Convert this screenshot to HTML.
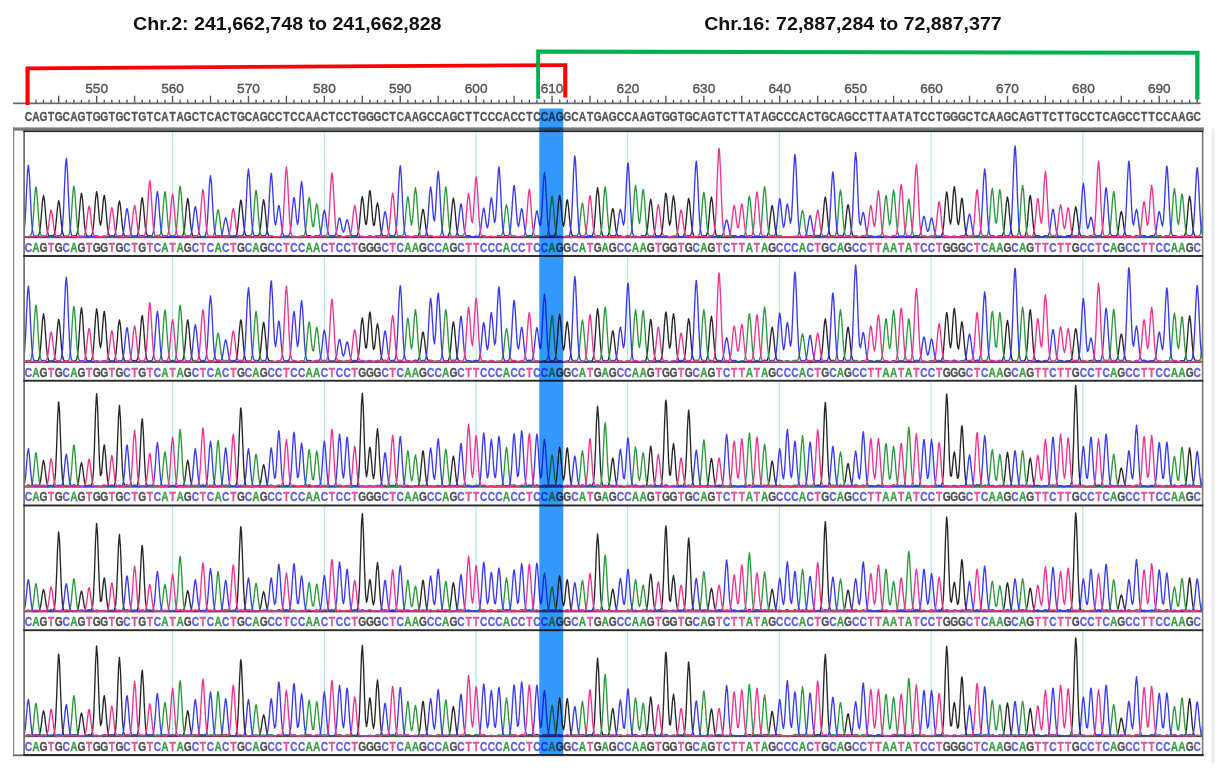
<!DOCTYPE html><html><head><meta charset="utf-8"><style>html,body{margin:0;padding:0;background:#fff;}body{width:1229px;height:777px;overflow:hidden;position:relative;}svg{position:absolute;left:0;top:0;}.sq{font-family:"Liberation Sans",sans-serif;font-weight:bold;font-size:13.6px;text-anchor:middle;stroke-width:0.35px;}</style></head><body>
<svg width="1229" height="777" viewBox="0 0 1229 777">
<defs>
<clipPath id="pc"><rect x="24.9" y="131" width="1176.9" height="625"/></clipPath>
<g id="tr0" fill="none" stroke-width="1.35" stroke-linejoin="round">
<path stroke="#262626" d="M24.50 -0.1l1 0 1-.2 1-.1 .85 0 .15 0 1 0 1 .2 1 0 1 0 1-.2 1-.2 1-.2 .44 0 .56 0 1 0 1-.8 1-2.9 1-7.2 1-11.9 1-12.4 1-5.7 .03 0 .97 5.1 1 12.2 1 12.1 1 7.5 1 3.2 1 .8 1 .1 .62 0 .38 0 1 0 1-.5 1-2.1 1-5.5 1-9.7 1-11.1 1-6.5 .21-.2 .79 3 1 10 1 10.9 1 7.3 1 3.4 1 .9 1 .1 .8 0 .2 0 1 .2 1 .1 1 .2 1-.1 1-.3 1-.3 1-.3 .39 0 .61 0 1 0 1-.7 1-3.2 1-7.8 1-12.7 1-12.9 .98-5.5 .02 0 1 5.9 1 13.1 1 12.5 1 7.6 1 3.2 1 .7 1 0 .57 0 .43 0 1 0 1-.6 1-2.7 1-7.2 1-12.4 1-13.9 1-7.5 .16-.2 .84 4.2 1 12.4 1 12.2 1 4.9 1-4.6 1-11.3 1-10.9 .75-3.1 .25 .3 1 7.8 1 12.9 1 11 1 6.1 1 2.4 1 .5 1 0 .34 0 .66 0 1 0 1-.8 1-2.9 1-6.7 1-10.6 1-10.5 .93-4.1 .07 0 1 5.3 1 10.9 1 10.2 1 6.1 1 2.4 1 .5 1 0 .52 0 .48 0 1 .2 1 .3 1 .2 1 .1 1-.1 1 0 1-.1 .11 0 .89 0 1-.3 1-1.3 1-4.1 1-8.4 1-12 1-10.4 .7-2.6 .3 .5 1 7.7 1 12.2 1 10.2 1 5.5 1 1.9 1 .2 1-.1 .29 0 .71 .1 1 .3 1 .4 1 .1 1-.2 1-.4 1-.4 .88-.2 .12 0 1 .3 1 .5 1 .4 1 .2 1 0 1-.1 1 0 .47 0 .53 0 1 0 1 .1 1 .1 1-.1 1-.1 1-.2 1-.1 .06 0 .94 .1 1 .2 1 .1 1 .1 1 0 1-.1 1 0 .65-.1 .35 0 1-.1 1-.6 1-2.3 1-5.7 1-10.3 1-11.9 1-7.1 .24-.3 .76 3 1 10.5 1 11.6 1 8 1 3.6 1 1.1 1 .2 .83 0 .17 0 1 .1 1 .2 1 .1 1 .1 1-.1 1-.1 1-.1 .42 0 .58 0 1 .1 1 .1 1 .1 1-.1 1-.3 1-.2 1-.1 .01 0 .99 .1 1 .2 1 .2 1 0 1-.3 1-.4 1-.4 .6-.1 .4 .1 1 .3 1 .4 1 .3 1 0 1-.3 1-.4 1-.2 .19 0 .81 .1 1 .3 1 .4 1 .2 1 .1 1-.2 1-.1 .78-.1 .22 0 1 0 1-.4 1-1.8 1-4.9 1-9.3 1-11.5 1-7.8 .37-.7 .63 2 1 9.4 1 11.4 1 8.1 1 3.8 1 1 1-.1 .96-.1 .04 0 1 .2 1 .5 1 .3 1 .2 1-.1 1-.3 1-.3 .55 0 .45 0 1 .1 1-.5 1-2.3 1-5.9 1-10.2 1-11.4 1-6 .14-.1 .86 3.6 1 10.6 1 11.1 1 7.2 1 3.3 1 1 1 .1 .73 .1 .27 0 1 0 1 .1 1 .1 1 0 1 0 1-.1 1-.1 .32 0 .68 0 1 .1 1 .1 1-.1 1-.2 1-.3 1-.3 .91-.2 .09 0 1 .2 1 .4 1 .2 1 .1 1-.1 1-.2 1-.2 .5 0 .5 0 1 .2 1 .3 1 .1 1 .1 1-.1 1-.1 1 0 .09 0 .91 0 1 .1 1 0 1-.1 1-.3 1-.4 1-.4 .68-.1 .32 0 1 .3 1 .5 1 .3 1 0 1-.2 1-.3 1-.2 .27 0 .73 .1 1 .3 1 .3 1 .1 1-.2 1-.3 1-.4 .86-.1 .14 0 1 .2 1 .4 1 .3 1 .2 1 0 1 0 1-.1 .45 0 .55 0 1 .1 1 0 1 0 1-.2 1-.4 1-.4 1-.2 .04 0 .96 .2 1 .4 1 .4 1 .2 1 0 1 0 1-.1 .63 0 .37 0 1 .1 1 0 1 0 1-.2 1-.3 1-.4 1-.3 .22 0 .78 0 1 .1 1-.8 1-3.5 1-8 1-12.1 1-11.2 .81-3.5 .19 .2 1 6.8 1 11.8 1 8.5 1 .2 1-9.1 1-13.7 1-9.9 .4-1 .6 2.2 1 11.5 1 13.5 1 7.9 1-.9 1-8 1-9.7 .99-4.2 .01 0 1 4.5 1 10.2 1 9.7 1 5.9 1 2.3 1 .4 1-.2 .58 0 .42 0 1 .4 1 .4 1 .4 1 .1 1-.1 1-.2 1-.1 .17 0 .83 .1 1 .1 1 .2 1 .1 1-.1 1-.1 1-.1 .76 0 .24 0 1 .1 1 .1 1 0 1 0 1-.2 1-.3 1-.2 .35 0 .65 0 1 .3 1 .2 1 .2 1 0 1-.1 1-.2 .94 0 .06 0 1 0 1-.2 1-1.1 1-3.2 1-6.5 1-8.6 1-6.6 .53-1.1 .47 .8 1 6.4 1 8.6 1 6.7 1 3.4 1 1.2 1 .3 1 0 .12 0 .88 0 1 .1 1 .2 1 0 1 0 1-.1 1-.1 .71 0 .29 0 1 .1 1 .1 1 0 1 0 1-.1 1-.2 1-.1 .3 0 .7 0 1-.1 1-1 1-3.3 1-7.4 1-11.4 1-11.2 .89-4 .11 .1 1 6 1 11.8 1 10.8 1 6.3 1 2.6 1 .6 1 .1 .48 0 .52 0 1 .1 1 .2 1 .1 1-.2 1-.3 1-.4 1-.2 .07 0 .93 .2 1 .3 1 .4 1 .2 1-.1 1-.1 1-.2 .66 0 .34 0 1 .1 1 .2 1 .1 1-.1 1-.2 1-.2 1-.2 .25 0 .75 .1 1 .2 1 .3 1 .1 1 0 1-.1 1-.1 .84 0 .16 0 1 0 1 .2 1 0 1 0 1-.1 1-.2 1-.2 .43 0 .57 0 1 .2 1 .2 1 .2 1 0 1 0 1-.1 1 0 .02 0 .98 0 1 .1 1 0 1 0 1-.1 1-.2 1-.1 .61-.1 .39 .1 1 .1 1 .1 1 .2 1 0 1 0 1-.1 1 0 .2 0 .8 0 1 0 1 .1 1-.1 1-.2 1-.4 1-.3 .79-.1 .21 0 1 .2 1 .4 1 .2 1 .1 1-.2 1-.3 1-.2 .38 0 .62 .1 1 .2 1 .3 1 .2 1 0 1-.1 1-.1 .97-.1 .03 0 1 .1 1 .1 1 .1 1 0 1-.2 1-.2 1-.2 .56-.1 .44 0 1 0 1-.5 1-2.6 1-6.6 1-11.4 1-12.7 1-6.9 .15-.1 .85 3.9 1 11.5 1 11.1 1 4.5 1-4.1 1-10.1 1-9.7 .74-2.7 .26 .3 1 7.1 1 11.5 1 9.7 1 5.4 1 1.9 1 .2 1-.2 .33 0 .67 .1 1 .4 1 .4 1 .2 1 0 1-.2 1-.2 .92-.1 .08 0 1 .1 1 .2 1 .2 1 .1 1-.2 1-.3 1-.2 .51 0 .49 0 1 0 1-.8 1-3.3 1-8.1 1-13.7 1-15 1-7.5 .1-.1 .9 5.2 1 14.2 1 14.6 1 9.3 1 4 1 1.2 1 .1 .69 0 .31 0 1 .1 1-.3 1-1.4 1-4.1 1-7.4 1-8.8 1-5.5 .28-.3 .72 2 1 7.6 1 8.6 1 6 1 2.6 1 .7 1-.1 .87-.1 .13 0 1 .2 1 .4 1 .2 1 0 1-.3 1-.5 1-.3 .46-.1 .54 .1 1 .4 1 .4 1 .4 1 0 1-.1 1-.2 1-.1 .05 0 .95 .1 1 .2 1 .1 1 0 1-.2 1-.4 1-.4 .64-.1 .36 0 1 .2 1-.3 1-2 1-5.5 1-10 1-11.7 1-6.8 .23-.3 .77 3 1 10.3 1 11.4 1 7.7 1 3.4 1 .9 1 0 .82 0 .18 0 1 .1 1-.3 1-1.9 1-5.7 1-10.8 1-13.7 1-9.6 .41-1 .59 2 1 10.7 1 12.6 1 6.8 1-2.4 1-10.1 1-11.8 1-5.2 1 5.4 1 12.2 1 11.9 1 7.3 1 3.2 1 .9 1 .2 .59 0 .41 0 1-.1 1-.7 1-2.4 1-6 1-10.5 1-11.8 1-6.6 .18-.2 .82 3.4 1 10.8 1 11.6 1 7.6 1 3.6 1 1.1 1 .2 .77 0 .23 0 1 .1 1 0 1 0 1-.1 1-.3 1-.4 1-.2 .36-.1 .64 .1 1 0 1-.6 1-3 1-7.3 1-11.6 1-11.7 .95-4.7 .05 0 1 5.7 1 12 1 11.3 1 6.9 1 2.9 1 .7 1 .1 .54 .1 .46 0 1 .1 1 .1 1 .1 1 0 1-.1 1-.1 1 0 .13 0 .87 0 1 .1 1 0 1 0 1-.3 1-.4 1-.4 .72-.1 .28 0 1 .3 1 .4 1 .3 1 0 1-.3 1-.4 1-.3 .31 0 .69 .1 1 .3 1 .4 1 .2 1 0 1-.3 1-.3 .9-.1 .1 0 1 .1 1 .4 1 .3 1 .1 1-.1 1-.1 1-.2 .49 0 .51 0 1 .2 1 .1 1 .1 1 0 1-.1 1-.2 1 0 .08-.1 .92 .1 1-.2 1-1 1-3.3 1-6.8 1-9.7 1-8.2 .67-1.9 .33 .5 1 6.4 1 9.8 1 8 1 4.4 1 1.5 1 .2 1-.1 .26 0 .74 .1 1 .2 1 .3 1 .1 1 0 1-.1 1-.1 .85 0 .15 0 1 0 1 .2 1 0 1 0 1-.2 1-.2 1-.2 .44 0 .56 0 1 .2 1 .3 1 .1 1 0 1-.1 1-.2 1-.1 .03 0 .97 .1 1 .1 1 .2 1-.1 1-.3 1-.5 1-.4 .62 0 .38 0 1 .3 1 .5 1 .2 1 0 1-.3 1-.5 1-.3 .21 0 .79 .1 1 .1 1-.8 1-3.4 1-8 1-12 1-11.1 .8-3.4 .2 .2 1 7 1 12.4 1 10.8 1 6.1 1 2.4 1 .6 1 0 .39 0 .61 .1 1 .1 1 .1 1 0 1-.2 1-.4 1-.5 .98-.2 .02 0 1 .2 1 .1 1-.9 1-3.5 1-7.3 1-10 1-8 .57-1.4 .43 .8 1 7.2 1 10.1 1 7.9 1 4.1 1 1.4 1 .2 1 0 .16 0 .84 .1 1 .2 1 .2 1 .1 1 0 1 0 1-.1 .75 0 .25 0 1 0 1 .1 1 0 1-.1 1-.1 1-.3 1-.1 .34 0 .66 0 1 .2 1 .2 1 .1 1-.1 1-.2 1-.3 .93-.1 .07 0 1 .2 1 .2 1 .2 1 .1 1-.2 1-.3 1-.2 .52 0 .48 0 1 .2 1 .3 1 .2 1 0 1-.1 1-.1 1-.1 .11 0 .89 .1 1 .1 1 .1 1 0 1-.1 1-.3 1-.2 .7-.1 .3 0 1 .2 1 .3 1 .2 1 .1 1 0 1-.1 1 0 .29 0 .71 0 1 .1 1 0 1 0 1-.1 1-.2 1-.1 .88-.1 .12 0 1 .1 1 .2 1 .1 1 .1 1-.1 1 0 1-.1 .47 0 .53 0 1 .1 1 0 1 .1 1-.1 1-.2 1-.3 1-.1 .06 0 .94 .1 1 .2 1 .3 1 .1 1 0 1-.1 1 0 .65-.1 .35 0 1-.1 1-.7 1-2.7 1-6.8 1-11.9 1-14 1-8.3 .24-.3 .76 3.4 1 11.9 1 12.1 1 4.7 1-5.6 1-13.6 1-13.8 .83-4.5 .17 .2 1 8.4 1 14.9 1 11.8 1 3 1-6.3 1-11.2 1-8.3 .42-.9 .58 1.8 1 9.6 1 12 1 8.8 1 4.3 1 1.3 1 .1 1 0 .01 0 .99 .1 1 .3 1 .3 1 0 1-.1 1-.3 1-.2 .6 0 .4 0 1 .2 1 .2 1 .2 1-.1 1-.3 1-.3 1-.2 .19-.1 .81 .2 1 .3 1 .3 1 .2 1-.1 1-.3 1-.3 .78-.1 .22 0 1 .2 1 .3 1 .2 1 .1 1-.3 1-.3 1-.3 .37 0 .63 0 1 .1 1-.7 1-3 1-7.2 1-11.6 1-11.7 .96-4.8 .04 0 1 5.6 1 12 1 11.3 1 6.9 1 2.8 1 .7 1 0 .55 0 .45 .1 1 .1 1 .3 1 .1 1 0 1-.2 1-.2 1-.1 .14 0 .86 0 1-.1 1-1.3 1-4.1 1-8.7 1-12.7 1-11.1 .73-3 .27 .4 1 7.9 1 13 1 10.9 1 6.1 1 2.3 1 .6 1 .1 .32 0 .68 0 1 .1 1 .1 1 0 1-.2 1-.3 1-.4 .91-.1 .09 0 1 .2 1 .3 1 .3 1 .1 1-.2 1-.3 1-.3 .5 0 .5 0 1 .3 1 .3 1 .3 1 .1 1-.1 1 0 1-.1 .09 0 .91 .1 1 0 1 .1 1-.1 1-.3 1-.4 1-.4 .68-.1 .32 0 1 .2 1-.1 1-1.4 1-4.2 1-7.9 1-9.3 1-5.7 .27-.3 .73 2.1 1 8.1 1 9.1 1 6.3 1 2.8 1 .7 1 0 .86-.1 .14 0 1 .2 1 .3 1 .2 1 .1 1-.3 1-.3 1-.3 .45 0 .55 0 1 .3 1 .4 1 .1 1 0 1-.4 1-.4 1-.1 .04 0 .96 .1 1 .4 1 .4 1 .2 1 0 1-.1 1-.1 .63 0 .37 0 1 .1 1 .1 1 0 1-.1 1-.2 1-.3 1-.1 .22 0 .78 0 1 .1 1-.6 1-2.1 1-5.1 1-7.6 1-7.1 .81-2.2 .19 .1 1 4.4 1 7.9 1 6.8 1 3.8 1 1.3 1 0 1-.2 .4 0 .6 .1 1 .3 1 .4 1 .2 1-.1 1-.3 1-.4 .99-.1 .01 0 1 .1 1 .4 1 .3 1 .1 1-.2 1-.4 1-.3 .58-.1 .42 .1 1 .3 1 .4 1 .2 1 .1 1-.3 1-.2 1-.2 .17 0 .83 .1 1 .2 1 .3 1 .1 1-.2 1-.5 1-.3 .76-.2 .24 .1 1 .2 1 .5 1 .3 1 0 1-.2 1-.3 1-.2 .35-.1 .65 .1 1 .3 1 .3 1 .2 1-.1 1-.3 1-.3 .94-.2 .06 0 1 .2 1 .3 1 .3 1 .2 1 0 1-.2 1-.1 .53 0 .47 0 1-.1 1-.7 1-2.7 1-6.7 1-11.3 1-12.4 1-6.4 .12-.1 .88 4.2 1 11.6 1 12.1 1 7.9 1 3.4 1 1.1 1 .2 .71 0 .29 0 1 .1 1 .1 1 .1 1-.1 1-.1"/>
<path stroke="#2a9a3c" d="M24.50 -0.1l1-.1 1-.2 1-.2 .85-.1 .15 0 1 0 1-.5 1-2.2 1-6.4 1-12.2 1-15.7 1-11.2 .44-1.3 .56 2.1 1 12.3 1 15.5 1 11.5 1 5.7 1 1.8 1 .2 1-0 .03-0 .97 .1 1 .3 1 .4 1 .1 1-0 1-0 1-.1 .62-0 .38-0 1 .1 1-0 1 .1 1-.1 1-.3 1-.3 1-.1 .21-.1 .79 .1 1 .3 1 .2 1 .2 1-.1 1-.2 1-.2 .8-0 .2-0 1-.1 1-.5 1-2.4 1-6.7 1-12.7 1-15.9 1-10.8 .39-1.1 .61 2.6 1 12.7 1 15.8 1 11.3 1 5.6 1 1.7 1 .3 .98-0 .02-0 1 .1 1 .3 1 .2 1 .2 1-0 1-.1 1-0 .57-.1 .43 .1 1-0 1 .1 1-0 1-.1 1-.2 1-.3 1-.1 .16-0 .84 .1 1 .2 1 .2 1 .2 1-0 1-.1 1-.1 .75-0 .25-0 1 .1 1-0 1 .1 1-0 1-.1 1-.1 1-0 .34-0 .66-0 1 .1 1-0 1 .1 1-.2 1-.2 1-.2 .93-.1 .07-0 1 .1 1 .2 1 .2 1-0 1-.3 1-.4 1-.3 .52-.1 .48 .1 1 .3 1 .4 1 .3 1 .1 1-0 1-.1 1-.1 .11-0 .89 .1 1 .1 1 .1 1-0 1-.1 1-.1 1-.2 .7-0 .3-0 1 .1 1 .1 1 .1 1-.1 1-.2 1-.4 1-.2 .29-0 .71 .1 1 .3 1 .3 1-0 1-.1 1-.4 1-.5 .88-.1 .12-0 1 .1 1-.1 1-1.8 1-5.4 1-10.9 1-14.1 1-10.4 .47-1.4 .53 1.7 1 10.9 1 14.1 1 10.6 1 5.3 1 1.8 1 .3 1-0 .06-0 .94-0 1-.3 1-1.7 1-5.3 1-11.2 1-15.6 1-13.1 .65-2.9 .35 .9 1 10.5 1 15.8 1 12.9 1 7 1 2.7 1 .7 1 .1 .24-0 .76-0 1 .1 1 .1 1-.1 1-.3 1-.4 1-.4 .83-.1 .17-0 1 .2 1 .5 1 .3 1 .2 1-.1 1-.2 1-.1 .42-0 .58-0 1 .2 1 .1 1 .2 1-0 1-.1 1-.2 1-0 .01-0 .99-0 1-.2 1-1 1-3 1-6.1 1-8.5 1-6.8 .6-1.3 .4 .6 1 5.9 1 8.5 1 6.7 1 3.6 1 1.2 1 .2 1-0 .19-0 .81-0 1 .2 1 .1 1-0 1-.2 1-.4 1-.3 .78-.1 .22-0 1 .2 1 .4 1 .3 1 .2 1-0 1-.2 1-0 .37-.1 .63 .1 1 .1 1 .1 1-0 1-.1 1-.3 1-.3 .96-.1 .04-0 1-0 1-.2 1-1.7 1-5.4 1-10.7 1-14.6 1-11.3 .55-1.9 .45 1.3 1 10.5 1 14.6 1 11.3 1 5.9 1 2.1 1 .4 1-0 .14-0 .86-0 1 .2 1 .2 1 .1 1-.2 1-.2 1-.3 .73-.1 .27-0 1 .2 1 .3 1 .3 1 .1 1-.1 1-0 1-.1 .32-0 .68-0 1 .1 1 .1 1-0 1-0 1-.1 1-.1 .91-0 .09-0 1 .1 1-0 1 .1 1-0 1-.1 1-.2 1-.1 .5-0 .5-0 1 .1 1 .2 1-0 1-.1 1-.3 1-.4 1-.2 .09-0 .91 .1 1-0 1-1.2 1-3.9 1-8.4 1-12.1 1-10.3 .68-2.4 .32 .5 1 7.8 1 11.7 1 8.2 1 .7 1-6.5 1-9.7 1-6.2 .27-.3 .73 2.4 1 8.9 1 10 1 6.9 1 3.2 1 .8 1-0 .86-0 .14-0 1 .1 1 .3 1 .3 1-0 1-.1 1-.2 1-.2 .45-0 .55-0 1 .2 1 .2 1 .2 1-0 1-.2 1-.1 1-.1 .04-0 .96 .1 1 .1 1 .1 1-0 1-.2 1-.4 1-.3 .63-.1 .37-0 1 .3 1 .4 1 .2 1-0 1-.2 1-.4 1-.2 .22-0 .78 .1 1 .3 1 .4 1 .2 1-0 1-.2 1-.1 .81-0 .19-0 1 .1 1 .1 1 .1 1-.1 1-.2 1-.3 1-.2 .4-0 .6-0 1 .3 1 .3 1 .1 1-0 1-.3 1-.2 .99-.1 .01-0 1 .1 1 .2 1 .3 1-0 1-.3 1-.4 1-.4 .58-0 .42-0 1 .3 1 .4 1 .3 1-0 1-.3 1-.3 1-.2 .17-0 .83 .1 1 .3 1 .4 1 .2 1-.1 1-.1 1-.2 .76-0 .24-0 1-0 1-.5 1-2 1-5.5 1-10.2 1-12.6 1-8.3 .35-.7 .65 2.2 1 10.1 1 11.1 1 4.9 1-4.8 1-12.9 1-14 .94-5.6 .06-0 1 7.1 1 14.8 1 13.9 1 8.4 1 3.5 1 .8 1 .1 .53-0 .47-0 1 .2 1 .2 1 .1 1-.1 1-.3 1-.4 1-.2 .12-0 .88 .2 1 .3 1 .4 1 .2 1-0 1-.1 1-.1 .71-0 .29-0 1-.1 1-.7 1-2.8 1-7.1 1-13 1-15.6 1-9.9 .3-.6 .7 3.3 1 13.3 1 15.3 1 10.7 1 5.2 1 1.7 1 .4 .89-0 .11-0 1 .1 1-0 1 .1 1-.1 1-.3 1-.3 1-.3 .48-0 .52-0 1 .3 1 .3 1 .2 1-.1 1-.3 1-.4 1-.2 .07-0 .93 .2 1 .3 1 .4 1 .1 1-.1 1-.3 1-.2 .66-.1 .34-0 1 .2 1 .3 1 .2 1-.1 1-.3 1-.5 1-.2 .25-0 .75 .1 1 .4 1 .4 1 .2 1-0 1-.1 1-.2 .84-0 .16-0 1 .1 1 .1 1 .2 1-.1 1-.2 1-.4 1-.2 .43-.1 .57-0 1 .2 1-.5 1-2.2 1-5.5 1-9.2 1-9.7 1-4.3 .02-0 .98 4 1 9.6 1 9.3 1 5.7 1 2.4 1 .5 1-.1 .61-0 .39-0 1 .2 1 .3 1 .2 1-0 1-.1 1-.3 1-.1 .2-0 .8-0 1 .3 1 .2 1-0 1-.2 1-.4 1-.4 .79-.1 .21-0 1 .3 1 .4 1 .3 1-0 1-.3 1-.5 1-.3 .38-0 .62 .1 1 .3 1 .5 1 .3 1-0 1-.2 1-.3 .97-.1 .03-0 1-0 1-.2 1-1.4 1-4.7 1-9.3 1-12.7 1-10 .56-1.7 .44 1.1 1 9.1 1 12.8 1 9.9 1 5.3 1 1.9 1 .4 1 .1 .15-0 .85-0 1 .1 1 .1 1-.1 1-.2 1-.4 1-.3 .74-.1 .26-0 1 .2 1 .4 1 .2 1 .1 1-.2 1-.4 1-.2 .33-0 .67-0 1 .1 1-.6 1-2.6 1-6.3 1-9.9 1-9.8 .92-3.7 .08-0 1 5.1 1 10.2 1 9.4 1 5.6 1 2.1 1 .3 1-.1 .51-.1 .49 .1 1 .3 1 .4 1 .3 1 .1 1-.1 1-.2 1-.1 .1-0 .9-0 1-.3 1-1.7 1-5.1 1-10.7 1-15.4 1-13.2 .69-3.2 .31 .7 1 9.9 1 15.6 1 12.9 1 7 1 2.5 1 .5 1-.1 .28-0 .72 .1 1 .3 1 .4 1 .2 1 .1 1-.1 1-0 .87-0 .13-0 1-0 1 .1 1-0 1-.1 1-.2 1-.2 1-.2 .46-.1 .54-0 1-0 1-1 1-3.6 1-8.8 1-14.6 1-15.5 1-7.3 .05-0 .95 6 1 14.6 1 13.2 1 4.3 1-6.3 1-13.4 1-11.9 .64-2.6 .36 .8 1 10 1 14.9 1 12.1 1 6.5 1 2.5 1 .6 1 .1 .23-0 .77-0 1 .1 1 .1 1-.1 1-.2 1-.4 1-.4 .82-.1 .18-0 1 .2 1 .4 1 .4 1 .1 1-0 1-.1 1-.1 .41-0 .59-0 1 .1 1 .1 1 .1 1-.1 1-.1 1-.2 1-0 1-0 1 .2 1 .1 1-0 1-.1 1-.2 1-.2 .59-0 .41-0 1 .1 1 .2 1 .1 1-.1 1-.3 1-.5 1-.2 .18-0 .82 .1 1 .4 1 .4 1 .3 1-0 1-0 1-.1 .77-0 .23-0 1-.1 1-.6 1-2.3 1-6.1 1-11.3 1-14 1-9.3 .36-.8 .64 2.5 1 11.4 1 13.8 1 9.8 1 4.7 1 1.5 1 .1 .95-0 .05-0 1 .2 1 .2 1 .3 1-.1 1-.2 1-.4 1-.4 .54-0 .46-0 1 .3 1 .4 1 .3 1-0 1-.3 1-.4 1-.2 .13-0 .87 .1 1 .4 1 .3 1 .1 1-.2 1-.3 1-.4 .72-.1 .28-0 1 .3 1 .4 1 .3 1 .2 1-.1 1-.2 1-.1 .31-0 .69-0 1-.1 1-1 1-3.4 1-7.7 1-12 1-11.8 .9-4.3 .1 .1 1 6.2 1 12.4 1 11.4 1 6.7 1 2.7 1 .6 1 .1 .49-0 .51-0 1-.1 1-.9 1-3.5 1-8.4 1-14.1 1-15.3 1-7.5 .08-0 .92 5.6 1 14.6 1 14.7 1 9.4 1 3.9 1 .9 1-.1 .67-.1 .33 .1 1 .3 1 .5 1 .3 1 .2 1-0 1-.1 1-.1 .26-0 .74-0 1 .1 1 .1 1 .1 1-.1 1-.1 1-.1 .85-0 .15-0 1-0 1 .2 1 .1 1-0 1-.1 1-.2 1-.1 .44-0 .56-0 1-.1 1-.4 1-1.9 1-4.7 1-7.7 1-8 1-3.7 .03-0 .97 3.3 1 7.9 1 7.8 1 4.8 1 2 1 .4 1-.1 .62-0 .38-0 1 .2 1 .3 1 .1 1-0 1-.2 1-.3 1-.2 .21-0 .79 .1 1 .2 1 .3 1 .2 1-0 1-.2 1-.1 .8-.1 .2-0 1 .1 1 .2 1 .1 1 .1 1-0 1-.1 1-0 .39-0 .61-.1 1-.2 1-1.1 1-3.7 1-8.5 1-13.6 1-13.8 .98-5.9 .02-0 1 6.3 1 14 1 13.4 1 8.3 1 3.4 1 .9 1 .1 .57-0 .43-0 1 .2 1 .2 1 .1 1-.1 1-.2 1-.3 1-.2 .16-0 .84 .1 1 .3 1 .2 1 .1 1-.3 1-.4 1-.4 .75-.1 .25-0 1 .3 1 .4 1 .4 1-0 1-.2 1-.3 1-.2 .34-.1 .66 .1 1 .3 1 .3 1 .2 1-0 1-.3 1-.2 .93-.1 .07-0 1-0 1-.2 1-1.6 1-4.9 1-9.7 1-13 1-9.9 .52-1.5 .48 1.3 1 9.3 1 12 1 6.8 1-2.6 1-11.2 1-13.7 1-7.2 .11-.1 .89 4.9 1 13.5 1 13.9 1 9 1 4 1 1.2 1 .3 .7-0 .3-0 1-.1 1-.5 1-2.1 1-5.5 1-9.8 1-11.7 1-7.4 .29-.4 .71 2.5 1 10.1 1 11.5 1 7.9 1 3.6 1 1 1-0 .88-.1 .12-0 1 .2 1 .4 1 .3 1-0 1-.2 1-.5 1-.3 .47-0 .53-0 1 .4 1 .4 1 .2 1-0 1-.4 1-.3 1-.2 .06-0 .94 .1 1 .4 1 .4 1 .1 1-0 1-.2 1-.2 .65-.1 .35 .1 1 .1 1 .2 1 .2 1-0 1-.2 1-.2 1-.2 .24-0 .76 .1 1 .2 1 .2 1 .1 1 .1 1-.1 1-.1 .83-0 .17-0 1-0 1 .1 1-0 1-0 1-.3 1-.3 1-.3 .42-0 .58 .1 1 .2 1 .4 1 .2 1 .1 1-.1 1-.1 1-0 .01-0 .99-0 1 .1 1 .1 1-0 1-0 1-.1 1-.1 .6-0 .4-0 1 .1 1 .1 1-0 1-0 1-.2 1-.1 1-.1 .19-0 .81-0 1-.3 1-1.4 1-4.6 1-9.9 1-14.6 1-13.4 .78-3.9 .22 .3 1 8.6 1 14.3 1 10.5 1 .9 1-8.9 1-14 1-9.7 .37-.9 .63 2.5 1 12.1 1 14.7 1 10.5 1 5.2 1 1.8 1 .4 .96-0 .04-0 1 .1 1-0 1 .1 1-0 1-0 1-0 1-.1 .55-0 .45-0 1-.2 1-1 1-3.5 1-8.3 1-14.2 1-15.8 1-8.4 .14-.1 .86 5 1 14.7 1 15.3 1 10.1 1 4.5 1 1.4 1 .3 .73-0 .27 .1 1-0 1 .1 1 .1 1-.1 1-.1 1-.3 1-.1 .32-0 .68-0 1 .2 1 .2 1 .2 1-0 1-.1 1-0 .91-0 .09-0 1-0 1-0 1 .1 1-.2 1-.3 1-.4 1-.4 .5-0 .5-0 1 .4 1 .4 1 .2 1-0 1-.2 1-.3 1-.2 .09-0 .91 .2 1 .3 1 .3 1 .1 1-0 1-.1 1-.1 .68-0 .32-0 1 .1 1 .1 1 .1 1-.1 1-.1 1-.1 1-.1 .27-.1 .73 .1 1 .1 1 .2 1-0 1-0 1-.2 1-.2 .86-.1 .14-0 1 .1 1 .2 1 .2 1-0 1-.1 1-.2 1-.2 .45-0 .55-0 1 .2 1 .2 1 .1 1 .1 1-.1 1-.1 1-.1 .04-0 .96 .1 1 .1 1-0 1-.1 1-.2 1-.5 1-.3 .63-.1 .37-0 1 .1 1-.4 1-2.4 1-6.8 1-12.1 1-14 1-8.2 .22-.3 .78 3.7 1 12.5 1 13.7 1 9.2 1 4.2 1 1.2 1 .1 .81-0 .19-0 1 .2 1 .2 1 .2 1-0 1-.1 1-.3 1-.2 .4-0 .6 .1 1 .2 1 .2 1 .2 1 .1 1-.1 1-.1 .99-0 .01-0 1-0 1 .1 1 .1 1-0 1-0 1-.1 1-.1 .58-0 .42-0 1-0 1 .1 1 .1 1-.1 1-.2 1-.2 1-.1 .17-0 .83 .1 1 .2 1 .2 1-0 1-0 1-.2 1-.1 .76-.1 .24-0 1 .1 1 .2 1 .1 1-.1 1-.3 1-.5 1-.2 .35-.1 .65 .1 1-0 1-.9 1-3.7 1-8.8 1-14.2 1-14.1 .94-5.6 .06-0 1 6.9 1 14.1 1 11.8 1 3.2 1-6.6 1-12.3 1-10.1 .53-1.6 .47 1.3 1 9.9 1 13.4 1 10.3 1 5.2 1 1.6 1 .1 1-.1 .12-0 .88 .1 1 .5 1 .4 1 .2 1-.1 1-.2 1-.3 .71-.1 .29-0 1 .1 1-.5 1-2.3 1-6.3 1-11.6"/>
<path stroke="#3a3aee" d="M24.50 -9.2l1-14.1 1-21.4 1-20.3 .85-6.8 .15 .2 1 11.8 1 21.9 1 19.7 1 11.5 1 4.8 1 1.3 1 .3 .44-0 .56 .1 1-0 1 .1 1-0 1-.2 1-.2 1-.3 1-.1 .03-0 .97 .1 1 .2 1 .2 1-0 1-.2 1-.5 1-.4 .62-.1 .38 .1 1 .3 1 .5 1 .3 1-0 1-.3 1-.5 1-.2 .21-0 .79-0 1-.2 1-2.1 1-7.1 1-15.8 1-23.7 1-21.7 .8-6.7 .2 .4 1 13.8 1 24.2 1 21.2 1 12.1 1 4.9 1 1.3 1 .2 .39-0 .61 .1 1 .1 1 .2 1-0 1-0 1-.2 1-.2 .98-.1 .02-0 1 .1 1 .2 1 .2 1-0 1-0 1-.1 1-.1 .57-0 .43-0 1 .1 1 .1 1-0 1-.1 1-.4 1-.4 1-.2 .16-0 .84 .1 1 .4 1 .3 1 .2 1-.1 1-.2 1-.3 .75-0 .25-0 1 .1 1 .3 1 .2 1-.1 1-.2 1-.4 1-.3 .34-0 .66 .1 1 .3 1 .4 1 .2 1-0 1-.1 1-.2 .93-.1 .07-0 1 .1 1-.2 1-1.1 1-3.3 1-6.6 1-8.9 1-6.8 .52-1 .48 .9 1 6.6 1 8.8 1 6.7 1 3.4 1 .9 1-0 1-.1 .11-0 .89 .1 1 .4 1 .3 1 .1 1-.2 1-.5 1-.4 .7-.1 .3-0 1 .3 1 .5 1 .3 1 .1 1-.3 1-.4 1-.3 .29-0 .71-0 1 .1 1-.9 1-3.7 1-8.6 1-13.4 1-13 .88-4.6 .12 .1 1 7.2 1 13.8 1 12.5 1 7.3 1 2.8 1 .5 1-0 .47-.1 .53 .1 1 .3 1 .4 1 .2 1-0 1-.3 1-.4 1-.1 .06-0 .94 .1 1 .4 1 .3 1 .2 1-0 1-.2 1-.1 .65-0 .35-0 1 .1 1 .1 1 .1 1-.1 1-.2 1-.2 1-.2 .24-0 .76-0 1-0 1-.6 1-2.6 1-6 1-9.1 1-8.5 .83-2.8 .17 .1 1 5.2 1 9.3 1 8.3 1 4.8 1 1.9 1 .6 1-0 .42-0 .58-0 1-.3 1-1.4 1-4.7 1-10.8 1-17.6 1-18.2 1-8.1 .01 0 .99 7.8 1 18.1 1 17.7 1 10.9 1 4.7 1 1.4 1 .2 .6 0 .4 0 1 .1 1-.2 1-1.1 1-3 1-5.1 1-6 1-3.3 .19-.1 .81 1.7 1 5.3 1 5.8 1 3.8 1 1.5 1 .3 1-.2 .78-.1 .22 0 1 .2 1 .4 1 .2 1 0 1-.3 1-.5 1-.3 .37-.1 .63 .1 1-.1 1-1.2 1-5.2 1-12.3 1-19.8 1-19.9 .96-8.2 .04 0 1 9.5 1 20.4 1 19.3 1 11.6 1 4.8 1 1.1 1 0 .55 0 .45 0 1 .4 1 .4 1 .3 1-.1 1-.4 1-.4 1-.3 .14 0 .86 .1 1-.2 1-1.7 1-6.1 1-13.2 1-19.3 1-17.1 .73-4.5 .27 .6 1 12 1 19.2 1 15 1 4.8 1-4.4 1-8.7 1-6.1 .32-.4 .68 2 1 8.2 1 9.7 1 6.8 1 3.2 1 1 1 .2 .91-0 .09-0 1-0 1-.4 1-1.6 1-4.8 1-9.4 1-12.4 1-9.3 .5-1.3 .5 1.3 1 9 1 11.2 1 5.4 1-4.4 1-13.8 1-16.3 1-8.3 .09-0 .91 6 1 16 1 16.4 1 10.4 1 4.6 1 1.4 1 .3 .68-0 .32-0 1 .1 1 .1 1 .1 1-.1 1-.2 1-.4 1-.2 .27-0 .73 .1 1 .1 1-.5 1-2.2 1-5.1 1-8 1-7.7 .86-2.6 .14 .1 1 4.3 1 8.3 1 7.3 1 4.2 1 1.5 1 .1 1-.2 .45-0 .55 .1 1 .2 1-0 1-1.2 1-3.1 1-5.5 1-5.7 1-2.7 .04-0 .96 2.3 1 5.4 1 5 1 1.6 1-2.3 1-4.8 1-4.3 .63-.9 .37 .3 1 3.7 1 5.3 1 4.3 1 2.2 1 .5 1-.1 1-.2 .22-0 .78 .1 1 .3 1 .4 1 .3 1-0 1-0 1-.1 .81-0 .19-0 1-0 1 .1 1-0 1-.1 1-.2 1-.4 1-.2 .4-0 .6-0 1 .3 1 .3 1 .2 1-.2 1-.4 1-.4 .99-.2 .01-0 1 .2 1 .1 1-.6 1-2.7 1-5.7 1-7.9 1-6.2 .58-1.2 .42 .6 1 5.6 1 7.9 1 6.2 1 3.2 1 .9 1-0 1-.2 .17-0 .83-0 1-.2 1-2 1-6.7 1-14.7 1-21.5 1-19.4 .76-5.5 .24 .6 1 13.1 1 22 1 18.9 1 10.7 1 4.2 1 1.1 1 .2 .35-0 .65 .1 1 .1 1 .1 1-0 1-.2 1-.4 1-.4 .94-.1 .06-0 1 .2 1 .4 1 .3 1 .1 1-0 1-.2 1-.1 .53-.1 .47-0 1-.1 1-.8 1-3.3 1-8.2 1-13.8 1-15.3 1-7.9 .12-.1 .88 5 1 13.7 1 12.5 1 3 1-9.6 1-18.6 1-17 .71-4.4 .29 .7 1 12.8 1 20.4 1 17 1 9.4 1 3.6 1 .8 1 .1 .3-0 .7 .1 1 .2 1 .2 1 .1 1-.1 1-.2 1-.2 .89-.1 .11-0 1 .1 1-.2 1-1.4 1-4 1-7.9 1-10.3 1-7.7 .48-1 .52 1.2 1 7.9 1 10.3 1 7.7 1 3.8 1 1.1 1 .1 1-.1 .07-0 .93 .1 1 .4 1 .3 1 .2 1-0 1-.1 1-.1 .66-0 .34-.1 1-0 1-.3 1-1.7 1-4.2 1-7.7 1-9 1-5.4 .25-.2 .75 2.1 1 7.6 1 7.6 1 2.5 1-5 1-10.7 1-10.9 .84-3.6 .16 .1 1 6.4 1 11.1 1 7.3 1-2.8 1-14.7 1-21.1 1-15.4 .43-1.7 .57 3.1 1 17.2 1 21.7 1 16 1 7.9 1 2.6 1 .4 1-.1 .02 0 .98 .1 1-.1 1-1.7 1-5.6 1-11.5 1-15.9 1-13 .61-2.6 .39 1.1 1 10.9 1 15.6 1 11.1 1 2.5 1-5 1-8 1-4.9 .2-.1 .8 2.4 1 7.9 1 8.5 1 5.6 1 2.4 1 .4 1-.2 .79-.1 .21 0 1 .2 1 .1 1-.9 1-3.3 1-6.5 1-8.1 1-5.6 .38-.5 .62 1.3 1 6.2 1 6.5 1 .6 1-8.9 1-17.7 1-18.7 .97-7.9 .03 0 1 8.9 1 19.3 1 18.4 1 11.2 1 4.7 1 1.2 1 .1 .56 0 .44 0 1 .3 1 .3 1 .2 1 0 1 0 1-.1 1-.1 .15 0 .85 .1 1 .1 1 .1 1 0 1 0 1 0 1-.1 .74 0 .26-.1 1-.2 1-1.2 1-4.4 1-11.4 1-20.7 1-25.3 1-16.4 .33-1.2 .67 4.9 1 21.1 1 24.8 1 17.6 1 8.4 1 2.7 1 .4 .92 .1 .08-0 1 .2 1 .3 1 .2 1 .1 1-.1 1-.3 1-.2 .51-0 .49-0 1 .2 1 .3 1 .1 1-.2 1-.3 1-.5 1-.2 .1-0 .9 .2 1 .4 1 .4 1 .2 1-.1 1-.2 1-.2 .69-0 .31-0 1 .2 1 .2 1 .1 1-.1 1-.3 1-.4 1-.3 .28-0 .72-0 1 .2 1-.4 1-2.1 1-5.2 1-8.2 1-7.9 .87-2.8 .13 0 1 4.3 1 7.5 1 4.1 1-4.8 1-16.1 1-22.5 1-16.7 .46-2.1 .54 2.9 1 17.8 1 23.1 1 17.2 1 8.7 1 3 1 .7 1 .1 .05-0 .95 .1 1 .2 1 .1 1-0 1-.1 1-.1 1-.2 .64-0 .36-0 1 .1 1 .2 1 .1 1-0 1-.1 1-.1 1-.1 .23-0 .77-0 1 .1 1 .2 1-0 1-.2 1-.3 1-.2 .82-.1 .18-0 1 .2 1 .3 1 .2 1 .1 1-.1 1-.1 1-.2 .41-0 .59 .1 1 .1 1 .2 1-0 1-.1 1-.2 1-.2 1-.1 1 .1 1 .2 1 .3 1-0 1-0 1-.1 1-.1 .59-0 .41-0 1 .1 1 .1 1-0 1-.2 1-.4 1-.4 1-.3 .18-0 .82-0 1-.2 1-2 1-7.1 1-15.5 1-23 1-20.7 .77-6 .23 .6 1 13.8 1 23.4 1 20.2 1 11.4 1 4.5 1 1.1 1 .1 .36-0 .64 .1 1 .2 1 .2 1 .1 1-0 1-.3 1-.3 .95-.1 .05-0 1 .1 1 .3 1 .2 1-0 1-.2 1-.5 1-.3 .54-.1 .46 .1 1 .2 1 .1 1-.8 1-2.6 1-4.8 1-5.2 1-2.8 .13-0 .87 1.7 1 4.9 1 5.1 1 3.2 1 1.2 1 .1 1-.3 .72-.1 .28-0 1 .3 1 .5 1 .3 1 .1 1-.2 1-.2 1-.2 .31-0 .69 .1 1 .2 1 .2 1 .1 1-0 1-.3 1-.2 .9-.1 .1-0 1 .1 1 .3 1 .2 1-0 1-.1 1-.3 1-.2 .49-0 .51-0 1 .2 1 .3 1 .2 1 .1 1-0 1-.1 1-0 .08-0 .92-0 1 .1 1-0 1-.1 1-.1 1-.3 1-.2 .67-0 .33-0 1-0 1-.4 1-2.1 1-5.6 1-10.1 1-12 1-7.2 .26-.4 .74 2.8 1 10.1 1 10.8 1 5.1 1-2.7 1-8.6 1-9 .85-3.1 .15 .1 1 5.2 1 9 1 5.1 1-5.3 1-18 1-25.1 1-18.2 .44-2.2 .56 3.5 1 20.1 1 25.7 1 19 1 9.5 1 3.4 1 .8 1 .1 .03-0 .97 .1 1-.1 1-.8 1-2.3 1-4.8 1-6.6 1-5.5 .62-1.1 .38 .4 1 4.6 1 6.7 1 5.4 1 2.7 1 .8 1-.1 1-.1 .21 0 .79 .1 1 .3 1 .3 1 .2 1-.1 1-.2 1-.3 .8-.1 .2 0 1 0 1-.7 1-3 1-8.6 1-16.2 1-20.3 1-13.9 .39-1.4 .61 3.3 1 16.3 1 20.1 1 14.6 1 7.1 1 2.3 1 .4 .98 .1 .02-0 1 .1 1 .3 1 .2 1-0 1-.1 1-.3 1-.2 .57-.1 .43-0 1-.2 1-1.3 1-5.4 1-13.4 1-23 1-25.9 1-14.1 .16-.3 .84 7.8 1 23.6 1 24.4 1 14.3 1 2.5 1-4.9 1-6.1 .75-1.7 .25 .2 1 4.6 1 7.6 1 6.5 1 3.6 1 1.2 1 .1 1-.1 .34-0 .66 .1 1 .2 1 .3 1 .2 1-0 1-.1 1-.2 .93-0 .07-0 1-0 1 .2 1 .1 1-0 1-.1 1-.1 1-.2 .52-0 .48-0 1 .2 1 .1 1 .1 1-.2 1-.3 1-.4 1-.2 .11-0 .89 .2 1 .3 1 .4 1 .1 1-.1 1-.2 1-.3 .7-0 .3-0 1 .2 1 .2 1 .2 1-0 1-.2 1-.3 1-.2 .29-0 .71 .1 1 .2 1 .3 1 .1 1-.1 1-.4 1-.3 .88-.2 .12-0 1 .2 1 .1 1-.6 1-2.4 1-5 1-6.4 1-4.8 .47-.6 .53 .8 1 4.8 1 6.1 1 3.4 1-.8 1-4.5 1-5.6 1-2.7 .06-0 .94 2.2 1 5.6 1 5.6 1 3.5 1 1.3 1 .2 1-.1 .65-.1 .35 .1 1 .2 1 .3 1 .2 1-0 1-.2 1-.2 1-.2 .24-0 .76 .1 1 .2 1 .2 1 .2 1-.1 1-.3 1-.2 .83-.1 .17-0 1 .1 1 .3 1 .2 1-0 1-.2 1-.4 1-.2 .42-.1 .58 .1 1 .1 1-.2 1-1.5 1-4 1-6.5 1-6.9 1-3 .01-0 .99 2.9 1 6.8 1 6.7 1 4 1 1.6 1 .3 1-.1 .6-.1 .4-0 1-.1 1-1 1-4.1 1-10.5 1-18.4 1-21 1-11.8 .19-.3 .81 5.9 1 19 1 20.4 1 13.6 1 6 1 1.7 1 .1 .78-0 .22-0 1 .3 1 .4 1 .4 1-0 1-.2 1-.3 1-.3 .37-0 .63 .1 1 .3 1 .3 1 .1 1-.1 1-.4 1-.4 .96-.2 .04-0 1-0 1-.6 1-3.5 1-10.5 1-21 1-28.2 1-22.1 .55-3.7 .45 2.5 1 20.5 1 28.4 1 22.1 1 11.6 1 4.2 1 1 1 .2 .14 0 .86 .1 1 .1 1 .2 1 0 1-.2 1-.3 1-.2 .73-.1 .27 0 1 .2 1 .3 1 .2 1-.1 1-.3 1-.5 1-.3 .32 0 .68 .1 1 .4 1 .4 1 .2 1-.1 1-.3 1-.4 .91-.2 .09 0 1 .2 1 0 1-.8 1-3.2 1-6.5 1-8.7 1-6.5 .5-.9 .5 .9 1 6.5 1 8.7 1 6.6 1 3.3 1 1.2 1 .2 1 0 .09 0 .91 .1 1 .1 1 0 1 0 1-.1 1-.3 1-.2 .68 0 .32 0 1 .2 1 .2 1 .2 1 .1 1-.1 1 0 1-.1 .27 0 .73-.1 1-.3 1-1.4 1-4.8 1-10.4 1-16 1-15.2 .86-5.2 .14 .1 1 8.7 1 16.1 1 13.8 1 6.2 1-1.3 1-5.1 1-4.3 .45-.5 .55 .8 1 4.9 1 6.1 1 4.6 1 2.1 1 .6 1-.1 1-.2 .04 0 .96 .1 1-.2 1-1.6 1-5.2 1-10.9 1-15.2 1-12.6 .63-2.6 .37 .9 1 10.4 1 15.4 1 12.3 1 6.5 1 2.3 1 .2 1-.1 .22 0 .78 .2 1 .4 1 .4 1 .2 1 .1 1-.1 1-.1 .81 0 .19-.1 1-.1 1-1 1-3.7 1-10.1 1-18.8 1-23.7 1-16.4 .4-1.7 .6 3.7 1 18.8 1 22.8 1 15 1 3.6 1-5 1-7.4 .99-3.3 .01 0 1 3.7 1 8.2 1 8 1 4.8 1 2.1 1 .5 1 .1 .58 0 .42 0 1 .1 1 .1 1 0 1-.2 1-.4 1-.4 1-.2 .17 0 .83 0 1 .2 1-.4 1-2.2 1-5.1 1-7.7 1-6.9 .76-2 .24 .2 1 4.4 1 6.8 1 3 1-6 1-16.5 1-21.7 1-14.5 .35-1.2 .65 4 1 18.3 1 21.8 1 15.5 1 7.4 1 2.2 1 .3 .94-.1 .06 0 1 .3 1 .4 1 .4 1 .2 1-.1 1-.2 1-.1 .53-.1 .47 .1 1 .1 1 .3 1 .1 1-.1 1-.2 1-.2 1-.2 .12 0 .88 0 1-.4 1-2.2 1-6.9 1-14.8 1-21.2 1-18.4 .71-4.7 .29 .8 1 13.5 1 21.6 1 18 1 9.9 1 3.6"/>
<path stroke="#ee3490" d="M24.50 -0.0l1-.1 1-.1 1-.1 .85 0 .15 0 1 0 1 .1 1 0 1-.1 1-.3 1-.4 1-.3 .44-.1 .56 .1 1 .3 1 .4 1 .3 1-.1 1-.2 1-.3 1-.1 .03 0 .97 .1 1 0 1-.8 1-2.8 1-6 1-8.3 1-6.8 .62-1.4 .38 .5 1 5.8 1 8.4 1 6.7 1 3.4 1 1.2 1-0 1-.1 .21-0 .79 .1 1 .3 1 .3 1 .1 1-.1 1-.3 1-.4 .8-.1 .2 .1 1 .2 1 .3 1 .3 1-0 1-.1 1-.3 1-.2 .39-0 .61 .1 1 .2 1 .2 1 .2 1 .1 1-0 1-.1 .98-0 .02-0 1-.1 1-.2 1-1.3 1-3.5 1-7.1 1-9.6 1-7.5 .57-1.4 .43 .8 1 6.8 1 9.6 1 7.5 1 3.8 1 1.2 1 .1 1-.2 .16-0 .84 .2 1 .3 1 .4 1 .1 1-.1 1-.2 1-.2 .75-.1 .25-0 1 .1 1-.2 1-1.4 1-3.9 1-7.4 1-9.2 1-5.9 .34-.5 .66 1.7 1 7.6 1 9 1 6.3 1 2.9 1 .8 1-.1 .93 0 .07 0 1 .1 1 .4 1 .3 1 .1 1 0 1 0 1-.1 .52 0 .48 0 1-.1 1-.6 1-2.1 1-5.2 1-8.8 1-9.5 1-4.9 .11-.1 .89 3.3 1 9 1 9.3 1 6 1 2.6 1 .8 1-0 .7-0 .3-0 1-.1 1-.7 1-3.1 1-8.1 1-14.6 1-17.5 1-10.9 .29-.7 .71 3.8 1 14.9 1 17.2 1 12 1 5.6 1 1.8 1 .4 .88 0 .12 0 1 .1 1 .2 1 .1 1-.1 1-.2 1-.4 1-.3 .47 0 .53 0 1 .1 1-.6 1-2.9 1-7.3 1-12.1 1-13 1-6.2 .06 0 .94 5 1 12.5 1 12.6 1 7.9 1 3.3 1 .7 1 0 .65-.1 .35 .1 1 .2 1 .4 1 .2 1-.1 1-.3 1-.5 1-.3 .24 0 .76 .2 1 .4 1 .4 1 .3 1-.1 1-.2 1-.2 .83-.1 .17 0 1 0 1-.4 1-2.1 1-6.1 1-11.6 1-14.8 1-10.5 .42-1.1 .58 2.2 1 11.7 1 14.7 1 10.8 1 5.3 1 1.7 1 .2 1 0 .01 0 .99 .1 1 .3 1 .2 1 0 1-.2 1-.3 1-.3 .6-.1 .4 .1 1 .2 1 .3 1 .3 1-.1 1-.3 1-.4 1-.2 .19 0 .81 .1 1 .1 1-.5 1-2.5 1-5.7 1-8.6 1-7.8 .78-2.3 .22 .2 1 5.1 1 8.8 1 7.5 1 4.3 1 1.4 1 .2 1-.1 .37 0 .63 .1 1 .2 1 .4 1 .2 1 .1 1-.1 1-.1 .96 0 .04 0 1 0 1 .1 1 .1 1 0 1-.1 1-.1 1-.1 .55 0 .45 0 1 .1 1 .1 1 .1 1-.1 1-.1 1-.2 1-.1 .14 0 .86 .1 1 .1 1 .2 1-.1 1-.2 1-.3 1-.4 .73 0 .27 0 1 .2 1 .4 1 .3 1 .1 1-.1 1-.2 1-.1 .32-.1 .68 0 1-.3 1-1.7 1-5.8 1-13.3 1-20.6 1-20.2 .91-7.6 .09 .1 1 10.6 1 21.2 1 19.6 1 11.7 1 5 1 1.4 1 .3 .5 .1 .5 0 1 0 1 .1 1 0 1 0 1-.1 1 0 1-.1 .09 0 .91 0 1 .1 1 .1 1 0 1-.1 1-.2 1-.1 .68-.1 .32 0 1 .1 1 .2 1 .1 1-.1 1-.3 1-.3 1-.2 .27 0 .73 0 1 .3 1 .3 1 .2 1-.1 1-.3 1-.4 .86-.1 .14 0 1 0 1-.5 1-2.7 1-8 1-15.5 1-20 1-14.4 .45-1.8 .55 2.6 1 15.5 1 19.9 1 14.8 1 7.5 1 2.6 1 .5 1 .1 .04 0 .96 .1 1 .1 1 .2 1 0 1-.2 1-.2 1-.3 .63 0 .37 0 1 0 1-.2 1-1.8 1-4.7 1-8.4 1-9.7 1-5.7 .22-.2 .78 2.6 1 8.6 1 9.5 1 6.4 1 2.9 1 .7 1 .1 .81-.1 .19 0 1 .2 1 .3 1 .2 1 .1 1-.1 1-.1 1-.1 .4 0 .6 .1 1 0 1 .1 1 0 1-.2 1-.4 1-.5 .99-.2 .01 0 1 .2 1 .5 1 .4 1 .2 1 0 1-.1 1-.2 .58 0 .42 0 1-.1 1-.7 1-2.8 1-6.9 1-11.9 1-13.5 1-7.4 .17-.2 .83 4 1 12.3 1 13.1 1 8.6 1 3.7 1 .9 1-.1 .76 0 .24 0 1 .3 1 .4 1 .4 1 .2 1 .1 1-.1 1 0 .35 0 .65 0 1 0 1 .1 1 0 1-.2 1-.2 1-.2 .94-.1 .06 0 1 .1 1 .2 1 .2 1 0 1-.3 1-.4 1-.3 .53 0 .47 0 1 .3 1 .4 1 .2 1-.1 1-.4 1-.4 1-.3 .12 0 .88 .2 1 .4 1 .5 1 .2 1-.1 1-.2 1-.2 .71 0 .29 0 1 .1 1 .3 1 .2 1 0 1-.1 1-.2 1-.1 .3 0 .7 .1 1 .1 1 .2 1 .1 1-.1 1-.1 1-.1 .89-.1 .11 0 1 .1 1 .1 1 .1 1-.1 1-.4 1-.4 1-.4 .48 0 .52 0 1 .1 1-.5 1-2.8 1-7.2 1-12.2 1-13 1-6.4 .07 0 .93 4.8 1 12 1 10.5 1 1.7 1-9.6 1-17.3 1-15.3 .66-3.5 .34 .9 1 12.4 1 18.7 1 15.3 1 8.4 1 3.1 1 .8 1 .2 .25 0 .75 0 1 .1 1 .1 1 0 1-.1 1-.3 1-.2 .84-.1 .16 0 1 .1 1 .3 1 .2 1-.1 1-.3 1-.5 1-.3 .43 0 .57 0 1 .4 1 .5 1 .3 1 .1 1 0 1-.1 1-.1 .02 0 .98 .1 1 .1 1 0 1-.1 1-.2 1-.4 1-.4 .61 0 .39 0 1 .3 1 .4 1 .2 1 .1 1-.2 1-.3 1-.1 .2 0 .8 0 1-.1 1-1.3 1-4.4 1-9.6 1-14.4 1-13.1 .79-4 .21 .3 1 8.5 1 14.7 1 12.7 1 7.3 1 2.6 1 .6 1-.1 .38 0 .62 .1 1 .3 1 .3 1 .2 1 .1 1-.1 1-.2 .97 0 .03 0 1 0 1 .2 1 .1 1-.1 1-.3 1-.4 1-.4 .56-.1 .44 .1 1 .3 1 .4 1 .3 1 .1 1-.2 1-.2 1-.2 .15 0 .85 .1 1 .2 1 .3 1 .2 1 0 1-.1 1 0 .74 0 .26 0 1 0 1 .1 1 0 1 0 1 0 1-.1 1 0 .33 0 .67 0 1 .1 1 0 1 0 1-.2 1-.2 1-.3 .92-.1 .08 0 1 0 1-.2 1-1.6 1-4.9 1-9.7 1-12.9 1-9.7 .51-1.5 .49 1.4 1 9.6 1 12.8 1 9.9 1 5 1 1.7 1 .4 1 0 .1 0 .9 0 1 .2 1 .2 1 .1 1-.1 1-.1 1-.1 .69 0 .31 0 1 .1 1 .1 1 .1 1-.1 1-.1 1-.2 1-.2 .28 0 .72 .1 1 .1 1 .2 1 .1 1 0 1-.2 1-.2 .87 0 .13 0 1 .1 1 .1 1 .1 1 0 1-.3 1-.4 1-.3 .46-.1 .54 .1 1 .3 1 .4 1 .3 1 .2 1 0 1-.1 1 0 .05 0 .95 0 1 .1 1 0 1-.1 1-.3 1-.4 1-.3 .64-.1 .36 .1 1 .2 1 .4 1 .2 1 0 1-.3 1-.4 1-.3 .23 0 .77 .1 1 .1 1-.6 1-2.7 1-6.3 1-9.7 1-9 .82-2.9 .18 .1 1 5.6 1 9.9 1 8.7 1 4.9 1 1.7 1 .2 1-.2 .41 0 .59 .1 1 .3 1 .5 1 .2 1 0 1-.3 1-.3 1-.2 1 .1 1 .1 1-.8 1-2.9 1-6 1-8.3 1-6.7 .59-1.3 .41 .6 1 5.9 1 8.4 1 6.7 1 3.4 1 1.2 1 .2 1 0 .18 0 .82 0 1 .2 1 .2 1 0 1-.1 1-.2 1-.2 .77 0 .23 0 1 .1 1 .2 1 .2 1 0 1-.2 1-.2 1-.1 .36-.1 .64 .1 1 .2 1 .2 1 0 1-.2 1-.5 1-.4 .95-.2 .05 0 1 0 1-.6 1-3.4 1-10.2 1-20.6 1-27.5 1-21.4 .54-3.5 .46 2.6 1 20.1 1 27.7 1 21.4 1 11.2 1 4 1 .9 1 .1 .13 .1 .87 0 1-.1 1-.9 1-3 1-6.7 1-9.6 1-8.4 .72-2.2 .28 .3 1 6 1 9.3 1 6.3 1-.1 1-6.7 1-9.8 1-6.5 .31-.4 .69 2.1 1 8.7 1 10.2 1 7.1 1 3.4 1 1.2 1 .2 .9 0 .1 0 1-.1 1-.4 1-2 1-5.6 1-10.7 1-14.1 1-10.4 .49-1.5 .51 1.6 1 10.6 1 14 1 10.6 1 5.2 1 1.7 1 .1 1-.1 .08 0 .92 .2 1 .4 1 .4 1 .1 1 0 1-.1 1-.2 .67 0 .33 0 1 .1 1 .2 1 0 1-.1 1-.4 1-.4 1-.3 .26 0 .74 .1 1 .4 1 .4 1 .3 1 .1 1-.2 1-.1 .85 0 .15 0 1 0 1 .2 1 .1 1 0 1-.1 1-.1 1-.2 .44 0 .56 .1 1 .1 1 .1 1 .1 1-.1 1-.2 1-.3 1-.1 .03 0 .97 .1 1 .3 1 .2 1 .1 1 0 1-.1 1-.1 .62-.1 .38 0 1 0 1-.3 1-1.6 1-4.1 1-7.2 1-8.3 1-4.8 .21-.2 .79 2.2 1 7.5 1 8.1 1 5.3 1 2.3 1 .4 1-.3 .8 0 .2 0 1 .2 1 .5 1 .3 1 .1 1-.3 1-.4 1-.3 .39 0 .61 0 1 .4 1 .4 1 .2 1-.1 1-.3 1-.4 .98-.1 .02 0 1 .1 1 .4 1 .4 1 .1 1-.2 1-.3 1-.2 .57-.1 .43 0 1 .3 1 .3 1 .2 1-.1 1-.4 1-.4 1-.3 .16 0 .84 .2 1 .4 1 .3 1 .2 1-.2 1-.4 1-.4 .75-.1 .25 0 1 .2 1-.1 1-1.3 1-4.2 1-7.9 1-9.8 1-6.5 .34-.5 .66 1.8 1 7.9 1 8.4 1 3.1 1-5.3 1-12.3 1-13.1 .93-5.2 .07 0 1 6.8 1 13.9 1 13 1 7.9 1 3.3 1 .9 1 .2 .52 0 .48 0 1 .1 1 .1 1-.1 1-.1 1-.4 1-.3 1-.2 .11 0 .89 0 1-.1 1-1.5 1-5.2 1-11.2 1-16 1-13.9 .7-3.4 .3 .6 1 10.4 1 16.2 1 13.6 1 7.4 1 2.6 1 .5 1-.1 .29 0 .71 0 1-.1 1-1.7 1-6.1 1-13.9 1-21.4 1-20.7 .88-7.4 .12 .1 1 11.5 1 22 1 20.1 1 11.9 1 4.8 1 1.3 1 .3 .47 0 .53 0 1 .2 1 .1 1 .2 1 0 1-.1 1 0 1-.1 .06 0 .94 0 1-.3 1-1.3 1-3.7 1-7.8 1-11 1-9.1 .65-2 .35 .6 1 7.3 1 11.1 1 9 1 4.8 1 1.8 1 .5 1 0 .24 0 .76 0 1 .1 1 .1 1 0 1-.1 1-.2 1-.3 .83-.1 .17 0 1 .2 1 .2 1 .2 1 .1 1-.1 1-.2 1-.2 .42 0 .58 0 1 .2 1 .2 1 .1 1 0 1-.2 1-.1 1-.1 .01 0 .99-.1 1-.3 1-1.7 1-5.3 1-10.6 1-14.7 1-11.9 .6-2.3 .4 1 1 10.3 1 14.8 1 11.7 1 6.1 1 2 1 .1 1-.1 .19 0 .81 .2 1 .4 1 .5 1 .2 1 0 1-.1 1-.1 .78-.1 .22 0 1 .1 1 .2 1 .1 1-.1 1-.2 1-.4 1-.2 .37 0 .63 0 1 .3 1 .4 1 .1 1 .1 1-.2 1-.1 .96-.1 .04 0 1 .1 1 .1 1 .2 1 0 1-.2 1-.3 1-.2 .55-.1 .45 0 1 .3 1 .3 1 .1 1 0 1-.1 1-.2 1-.2 .14 0 .86 .1 1 .2 1 .2 1 .1 1 0 1-.1 1-.1 .73 0 .27-.1 1 0 1-.5 1-2 1-5.4 1-9.9 1-12 1-7.8 .32-.5 .68 2.3 1 9.7 1 10 1 2.8 1-8.4 1-17.8 1-18.6 .91-7 .09 .1 1 9.8 1 19.9 1 18.2 1 10.9 1 4.3 1 .9 1 0 .5 0 .5 0 1 .2 1-.2 1-2 1-5.2 1-9 1-9.8 1-4.9 .09 0 .91 3.5 1 9 1 8.5 1 3 1-3.6 1-8.1 1-7.4 .68-1.8 .32 .4 1 5.9 1 9.1 1 7.4 1 4 1 1.2 1 0 1-.2 .27 0 .73 .1 1 .4 1 .4 1 .2 1-.2 1-.4 1-.4 .86-.2 .14 0 1 .3 1 .4 1 .4 1 .2 1-.1 1-.2 1-.2 .45-.1 .55 0 1-.2 1-1.5 1-5.5 1-13.1 1-21.5 1-22.7 1-10.6 .04 0 .96 9.1 1 22.3 1 22 1 13.9 1 6 1 1.8 1 .4 .63 0 .37 0 1 .1 1 .2 1 .1 1 0 1-.1 1-.1 1 0 .22 0 .78 0 1 .1 1 .1 1 0 1-.1 1-.2 1-.2 .81-.1 .19 0 1 .1 1 .2 1 .2 1 .1 1-.1 1-.1 1 0 .4 0 .6 0 1 .1 1 .1 1 0 1-.1 1-.1 1-.2 .99 0 .01 0 1-.1 1-.2 1-1.3 1-4 1-8 1-11 1-8.8 .58-1.6 .42 .8 1 7.6 1 10 1 5.4 1-3.5 1-12.3 1-15.4 1-8.6 .17-.2 .83 4.7 1 14.5 1 15.4 1 10.1 1 4.5 1 1.1 1 0 .76-.1 .24 .1 1 .2 1 .5 1 .3 1 0 1-.2 1-.4 1-.2 .35-.1 .65 .1 1 .3 1 .4 1 .2 1 0 1-.2 1-.2 .94-.1 .06 0 1 .1 1 .3 1 .1 1 .1 1-.1 1-.3 1-.2 .53 0 .47 0 1 .2 1 .2 1 .2 1-.1 1-.2 1-.3 1-.1 .12 0 .88 .1 1 .2 1 .3 1 .1 1-.1 1-.2 1-.2 .71 0 .29 0 1 .1 1 .2 1 .2 1 0 1-.1"/>
</g>
<g id="tr1" fill="none" stroke-width="1.35" stroke-linejoin="round">
<path stroke="#262626" d="M24.50 -0.1l1-.3 1-.4 1-.5 .85-.2 .15 0 1 .3 1 .5 1 .4 1-0 1-.3 1-.5 1-.4 .44-.1 .56 .1 1 .4 1 .3 1-1 1-3.6 1-7.5 1-8.9 1-4.4 .03 0 .97 3.9 1 8.9 1 7.7 1 4 1 1.3 1 .2 1-.1 .62 0 .38 0 1 0 1-.6 1-3.1 1-10.2 1-22.1 1-29.4 1-18.3 .21-.6 .79 8.7 1 27.3 1 26.6 1 14.9 1 5.3 1 1.1 1-0 .8-0 .2-0 1 .1 1 .3 1 .1 1-0 1-.4 1-.5 1-.3 .39-.1 .61 .1 1 .4 1 .2 1-.9 1-3.5 1-6.9 1-8.1 .98-3.7 .02-0 1 3.9 1 8.2 1 6.8 1 3.4 1 .9 1-.2 1-.4 .57-.1 .43 .1 1 .2 1-.3 1-3.4 1-11.8 1-24.9 1-32.1 1-18.9 .16-.4 .84 10.7 1 30.3 1 28 1 13 1-2 1-11.9 1-13.1 .75-3.8 .25 .4 1 9.5 1 14.4 1 10.7 1 4.8 1 1.3 1 .2 1-.1 .34 0 .66 0 1 0 1-.9 1-4.3 1-12.7 1-24.2 1-27.2 .93-11.3 .07 .1 1 14.5 1 27.9 1 22.7 1 11.1 1 3.4 1 .3 1-.2 .52-.1 .48 .1 1 .3 1 .5 1 .3 1-.1 1-.3 1-.5 1-.3 .11 0 .89 .2 1 .2 1-.8 1-4.7 1-12.8 1-21.9 1-21.2 .7-5.5 .3 1 1 16.2 1 23.5 1 16.9 1 7.5 1 2.1 1 .3 1-.1 .29 0 .71 0 1 .2 1 .1 1 .1 1-.1 1-.2 1-.3 .88-.1 .12 0 1 .2 1 .2 1 .2 1 0 1-.1 1-.3 1-.3 .47 0 .53 0 1 .3 1 .3 1 .2 1-.1 1-.2 1-.2 1-.1 .06 0 .94 .1 1 .2 1 .2 1 .1 1 0 1-.1 1-.1 .65-.1 .35 0 1 .1 1-.1 1-.8 1-3.1 1-6.7 1-9.1 1-5.8 .24-.3 .76 2.5 1 8.4 1 8.3 1 4.6 1 1.6 1 0 1-.3 .83-.1 .17 0 1 .2 1 .5 1 .2 1 0 1-.2 1-.5 1-.4 .42-.1 .58 .1 1 .5 1 .4 1 .3 1 .1 1 0 1-.1 1-.1 .01 0 .99 .1 1 .1 1 0 1 0 1-.2 1-.3 1-.3 .6-.1 .4 0 1 .3 1 .3 1 .2 1-.1 1-.3 1-.4 1-.3 .19 0 .81 .2 1 .4 1 .4 1 .2 1 0 1-.1 1 0 .78-.1 .22 0 1 0 1-.3 1-2.3 1-8.1 1-18.8 1-27.1 1-20 .37-1.8 .63 5.2 1 23.8 1 25.9 1 15.7 1 6.1 1 1.5 1 .1 .96 0 .04 0 1 .1 1 .1 1 .1 1 0 1-.2 1-.4 1-.3 .55 0 .45 0 1 .2 1 .2 1-.7 1-2.7 1-5.9 1-7.6 1-4.3 .14-.1 .86 2.6 1 7.3 1 6.7 1 3.5 1 1.1 1 0 1-.3 .73-.1 .27 0 1 .3 1 .4 1 .2 1 .1 1-.2 1-.2 1-.1 .32 0 .68 0 1 .2 1 .2 1 .1 1-.1 1-.2 1-.3 .91-.1 .09 0 1 .2 1 .2 1 .2 1 0 1-.2 1-.3 1-.3 .5 0 .5 0 1 .3 1 .3 1 .2 1 0 1-.2 1-.2 1-.2 .09 0 .91 .1 1 .3 1 .2 1 0 1-.1 1-.4 1-.3 .68-.1 .32 0 1 .3 1 .4 1 .2 1 0 1-.1 1-.3 1-.2 .27 0 .73 0 1 .3 1 .3 1 .1 1-.1 1-.3 1-.2 .86-.1 .14 0 1 .1 1 .3 1 .2 1 .1 1 0 1-.1 1 0 .45 0 .55 0 1 0 1 .1 1 0 1-.1 1-.3 1-.4 1-.2 .04 0 .96 .2 1 .3 1 .3 1 .1 1-.1 1-.3 1-.2 .63-.1 .37 0 1 .3 1 .3 1 .2 1 0 1-.1 1-.2 1-.1 .22 0 .78 0 1-.1 1-1.2 1-5.8 1-16.2 1-29.2 1-30.4 .81-10 .19 .6 1 19.7 1 32.1 1 23.6 1 7.6 1-5.6 1-12.8 1-10.1 .4-1.1 .6 2.4 1 11.6 1 12.4 1 5.1 1-5.4 1-16.1 1-19.5 .99-9 .01 0 1 9.4 1 19.7 1 16.7 1 8.5 1 2.7 1 .5 1 0 .58-.1 .42 .1 1 .1 1 .1 1 .1 1-.1 1-.2 1-.3 1-.2 .17 0 .83 .1 1 .3 1 .3 1 .1 1 0 1-.1 1-.1 .76 0 .24 0 1 0 1 .2 1 0 1 0 1 0 1-.2 1-.1 .35 0 .65 0 1 .2 1 .1 1 0 1-.1 1-.2 1-.3 .94-.1 .06 0 1 .1 1 .1 1-.6 1-3 1-7.6 1-12.1 1-10.2 .53-1.7 .47 1.3 1 9.9 1 12.1 1 8 1 3.2 1 .7 1-.1 1-.1 .12 0 .88 .1 1 .3 1 .2 1 .1 1-.2 1-.3 1-.2 .71-.1 .29 0 1 .2 1 .3 1 .2 1 .1 1 0 1-.1 1-.1 .3 0 .7 .1 1 0 1-.4 1-1.6 1-5 1-9.2 1-10.2 .89-3.9 .11 .1 1 5.8 1 10.5 1 8.4 1 4 1 1.3 1 .1 1 0 .48 0 .52 0 1 .1 1 .1 1 0 1-.1 1-.4 1-.4 1-.2 .07 0 .93 .1 1 .5 1 .3 1 .1 1-.2 1-.4 1-.4 .66-.1 .34 0 1 .4 1 .4 1 .3 1 0 1-.2 1-.3 1-.2 .25 0 .75 .1 1 .3 1 .2 1 .2 1 0 1-.1 1 0 .84-.1 .16 0 1 .1 1 .1 1 0 1 0 1-.2 1-.3 1-.3 .43 0 .57 0 1 .3 1 .3 1 .2 1-.1 1-.2 1-.2 1-.1 .02 0 .98 .1 1 .2 1 .2 1 0 1-.3 1-.5 1-.4 .61-.1 .39 0 1 .4 1 .5 1 .4 1 .1 1-.1 1-.1 1-.1 .2 0 .8 0 1 .2 1 .1 1 0 1-.3 1-.4 1-.5 .79-.1 .21 0 1 .3 1 .5 1 .3 1 0 1-.3 1-.5 1-.5 .38 0 .62 .1 1 .5 1 .5 1 .3 1-.1 1-.3 1-.4 .97-.2 .03 0 1 .2 1 .4 1 .3 1 .1 1-.2 1-.5 1-.4 .56 0 .44 0 1 .3 1 .1 1-1.3 1-4.9 1-10.6 1-13.6 1-7.9 .15-.2 .85 4.6 1 12.9 1 11.4 1 4 1-4.7 1-11.8 1-12.1 .74-3.5 .26 .4 1 8.9 1 13.3 1 9.8 1 4.4 1 1.1 1 0 1-.2 .33 0 .67 .1 1 .2 1 .3 1 .1 1-.2 1-.4 1-.5 .92-.2 .08 0 1 .2 1 .6 1 .4 1 0 1-.2 1-.5 1-.4 .51-.1 .49 .1 1 .3 1-.3 1-3.2 1-10.7 1-22.2 1-27.6 1-15.1 .1-.1 .9 10.5 1 26.8 1 24.2 1 12.9 1 4.3 1 .6 1-.2 .69-.1 .31 0 1 .3 1 .3 1-.7 1-3.1 1-7.1 1-9.9 1-6.6 .28-.4 .72 2.4 1 9 1 9.2 1 5.3 1 1.9 1 .4 1 0 .87 0 .13 0 1 .1 1 .1 1 0 1 0 1-.1 1-.3 1-.2 .46 0 .54 0 1 .2 1 .3 1 0 1-.1 1-.3 1-.4 1-.3 .05 0 .95 .2 1 .4 1 .4 1 .2 1 0 1-.2 1-.1 .64 0 .36 0 1 0 1-.1 1-1.4 1-4.8 1-10.4 1-14 1-8.9 .23-.4 .77 3.9 1 13 1 12.8 1 7.2 1 2.6 1 .4 1 0 .82-.1 .18 0 1 .1 1-.3 1-2.3 1-8.5 1-20.1 1-29.6 1-22.7 .41-2.5 .59 5 1 25.6 1 28.2 1 15.7 1 .6 1-10.6 1-14.4 1-6.8 1 6.9 1 14.7 1 12.5 1 6.3 1 1.9 1 .2 1-.2 .59 0 .41 0 1 .2 1-.4 1-2.7 1-9.5 1-20.3 1-26.4 1-16 .18-.4 .82 8.4 1 24.9 1 23.8 1 13.1 1 4.7 1 1 1 0 .77 0 .23 0 1 .1 1 .2 1 .1 1 0 1-.1 1-.2 1-.2 .36 0 .64 .1 1 .1 1-.2 1-1.3 1-4.3 1-8.4 1-9.4 .95-4.1 .05 0 1 4.9 1 9.6 1 8 1 3.9 1 1.1 1 .1 1-.1 .54 0 .46 0 1 .2 1 .2 1 .1 1 0 1 0 1-.1 1-.1 .13 0 .87 .1 1 .1 1 0 1 0 1 0 1-.2 1-.1 .72-.1 .28 .1 1 .1 1 .1 1 .1 1 0 1-.1 1-.1 1-.1 .31 0 .69 0 1 .1 1 .2 1 0 1-.3 1-.4 1-.5 .9-.2 .1 0 1 .3 1 .5 1 .4 1 .1 1-.2 1-.4 1-.3 .49-.1 .51 .1 1 .3 1 .4 1 .2 1-.1 1-.4 1-.5 1-.3 .08 0 .92 .2 1 .4 1 0 1-1.7 1-4.9 1-8.2 1-7.9 .67-1.9 .33 .5 1 6.2 1 8.8 1 6.2 1 2.6 1 .5 1-.3 1-.3 .26 0 .74 .1 1 .4 1 .4 1 .3 1 0 1-.1 1-.1 .85-.1 .15 0 1 .1 1 .1 1 .1 1 0 1-.2 1-.4 1-.2 .44 0 .56 0 1 .3 1 .3 1 .1 1 0 1-.3 1-.4 1-.2 .03 0 .97 .2 1 .3 1 .3 1 .2 1-.1 1-.2 1-.3 .62 0 .38 0 1 .2 1 .2 1 .1 1-.1 1-.3 1-.5 1-.3 .21 0 .79 .1 1 .2 1-.8 1-5.1 1-14.7 1-26.3 1-27.3 .8-8.8 .2 .6 1 17.9 1 29.2 1 22.1 1 10.2 1 2.9 1 .4 1-.2 .39 0 .61 0 1 .4 1 .3 1 .1 1-.1 1-.4 1-.5 .98-.2 .02 0 1 .2 1 .4 1-.1 1-1.7 1-4.8 1-7.7 1-6.7 .57-1.3 .43 .7 1 6.2 1 7.9 1 5.2 1 2 1 .2 1-.4 1-.3 .16 0 .84 .2 1 .5 1 .5 1 .2 1-.1 1-.3 1-.4 .75-.1 .25 0 1 .3 1 .3 1 .3 1 0 1-.1 1-.3 1-.1 .34-.1 .66 .1 1 .2 1 .3 1 0 1-.1 1-.4 1-.4 .93-.2 .07 0 1 .2 1 .5 1 .3 1 .2 1-.1 1-.2 1-.1 .52-.1 .48 .1 1 .1 1 .2 1 0 1-.1 1-.4 1-.6 1-.3 .11 0 .89 .2 1 .5 1 .5 1 .2 1-.1 1-.3 1-.3 .7-.1 .3 0 1 .2 1 .4 1 .2 1 .1 1-.2 1-.2 1-.2 .29 0 .71 .1 1 .2 1 .2 1 0 1-.1 1-.4 1-.4 .88-.2 .12 0 1 .3 1 .4 1 .3 1 .1 1-.1 1-.3 1-.2 .47 0 .53 0 1 .3 1 .2 1 .2 1 0 1-.1 1-.2 1 0 .06 0 .94 0 1 .2 1 .1 1-.1 1-.2 1-.4 1-.4 .65 0 .35 0 1 .2 1-.3 1-3 1-10.8 1-23.8 1-32.1 1-20.7 .24-.9 .76 8.8 1 29.5 1 28.9 1 14.6 1 .3 1-9.2 1-11.1 .83-3.9 .17 .2 1 7.1 1 11.7 1 7.5 1-1.6 1-12.7 1-20.6 1-16.1 .42-1.8 .58 3.4 1 18 1 20.3 1 12.6 1 4.9 1 1 1-.2 1-.1 .01 0 .99 .2 1 .3 1 .3 1 .1 1-.3 1-.5 1-.5 .6-.1 .4 .1 1 .4 1 .5 1 .3 1 .1 1-.3 1-.3 1-.2 .19 0 .81 .1 1 .3 1 .3 1 .1 1-.1 1-.4 1-.3 .78-.1 .22 0 1 .2 1 .4 1 .3 1 .1 1-.2 1-.2 1-.1 .37 0 .63 0 1 .1 1-.2 1-1.6 1-5.2 1-10.1 1-11.6 .96-5.1 .04 0 1 5.9 1 11.7 1 9.8 1 4.8 1 1.6 1 .3 1 0 .55 0 .45 0 1 0 1 .1 1 0 1 0 1-.1 1-.1 1-.1 .14 0 .86 0 1 .1 1-.4 1-1.9 1-5.3 1-9.1 1-9 .73-2.5 .27 .4 1 6.5 1 9.9 1 7.2 1 3.2 1 .7 1 0 1-.2 .32 0 .68 .1 1 .2 1 .3 1 .1 1-.1 1-.3 1-.3 .91-.1 .09 0 1 .2 1 .3 1 .2 1 0 1-.3 1-.5 1-.4 .5-.1 .5 .1 1 .4 1 .5 1 .3 1 .1 1-.1 1-.1 1-.1 .09 0 .91 .1 1 .1 1 .1 1 0 1-.1 1-.1 1-.2 .68 0 .32 0 1 0 1-.5 1-3.4 1-11.5 1-25.6 1-35 1-23.3 .27-1.3 .73 8.9 1 32 1 32.4 1 18.7 1 6.9 1 1.7 1 .3 .86 0 .14 0 1 0 1 .1 1 .1 1 0 1-.1 1 0 1-.1 .45 0 .55 0 1 .1 1 0 1 0 1 0 1-.2 1-.3 1-.1 .04 0 .96 .1 1 .2 1 .2 1 .1 1 0 1-.1 1-.1 .63 0 .37 0 1 0 1 .2 1 0 1 0 1-.2 1-.2 1-.2 .22 0 .78 .1 1 .1 1 0 1-1.1 1-3.1 1-5.8 1-6 .81-2 .19 .1 1 3.9 1 6.4 1 4.9 1 2.2 1 .4 1-.1 1-.3 .4 0 .6 0 1 .3 1 .4 1 .1 1 0 1-.3 1-.4 .99-.1 .01 0 1 .1 1 .4 1 .3 1 .1 1-.1 1-.1 1-.2 .58 0 .42 0 1 .2 1 .1 1 .1 1-.1 1-.3 1-.3 1-.3 .17 0 .83 .1 1 .4 1 .3 1 .1 1-.1 1-.2 1-.3 .76-.1 .24 0 1 .2 1 .3 1 .2 1 .1 1-.1 1-.1 1-.1 .35 0 .65 0 1 .2 1 .1 1 0 1-.2 1-.5 1-.5 .94-.2 .06 0 1 .3 1 .5 1 .4 1 .2 1-.1 1-.2 1-.1 .53 0 .47 0 1 .1 1-.2 1-1.5 1-5.1 1-10.5 1-13.4 1-7.4 .12-.1 .88 4.8 1 12.9 1 11.7 1 6.3 1 2.2 1 .4 1 0 .71 0 .29 0 1 0 1 .2 1 0 1-.1 1-.2"/>
<path stroke="#2a9a3c" d="M24.50 -0.0l1-.1 1-.1 1-.1 .85 0 .15 0 1 0 1 0 1-.9 1-3.2 1-7.7 1-11.6 1-9.1 .44-1.1 .56 1.8 1 9.8 1 11.4 1 7 1 2.7 1 .3 1-.4 1-.3 .03 0 .97 .3 1 .5 1 .5 1 .2 1 0 1-.1 1-.2 .62 0 .38 0 1 .1 1 .2 1 0 1-.1 1-.2 1-.3 1-.2 .21 0 .79 .1 1 .3 1 .2 1 .1 1-.1 1-.3 1-.4 .8-.1 .2 0 1 .2 1 .2 1-1 1-4.1 1-9.7 1-14.4 1-10.7 .39-1.1 .61 2.6 1 12.5 1 13.8 1 8.4 1 3.2 1 .8 1 0 .98-.1 .02 0 1 .1 1 .1 1 .2 1 0 1-.1 1-.2 1-.1 .57-.1 .43 0 1 .2 1 .2 1 .1 1 0 1-.1 1-.2 1-.1 .16 0 .84 0 1 .2 1 .1 1 .1 1-.1 1-.2 1-.3 .75-.1 .25 0 1 .2 1 .3 1 .1 1 0 1-.1 1-.3 1-.2 .34 0 .66 0 1 .3 1 .2 1 .1 1-.2 1-.4 1-.5 .93-.2 .07 0 1 .2 1 .6 1 .4 1 0 1-.2 1-.4 1-.4 .52-.1 .48 .1 1 .3 1 .5 1 .3 1-.1 1-.4 1-.5 1-.2 .11 0 .89 .2 1 .4 1 .5 1 .2 1 0 1 0 1-.1 .7 0 .3 0 1 0 1 .1 1 .1 1 0 1-.1 1-.1 1 0 .29 0 .71 0 1 0 1 .1 1 0 1-.2 1-.3 1-.4 .88-.2 .12 0 1 .2 1 .3 1-.6 1-3.1 1-7.7 1-11.8 1-9.5 .47-1.3 .53 1.6 1 10 1 11.6 1 7.4 1 2.9 1 .6 1-.1 1-.2 .06 0 .94 .1 1 .1 1-.8 1-4.3 1-11.2 1-18.7 1-17.4 .65-4 .35 1.2 1 14.2 1 19.7 1 13.8 1 6 1 1.7 1 .3 1 0 .24 0 .76 0 1 .1 1 0 1 0 1-.1 1-.2 1-.3 .83 0 .17 0 1 .1 1 .3 1 .1 1 0 1-.4 1-.5 1-.4 .42 0 .58 .1 1 .4 1 .5 1 .3 1-.1 1-.4 1-.4 1-.3 .01 0 .99 .2 1 .3 1-.6 1-3.5 1-9.3 1-15.2 1-13.7 .6-2.8 .4 1.3 1 11.9 1 15.8 1 10.7 1 4.4 1 .9 1-.3 1-.3 .19 0 .81 .2 1 .5 1 .5 1 .2 1 0 1-.1 1-.2 .78 0 .22 0 1 .1 1 .2 1 .1 1 0 1 0 1-.2 1 0 .37-.1 .63 .1 1 .1 1 .1 1 0 1 0 1-.1 1-.2 .96 0 .04 0 1 0 1 0 1-.6 1-2.7 1-6.8 1-10.9 1-9.3 .55-1.7 .45 1.1 1 8.8 1 11 1 7.3 1 2.9 1 .6 1-.2 1-.3 .14 0 .86 .2 1 .4 1 .3 1 .1 1-.2 1-.5 1-.5 .73-.1 .27 0 1 .4 1 .5 1 .3 1 .1 1-.3 1-.4 1-.3 .32 0 .68 .1 1 .4 1 .3 1 .2 1-.1 1-.3 1-.4 .91-.1 .09 0 1 .2 1 .4 1 .2 1 .1 1-.2 1-.5 1-.3 .5-.1 .5 .1 1 .3 1 .5 1 .2 1 0 1-.2 1-.3 1-.1 .09 0 .91 .1 1 .1 1-.4 1-2.6 1-7.1 1-12 1-11.5 .68-2.8 .32 .6 1 9 1 12.5 1 7.9 1-0 1-7.8 1-12.1 1-8.2 .27-.4 .73 3.1 1 11.2 1 11.4 1 6.5 1 2.2 1 .3 1-.4 .86-.1 .14-0 1 .3 1 .4 1 .3 1 .2 1-.1 1-.2 1-.1 .45-0 .55-0 1 .2 1 .1 1 .1 1-.2 1-.4 1-.5 1-.3 .04-0 .96 .2 1 .5 1 .4 1 .2 1-.2 1-.3 1-.3 .63-.1 .37-0 1 .3 1 .4 1 .2 1 .1 1-.2 1-.2 1-.1 .22-0 .78-0 1 .2 1 .2 1 .1 1-0 1-.1 1-.1 .81-.1 .19-0 1 .1 1 .1 1 .1 1-0 1-.1 1-.2 1-.1 .4-.1 .6 .1 1 .1 1 .2 1 .1 1-.1 1-.4 1-.3 .99-.2 .01-0 1 .2 1 .4 1 .2 1 .1 1-.2 1-.4 1-.3 .58-.1 .42 .1 1 .3 1 .4 1 .2 1 .1 1-.1 1-.1 1-.1 .17-0 .83 .1 1 .1 1 .1 1-0 1-0 1-.1 1-.1 .76-0 .24-0 1-0 1-.1 1-1 1-3.7 1-8.7 1-12.3 1-8.9 .35-.8 .65 2.5 1 10.9 1 11.3 1 5.4 1-2.2 1-8.7 1-10.5 .94-4.5 .06-0 1 5.6 1 10.8 1 8.9 1 4.4 1 1.3 1-0 1-.1 .53-0 .47-0 1 .2 1 .2 1 .2 1-0 1-.1 1-.2 1-.1 .12-0 .88 .1 1 .1 1 .2 1-0 1-.2 1-.3 1-.4 .71-0 .29-0 1 .2 1 .1 1-1 1-4 1-9.2 1-12.9 1-8.9 .3-.6 .7 3 1 11.7 1 12 1 7.1 1 2.5 1 .5 1-.1 .89-0 .11-0 1 .1 1 .2 1 .2 1-0 1-.2 1-.3 1-.2 .48-0 .52-0 1 .2 1 .3 1 .1 1-.1 1-.4 1-.6 1-.2 .07-0 .93 .2 1 .5 1 .4 1 .2 1-.1 1-.4 1-.3 .66-.1 .34-0 1 .3 1 .4 1 .2 1-.1 1-.3 1-.5 1-.3 .25-0 .75 .1 1 .5 1 .4 1 .2 1-0 1-.3 1-.3 .84-.1 .16-0 1 .2 1 .3 1 .2 1 .1 1-.1 1-.2 1-.1 .43-0 .57-0 1 .1 1-.3 1-1.8 1-5.6 1-11.4 1-13.4 1-6.5 .02-0 .98 6 1 13.4 1 11.5 1 5.8 1 1.7 1-.1 1-.4 .61-0 .39-0 1 .4 1 .5 1 .3 1-0 1-.2 1-.4 1-.3 .2-0 .8 .1 1 .4 1 .4 1 .1 1-0 1-.2 1-.2 .79-0 .21-0 1 .1 1 .2 1 .2 1-0 1-0 1-.1 1-0 .38-0 .62-0 1 .1 1-0 1-0 1-.1 1-.3 1-.3 .97-.1 .03-0 1 .1 1 .2 1-.4 1-2.6 1-6.6 1-10.5 1-9.2 .56-1.7 .44 1 1 8.5 1 10.8 1 7.2 1 2.9 1 .7 1-.2 1-.1 .15-0 .85 .1 1 .3 1 .2 1 .1 1-.1 1-.1 1-.2 .74-.1 .26-0 1 .2 1 .2 1 .1 1-.1 1-.2 1-.4 1-.3 .33-0 .67-0 1 .3 1-.1 1-1.7 1-5.6 1-10.7 1-12 .92-4.9 .08-0 1 6.5 1 12.4 1 9.9 1 4.9 1 1.5 1 .2 1-.1 .51-0 .49-0 1 .1 1 .2 1 .1 1-0 1-0 1-.1 1-0 .1-.1 .9 .1 1-.2 1-1.1 1-4.5 1-12.2 1-20.6 1-19.8 .69-5 .31 1 1 15.3 1 22 1 15.7 1 6.9 1 1.9 1 .1 1-.1 .28-0 .72 .1 1 .2 1 .3 1-0 1-.1 1-.3 1-.4 .87-.2 .13-0 1 .3 1 .4 1 .3 1 .1 1-.1 1-.1 1-.2 .46-0 .54-0 1 .1 1-.2 1-1.8 1-5.5 1-11.1 1-13.6 1-6.8 .05-0 .95 5.7 1 13.2 1 10.9 1 3.5 1-4.6 1-10.7 1-10.2 .64-2.3 .36 .8 1 8.5 1 11.7 1 8.1 1 3.4 1 .8 1-.1 1-.2 .23-0 .77 .1 1 .3 1 .3 1 .1 1-0 1-.2 1-.1 .82-.1 .18-0 1 .1 1 .2 1 .1 1-.1 1-.4 1-.5 1-.4 .41-.1 .59 .1 1 .5 1 .5 1 .3 1-0 1-.1 1-.2 1-.1 1 .1 1 .2 1 .1 1-0 1-.2 1-.5 1-.4 .59-0 .41-0 1 .3 1 .5 1 .3 1 .1 1-.1 1-.2 1-.1 .18-0 .82-0 1 .2 1 .2 1-0 1-0 1-.2 1-.2 .77-0 .23-0 1 .1 1-.1 1-1.3 1-4.8 1-11.2 1-16 1-11.8 .36-1 .64 3.2 1 14.1 1 15.3 1 9.3 1 3.4 1 .8 1-0 .95-.1 .05-0 1 .1 1 .2 1 .1 1-0 1-.3 1-.5 1-.5 .54-0 .46-0 1 .4 1 .6 1 .3 1-0 1-.2 1-.3 1-.2 .13-0 .87 .1 1 .3 1 .3 1 .1 1-0 1-.2 1-.1 .72-.1 .28-0 1 .2 1 .1 1 .1 1-0 1-.1 1-.2 1-.1 .31-0 .69-0 1 .1 1-.6 1-2.9 1-8.6 1-16 1-17.8 .9-7 .1 .1 1 10 1 18.3 1 14.8 1 7.1 1 2 1 .1 1-.2 .49-0 .51-0 1 .3 1-.1 1-1.6 1-5.7 1-11.9 1-14.6 1-7.7 .08-0 .92 5.8 1 14.2 1 12.7 1 6.7 1 2.2 1 .5 1-.1 .67-0 .33-0 1 .1 1 .1 1 .1 1-0 1-.2 1-.3 1-.1 .26-.1 .74 .1 1 .3 1 .2 1 .1 1-0 1-.2 1-.1 .85-.1 .15-0 1 .1 1 .2 1 .1 1-.1 1-.4 1-.5 1-.4 .44-.1 .56 .1 1 .4 1-0 1-2.1 1-7.2 1-14.6 1-17.4 1-8.5 .03-0 .97 7.6 1 17.3 1 14.9 1 7.7 1 2.6 1 .5 1-0 .62-0 .38-0 1 .1 1 .1 1-0 1-0 1-0 1-.1 1-.1 .21-0 .79-0 1 .1 1 .1 1-0 1-.1 1-.2 1-.3 .8-.1 .2 .1 1 .1 1 .3 1 .1 1-0 1-.3 1-.5 1-.4 .39-.1 .61 .1 1 .4 1 .1 1-1.5 1-5.1 1-10.1 1-11.8 .98-5.3 .02-0 1 5.7 1 11.9 1 9.9 1 4.9 1 1.5 1-.1 1-.3 .57-0 .43-0 1 .3 1 .4 1 .3 1-.1 1-.4 1-.6 1-.3 .16-0 .84 .2 1 .5 1 .5 1 .1 1-.1 1-.5 1-.5 .75-.1 .25-0 1 .4 1 .5 1 .3 1 .1 1-.1 1-.2 1-.1 .34-.1 .66 .1 1 .2 1 .2 1 .1 1-0 1-.1 1-.2 .93-.1 .07-0 1 .1 1-0 1-1 1-3.7 1-9.3 1-14.6 1-12.2 .52-2 .48 1.7 1 11.9 1 14.3 1 7.8 1-1.4 1-9.9 1-13.6 1-7.6 .11-.1 .89 5.1 1 13.4 1 12.1 1 6.6 1 2.2 1 .5 1-0 .7-0 .3-0 1-0 1-.4 1-1.9 1-6.6 1-14.9 1-20.5 1-14 .29-.9 .71 5 1 18.6 1 19.1 1 11.2 1 4 1 .9 1-.1 .88-0 .12-0 1 .1 1 .3 1 .1 1 .1 1-.2 1-.2 1-.2 .47-0 .53-0 1 .2 1 .3 1 .1 1-.1 1-.1 1-.2 1-.2 .06-0 .94 .1 1 .3 1 .1 1 .1 1-0 1-.2 1-.1 .65-0 .35-0 1 .1 1 .1 1 .1 1 .1 1-.1 1-.1 1-0 .24-0 .76-0 1 .1 1-0 1-0 1-.1 1-.1 1-.2 .83-.1 .17-0 1 .1 1 .2 1 .2 1-0 1-.2 1-.2 1-.2 .42-0 .58-0 1 .2 1 .3 1-0 1-.1 1-.5 1-.5 1-.2 .01-0 .99 .2 1 .5 1 .5 1 .2 1-0 1-.1 1-.2 .6-0 .4-0 1 .1 1 .1 1 .1 1-.2 1-.4 1-.5 1-.3 .19-.1 .81 .2 1 .4 1-.1 1-2.1 1-6.5 1-11.7 1-11.9 .78-3.7 .22 .3 1 8.1 1 12.6 1 8.7 1 1.1 1-6.3 1-10.7 1-8.2 .37-.7 .63 2.1 1 9.7 1 10.6 1 6.3 1 2.3 1 .3 1-.4 .96-.2 .04-0 1 .3 1 .4 1 .4 1 .1 1-.3 1-.4 1-.4 .55-.1 .45 .1 1 .3 1 .2 1-1.2 1-4.5 1-9.7 1-12.4 1-7.1 .14-.1 .86 4.3 1 11.8 1 11 1 6 1 2 1 .4 1-0 .73-0 .27-0 1 .1 1 .1 1-0 1-0 1-.2 1-.3 1-.2 .32-.1 .68 .1 1 .3 1 .2 1 .2 1-.1 1-.2 1-.2 .91-.1 .09-0 1 .1 1 .3 1 .1 1-0 1-.3 1-.5 1-.4 .5-.1 .5 .1 1 .4 1 .5 1 .3 1 .1 1-.1 1-.2 1-.1 .09-0 .91 .1 1 .1 1 .2 1-0 1-.1 1-.2 1-.3 .68-0 .32-0 1 .2 1 .2 1 .1 1-.1 1-.3 1-.5 1-.3 .27-.1 .73 .2 1 .4 1 .5 1 .3 1-0 1-0 1-.1 .86-0 .14-0 1-0 1 .1 1-0 1-0 1-.2 1-.2 1-.2 .45-.1 .55 .1 1 .2 1 .2 1 .1 1-.1 1-.4 1-.4 1-.2 .04-0 .96 .2 1 .4 1 .4 1 .1 1-.2 1-.4 1-.4 .63-.1 .37 .1 1 .2 1 .2 1-.9 1-3.7 1-8.4 1-11.2 1-7.1 .22-.3 .78 3.2 1 10.5 1 10.2 1 5.7 1 2.1 1 .5 1-0 .81-.1 .19 .1 1-0 1 .1 1-0 1-0 1-0 1-.1 1-.1 .4-0 .6-0 1 .1 1 .1 1-0 1-.2 1-.5 1-.5 .99-.2 .01-0 1 .3 1 .5 1 .4 1 .1 1-0 1-.2 1-.1 .58-.1 .42 .1 1 .1 1 .2 1 .1 1-.1 1-.4 1-.4 1-.2 .17-0 .83 .1 1 .4 1 .4 1 .1 1-.2 1-.5 1-.4 .76-.2 .24 .1 1 .3 1 .5 1 .3 1 .1 1-.1 1-.2 1-.2 .35-0 .65 .1 1 .1 1-.1 1-1.5 1-4.8 1-9 1-10.3 .94-4.3 .06-0 1 5.4 1 10.3 1 7.6 1 .9 1-7.1 1-12.9 1-11.2 .53-1.9 .47 1.5 1 10.8 1 13.4 1 8.7 1 3.6 1 .7 1-.2 1-.2 .12-0 .88 .2 1 .3 1 .3 1 .2 1-.1 1-.1 1-.2 .71-.1 .29-0 1 .1 1 .1 1-.7 1-2.7 1-6.2"/>
<path stroke="#3a3aee" d="M24.50 -2.9l1-6.4 1-11.6 1-12.5 .85-4.4 .15 .1 1 7.6 1 13.1 1 10.2 1 4.8 1 1.4 1 .1 1-.1 .44-0 .56-0 1 .2 1 .2 1 .1 1-0 1-0 1-.1 1-0 .03-0 .97-0 1 .1 1-0 1-0 1-.3 1-.4 1-.4 .62-.1 .38 .1 1 .3 1 .4 1 .3 1-.1 1-.3 1-.6 1-.3 .21-0 .79 .2 1 .4 1-.1 1-1.8 1-5.6 1-10.1 1-10.5 .8-3.4 .2 .2 1 6.9 1 11.3 1 8.4 1 3.9 1 .8 1-.2 1-.4 .39-0 .61 .1 1 .4 1 .5 1 .3 1 .1 1-0 1-.1 .98-0 .02-0 1-0 1 .1 1-0 1-0 1-.1 1-.1 1-.2 .57-0 .43-0 1 .1 1 .2 1 .1 1-.1 1-.2 1-.3 1-.2 .16-0 .84 .1 1 .3 1 .3 1-0 1-.2 1-.5 1-.5 .75-.1 .25-0 1 .3 1 .5 1 .4 1-0 1-.3 1-.5 1-.4 .34-0 .66 .1 1 .4 1 .5 1 .3 1-0 1-.2 1-.2 .93-.1 .07-0 1 .1 1-0 1-.8 1-3.5 1-9 1-14.1 1-11.8 .52-1.9 .48 1.6 1 11.6 1 14.1 1 9.2 1 3.8 1 .8 1-.1 1-.1 .11-0 .89 .1 1 .3 1 .2 1 .1 1-.2 1-.2 1-.3 .7-.1 .3-0 1 .2 1 .3 1 .2 1-.1 1-.3 1-.5 1-.4 .29-0 .71 .1 1 .4 1-.1 1-2.3 1-7.1 1-13.4 1-14.6 .88-5.5 .12 .1 1 8.5 1 15.2 1 12 1 5.7 1 1.6 1-.1 1-.3 .47-0 .53-0 1 .4 1 .4 1 .3 1-.1 1-.3 1-.4 1-.2 .06-0 .94 .1 1 .5 1 .3 1 .1 1-.2 1-.4 1-.5 .65-.1 .35 .1 1 .3 1 .5 1 .2 1-0 1-.2 1-.5 1-.3 .24-0 .76 .1 1 .3 1-.1 1-2.1 1-6.4 1-11.7 1-12.4 .83-4.2 .17 .2 1 7.8 1 13.1 1 10 1 4.7 1 1.4 1 .1 1-.1 .42-.1 .58 .1 1 .1 1-.3 1-2.1 1-6.6 1-13.1 1-15.5 1-7.4 .01-0 .99 7.1 1 15.5 1 13.2 1 6.7 1 2.2 1 .3 1-.2 .6-0 .4-0 1 .1 1-0 1-1.3 1-4.8 1-10.1 1-13.4 1-8.2 .19-.2 .81 4.1 1 12.6 1 12 1 6.7 1 2.4 1 .5 1-0 .78-0 .22-0 1 .1 1 .1 1-0 1-0 1-.1 1-.1 1-.2 .37-0 .63-0 1 .1 1-.3 1-1.9 1-5.7 1-11.1 1-12.8 .96-5.6 .04-0 1 6.5 1 12.9 1 10.7 1 5.4 1 1.7 1 .2 1-.1 .55-0 .45-0 1 .1 1 .2 1 .1 1-0 1-0 1-.1 1-.1 .14-0 .86-0 1-0 1-.6 1-2.6 1-7.1 1-12.4 1-12.2 .73-3.4 .27 .5 1 8.8 1 13.1 1 7.9 1-1.6 1-12.4 1-19.1 1-13.5 .32-1 .68 4.3 1 17.3 1 18.2 1 10.7 1 4 1 .8 1-0 .91-.1 .09-0 1 .1 1-0 1-1.2 1-4.8 1-11.8 1-18.4 1-15.2 .5-2.3 .5 2.3 1 15.1 1 18 1 10 1-1.1 1-10.7 1-14.8 1-7.9 .09-.1 .91 5.8 1 14.6 1 13 1 6.9 1 2.1 1-0 1-.4 .68-.1 .32-0 1 .4 1 .6 1 .3 1 .1 1-0 1-.2 1-.2 .27-0 .73 .1 1-0 1-.4 1-2.6 1-7.6 1-13.9 1-15 .86-5.5 .14 .2 1 9 1 15.7 1 12.3 1 5.9 1 1.8 1 .3 1-0 .45-0 .55-0 1-0 1-.5 1-2.4 1-7.4 1-15 1-17.9 1-9 .04-0 .96 7.7 1 17.6 1 14.5 1 4.2 1-7.2 1-15.6 1-14.8 .63-3.3 .37 1.2 1 12.5 1 17 1 11.7 1 5 1 1.3 1-0 1-.1 .22-0 .78 .1 1 .2 1 .3 1 .1 1-.1 1-.1 1-.2 .81-0 .19-0 1 .1 1 .2 1 .1 1-0 1-.2 1-.3 1-.2 .4-0 .6 .1 1 .2 1 .2 1 .1 1-0 1-.3 1-.4 .99-.2 .01-0 1 .2 1 .2 1-.4 1-2.7 1-6.9 1-11.3 1-10 .58-1.9 .42 1 1 9 1 11.6 1 7.8 1 3.1 1 .6 1-.2 1-.2 .17-.1 .83 .2 1 .2 1-.4 1-3.1 1-9.1 1-15.9 1-16 .76-4.8 .24 .5 1 11.2 1 17.4 1 12.9 1 5.8 1 1.5 1-0 1-.2 .35-0 .65-0 1 .4 1 .4 1 .2 1-0 1-.1 1-.1 .94-.1 .06-0 1 .1 1 .1 1 .1 1-.1 1-.3 1-.4 1-.4 .53-.1 .47 .1 1 .3 1 .1 1-1.3 1-5 1-10.5 1-13.4 1-7.4 .12-.1 .88 4.8 1 12.7 1 10.9 1 2.9 1-6.7 1-14.9 1-14.9 .71-4 .29 .7 1 11.3 1 16.5 1 11.9 1 5.3 1 1.4 1 .1 1-.1 .3-0 .7-0 1 .3 1 .2 1-0 1-.1 1-.4 1-.4 .89-.1 .11-0 1 .2 1 .2 1-.8 1-3.8 1-9.5 1-14.7 1-11.9 .48-1.7 .52 2 1 12.2 1 14.6 1 9.3 1 3.7 1 .9 1-0 1-0 .07-0 .93-0 1 .2 1 .2 1-0 1-.1 1-.1 1-.2 .66-0 .34-0 1-0 1-.2 1-1.7 1-6.3 1-13.7 1-18.6 1-12.1 .25-.6 .75 5 1 17 1 16.4 1 6.9 1-4.4 1-13.6 1-15.3 .84-5.4 .16 .2 1 9.5 1 16.1 1 11.2 1 1.2 1-9.6 1-16.8 1-13.3 .43-1.6 .57 2.7 1 14.7 1 16.8 1 10.4 1 4.1 1 .9 1-0 1-.1 .02-0 .98 .1 1-0 1-.9 1-4.1 1-10.7 1-17.4 1-15.8 .61-3.3 .39 1.4 1 13.5 1 17.7 1 10.3 1-1.5 1-13.1 1-19.1 1-11.9 .2-.4 .8 5.9 1 18.1 1 17.5 1 9.7 1 3.4 1 .6 1-.1 .79-.1 .21-0 1 .1 1 .1 1-1.4 1-5.2 1-12.4 1-18.1 1-13.4 .38-1.3 .62 3.4 1 15.7 1 16.7 1 8.2 1-3 1-12.8 1-15.8 .97-7 .03-0 1 7.9 1 16.1 1 13.4 1 6.7 1 2 1 .2 1-.3 .56-0 .44-0 1 .3 1 .4 1 .2 1-.1 1-.4 1-.6 1-.3 .15-0 .85 .2 1 .5 1 .5 1 .2 1 .1 1-.1 1-.1 .74-0 .26-0 1-0 1-.1 1-.8 1-3.3 1-7.4 1-10.6 1-7.4 .33-.6 .67 2.3 1 9.4 1 9.9 1 5.8 1 2.1 1 .2 1-.4 .92-.1 .08-0 1 .2 1 .5 1 .3 1 .1 1-.3 1-.4 1-.4 .51-.1 .49 .1 1 .4 1 .4 1 .3 1-.1 1-.4 1-.5 1-.3 .1-0 .9 .2 1 .5 1 .4 1 .3 1-0 1-.1 1-0 .69-.1 .31-0 1 .1 1 .1 1-0 1-0 1-.2 1-.2 1-.1 .28-0 .72-0 1 .1 1-.3 1-2.1 1-6.1 1-11.4 1-12.3 .87-4.6 .13 .1 1 7.3 1 12.6 1 8.9 1 .3 1-9.4 1-16.2 1-13.2 .46-1.7 .54 2.4 1 14 1 16.3 1 10.2 1 4 1 .7 1-.3 1-.3 .05-0 .95 .3 1 .5 1 .4 1 .2 1-.1 1-.3 1-.3 .64-.1 .36-0 1 .3 1 .3 1 .2 1-.1 1-.3 1-.6 1-.3 .23-0 .77 .1 1 .5 1 .5 1 .2 1-0 1-.2 1-.2 .82-.1 .18-0 1 .1 1 .3 1 .1 1-0 1-.3 1-.5 1-.4 .41-0 .59 .1 1 .4 1 .4 1 .3 1-0 1-.2 1-.3 1-.1 1 .1 1 .3 1 .2 1 .1 1-.1 1-.2 1-.1 .59-.1 .41 .1 1 .1 1 .2 1 .1 1-.1 1-.4 1-.4 1-.3 .18-0 .82 .1 1 .4 1-.2 1-2.2 1-6.4 1-11.5 1-11.7 .77-3.5 .23 .3 1 8.1 1 12.5 1 9.4 1 4.3 1 1.2 1 .2 1-0 .36-0 .64-0 1 .1 1 .1 1-0 1-.1 1-.3 1-.4 .95-.1 .05-0 1 .1 1 .4 1 .3 1-0 1-.2 1-.3 1-.3 .54-.1 .46 .1 1 .2 1-.1 1-2 1-6.7 1-14.2 1-18.1 1-10.1 .13-.2 .87 6.4 1 17.3 1 15.9 1 8.6 1 2.9 1 .5 1-.1 .72-0 .28-0 1 .2 1 .2 1 .2 1-0 1-.1 1-.1 1-.1 .31-0 .69-0 1 .2 1 .1 1-0 1-0 1-.2 1-.1 .9-.1 .1-0 1 .1 1 .2 1 .1 1-0 1-.1 1-.2 1-.1 .49-.1 .51 .1 1 .1 1 .2 1 .1 1-.1 1-.3 1-.3 1-.2 .08-0 .92 .1 1 .3 1 .3 1 .1 1-.1 1-.4 1-.3 .67-.1 .33-0 1 .2 1 .1 1-1 1-4.3 1-9.5 1-13.1 1-8.7 .26-.4 .74 3.4 1 11.9 1 11.2 1 3.5 1-7 1-16.9 1-18.7 .85-6.7 .15 .2 1 11.4 1 19.6 1 14.1 1 3 1-8 1-15.1 1-12.1 .44-1.5 .56 2.4 1 13.2 1 15.2 1 9.6 1 3.6 1 .7 1-.2 1-.2 .03-0 .97 .2 1 .2 1-.6 1-3.3 1-8.9 1-14.6 1-13.3 .62-2.9 .38 1.1 1 11.4 1 15.2 1 10.5 1 4.5 1 1.1 1 .1 1-.1 .21-0 .79-0 1 .2 1 .2 1 .1 1-0 1-.2 1-.1 .8-.1 .2-0 1 .1 1-.1 1-1 1-4 1-9.4 1-13.8 1-10.4 .39-1 .61 2.5 1 12 1 13.2 1 8.1 1 3.1 1 .5 1-.1 .98-.2 .02-0 1 .2 1 .3 1 .3 1 .1 1-0 1-.1 1-.1 .57-0 .43-0 1-0 1-.2 1-1.3 1-4.5 1-9.5 1-12.3 1-7.2 .16-.2 .84 4.1 1 11.5 1 10 1 2.3 1-7.8 1-17 1-17.3 .75-5.1 .25 .6 1 12.4 1 19 1 13.9 1 6.4 1 1.7 1-0 1-.2 .34-0 .66 .1 1 .3 1 .3 1 .1 1-.1 1-.3 1-.3 .93-.2 .07-0 1 .2 1 .4 1 .3 1 .1 1-0 1-.1 1-.1 .52-0 .48-0 1 .1 1 .1 1-0 1-0 1-.1 1-.1 1-.1 .11-0 .89-0 1 .2 1 .1 1-0 1-.2 1-.4 1-.4 .7-.1 .3-0 1 .3 1 .4 1 .3 1-0 1-.1 1-.3 1-.2 .29-0 .71 .1 1 .2 1 .3 1 .1 1-.1 1-.1 1-.2 .88-.1 .12-0 1 .1 1-0 1-1.1 1-4.3 1-10.5 1-16 1-12.9 .47-1.8 .53 2.2 1 13.4 1 15.4 1 7.9 1-2.5 1-12.1 1-16 1-8.3 .06-0 .94 6.7 1 15.8 1 14 1 7.3 1 2.4 1 .4 1-.1 .65-0 .35-0 1 .1 1 .2 1 .2 1-.1 1-.2 1-.4 1-.2 .24-0 .76 .1 1 .3 1 .3 1 .2 1-.1 1-.2 1-.2 .83-.1 .17-0 1 .1 1 .3 1 .2 1-0 1-.2 1-.3 1-.2 .42-0 .58 .1 1 .1 1-.1 1-1.3 1-4.6 1-9.1 1-10.8 1-5.1 .01-0 .99 4.9 1 10.8 1 9.1 1 4.6 1 1.3 1-.2 1-.4 .6-.1 .4-0 1 .4 1 .1 1-1.6 1-6.1 1-13.4 1-17.6 1-10.8 .19-.3 .81 5.5 1 16.5 1 15.9 1 8.8 1 3.1 1 .7 1-0 .78-.1 .22-0 1 .1 1 .2 1 .1 1-.1 1-.3 1-.4 1-.3 .37-0 .63 .1 1 .3 1 .4 1 .2 1 .1 1-.2 1-.1 .96-.1 .04-0 1 .1 1-0 1-.7 1-3 1-7.5 1-12 1-10.4 .55-1.8 .45 1.2 1 9.7 1 12.2 1 8.1 1 3.2 1 .5 1-.3 1-.3 .14-0 .86 .2 1 .5 1 .4 1 .2 1-0 1-.3 1-.2 .73-.1 .27-0 1 .2 1 .3 1 .1 1-0 1-.3 1-.5 1-.3 .32-0 .68 .1 1 .4 1 .4 1 .2 1-0 1-.2 1-.3 .91-.1 .09-0 1 .1 1 .1 1-1 1-4.4 1-10.8 1-16.7 1-13.8 .5-2.1 .5 2.1 1 13.8 1 16.7 1 10.8 1 4.4 1 .9 1-0 1-.1 .09-0 .91 .1 1 .2 1 .3 1 .1 1-0 1-.2 1-.1 .68-0 .32-0 1 .1 1 .1 1 .1 1-0 1-0 1-.1 1-0 .27-0 .73-0 1-0 1-.5 1-2.4 1-6.6 1-12.3 1-13.3 .86-4.8 .14 .1 1 7.9 1 13.7 1 9.5 1 .5 1-9.5 1-16.5 1-13.3 .45-1.7 .55 2.5 1 14.3 1 16.5 1 10.4 1 4 1 .7 1-.3 1-.2 .04-0 .96 .2 1 .3 1-.6 1-3.9 1-10.4 1-17.3 1-15.8 .63-3.5 .37 1.2 1 13.4 1 18 1 12.5 1 5.3 1 1.3 1-.1 1-.2 .22-0 .78 .1 1 .4 1 .3 1 .2 1-.1 1-.2 1-.2 .81-.1 .19-0 1 .1 1 .1 1-.9 1-3.5 1-8.3 1-12.3 1-9.3 .4-1 .6 2.1 1 10.6 1 11.2 1 4.2 1-6.3 1-17.1 1-20.7 .99-9.6 .01-0 1 9.9 1 21 1 17.7 1 8.9 1 2.9 1 .5 1-.1 .58-0 .42-0 1 .2 1 .2 1 .1 1-.1 1-.2 1-.3 1-.2 .17-0 .83 .1 1 .1 1-.4 1-2.8 1-7.9 1-13.9 1-14.1 .76-4.2 .24 .4 1 9.8 1 15 1 10 1 .5 1-9.2 1-14.9 1-11.1 .35-.9 .65 3.1 1 13.6 1 14.5 1 8.7 1 3.2 1 .7 1-.2 .94-.1 .06-0 1 .2 1 .3 1 .2 1-0 1-.2 1-.5 1-.4 .53-0 .47-0 1 .4 1 .4 1 .3 1-.1 1-.4 1-.6 1-.3 .12-0 .88 .2 1 .4 1-.1 1-2.3 1-6.5 1-11.3 1-11.1 .71-2.9 .29 .5 1 8.3 1 12.2 1 8.8 1 3.9 1 1.1"/>
<path stroke="#ee3490" d="M24.50 -0.1l1-.2 1-.5 1-.5 .85-.1 .15 0 1 .3 1 .5 1 .3 1 .1 1-.3 1-.4 1-.4 .44 0 .56 .1 1 .3 1 .5 1 .2 1 0 1-.2 1-.2 1-.2 .03 0 .97 .1 1 .2 1-.4 1-2 1-5.6 1-9.2 1-8.3 .62-1.8 .38 .7 1 7.1 1 9.6 1 6.5 1 2.9 1 .7 1 .1 1 0 .21 0 .79 0 1 .1 1 0 1 0 1-.2 1-.3 1-.4 .8-.1 .2 0 1 .2 1 .4 1 .3 1 0 1-.2 1-.3 1-.3 .39 0 .61 .1 1 .3 1 .3 1 .2 1-.1 1-.2 1-.2 .98-.1 .02 0 1 .1 1 .1 1-.4 1-2.2 1-5.7 1-9.2 1-8 .57-1.5 .43 .9 1 7.3 1 9.4 1 6.3 1 2.5 1 .6 1-.2 1-.1 .16 0 .84 .1 1 .2 1 .3 1 0 1-.2 1-.5 1-.5 .75-.1 .25 0 1 .3 1 .3 1-.5 1-3.2 1-7.4 1-10.7 1-7.6 .34-.6 .66 2.2 1 9.5 1 10.1 1 6 1 2.3 1 .4 1-.1 .93 0 .07 0 1 0 1 .2 1 .1 1 0 1-.3 1-.5 1-.4 .52-.1 .48 .1 1 .3 1 0 1-2.1 1-7.4 1-15.5 1-19.4 1-10.7 .11-.1 .89 7.2 1 18.7 1 17.1 1 9.1 1 3 1 .5 1-.2 .7 0 .3 0 1 .2 1 .1 1-.9 1-3.6 1-8.3 1-11.5 1-7.8 .29-.5 .71 2.8 1 10.4 1 10.7 1 6.2 1 2.3 1 .4 1-.1 .88 0 .12 0 1 .1 1 .2 1 .1 1 0 1 0 1-.1 1-.1 .47 0 .53 0 1 0 1-.4 1-2.2 1-6.9 1-13.9 1-17 1-8.7 .06 0 .94 7 1 16.6 1 14.7 1 7.7 1 2.6 1 .6 1 0 .65 0 .35 0 1 0 1 .1 1 0 1-.1 1-.2 1-.3 1-.3 .24 0 .76 .1 1 .3 1 .3 1 .1 1-.2 1-.5 1-.4 .83-.2 .17 0 1 .3 1 .2 1-1.3 1-5.5 1-13.5 1-20.1 1-15.5 .42-1.8 .58 3.3 1 17.3 1 19.5 1 12.2 1 4.7 1 1.2 1 .1 1-.1 .01 0 .99 .1 1 .2 1 .1 1 0 1-.2 1-.4 1-.3 .6-.1 .4 .1 1 .2 1 .4 1 .2 1 0 1-.2 1-.3 1-.2 .19 0 .81 .1 1 .1 1-.5 1-3.3 1-9.3 1-16.5 1-17 .78-5.2 .22 .4 1 11.5 1 18.2 1 13.6 1 6.2 1 1.6 1 0 1-.3 .37 0 .63 0 1 .5 1 .4 1 .2 1 .1 1-.1 1-.2 .96 0 .04 0 1 0 1 .2 1 .1 1 0 1-.1 1-.2 1-.2 .55 0 .45 0 1 .2 1 .2 1 .1 1 0 1-.2 1-.2 1-.1 .14 0 .86 .1 1 .2 1 .1 1 .1 1 0 1-.1 1 0 .73-.1 .27 0 1 .1 1 .1 1 0 1-.1 1-.4 1-.5 1-.3 .32 0 .68 .1 1 .3 1-.1 1-2.4 1-7.4 1-14.2 1-15.7 .91-6.3 .09 .1 1 8.7 1 16.2 1 13 1 6.3 1 1.9 1 0 1-.3 .5 0 .5 0 1 .4 1 .4 1 .2 1 .1 1 0 1-.1 1 0 .09 0 .91 0 1 .1 1 0 1 0 1-.3 1-.4 1-.5 .68-.1 .32 0 1 .4 1 .4 1 .3 1 0 1-.2 1-.4 1-.3 .27 0 .73 .1 1 .4 1 .3 1 .2 1 0 1-.3 1-.2 .86-.2 .14 0 1 .2 1 0 1-1.3 1-5.4 1-12.9 1-19.6 1-15.5 .45-2 .55 2.9 1 16.6 1 19.3 1 12.1 1 4.7 1 1.1 1 0 1-.1 .04 0 .96 .1 1 .3 1 .2 1 .1 1-.1 1-.1 1-.2 .63 0 .37 0 1 .1 1-.2 1-1.3 1-4.8 1-10.5 1-14 1-8.9 .22-.3 .78 4 1 13 1 12.8 1 7.1 1 2.6 1 .5 1-.1 .81 0 .19 0 1 .1 1 .2 1 .1 1 0 1 0 1-.1 1 0 .4-.1 .6 .1 1 0 1 .1 1 0 1 0 1-.2 1-.3 .99-.1 .01 0 1 .1 1 .3 1 .1 1 0 1-.2 1-.4 1-.4 .58-.1 .42 .1 1 .2 1 0 1-1.7 1-6.3 1-13.7 1-17.7 1-10.5 .17-.3 .83 5.8 1 16.7 1 15.9 1 8.6 1 2.9 1 .3 1-.3 .76-.1 .24 0 1 .3 1 .5 1 .3 1 .1 1-.3 1-.4 1-.3 .35 0 .65 .1 1 .4 1 .3 1 .2 1 0 1-.1 1-.2 .94-.1 .06 0 1 .1 1 .2 1 .2 1 0 1-.2 1-.4 1-.2 .53-.1 .47 .1 1 .2 1 .4 1 .1 1 0 1-.2 1-.3 1-.1 .12 0 .88 .1 1 .3 1 .2 1 0 1-.2 1-.4 1-.4 .71-.1 .29 0 1 .3 1 .5 1 .3 1 0 1-.2 1-.3 1-.2 .3 0 .7 0 1 .3 1 .3 1 .2 1-.1 1-.1 1-.2 .89-.1 .11 0 1 .1 1 .2 1 .2 1-.1 1-.2 1-.4 1-.3 .48 0 .52 0 1 .3 1-.3 1-2.6 1-8.6 1-17.5 1-21.5 1-11.1 .07-.1 .93 8.7 1 20.8 1 17.7 1 6 1-6.6 1-15.8 1-15.5 .66-3.7 .34 1 1 12.6 1 17.6 1 12.2 1 5.3 1 1.2 1-.1 1-.3 .25 0 .75 .1 1 .5 1 .4 1 .3 1 0 1 0 1-.1 .84 0 .16 0 1 0 1 .1 1 0 1 0 1-.1 1-.2 1-.1 .43-.1 .57 .1 1 .1 1 .2 1 .1 1 0 1-.2 1-.1 1-.1 .02 0 .98 .1 1 .1 1 .2 1-.1 1-.2 1-.4 1-.4 .61 0 .39 0 1 .3 1 .4 1 .3 1-.1 1-.4 1-.5 1-.3 .2 0 .8 .1 1 .4 1-.4 1-3.1 1-9.3 1-16.5 1-17.1 .79-5.4 .21 .4 1 11.4 1 18.3 1 13.8 1 6.3 1 1.9 1 .2 1-.1 .38-.1 .62 .1 1 .2 1 .2 1 0 1-.1 1-.4 1-.5 .97-.2 .03 0 1 .2 1 .5 1 .4 1 .1 1 0 1-.2 1-.2 .56-.1 .44 .1 1 .1 1 .3 1 .1 1 0 1-.1 1-.2 1-.1 .15 0 .85 0 1 .2 1 .1 1 0 1-.2 1-.5 1-.4 .74-.2 .26 0 1 .4 1 .5 1 .3 1 .1 1-.2 1-.4 1-.3 .33 0 .67 .1 1 .3 1 .4 1 .1 1-.1 1-.3 1-.4 .92-.2 .08 0 1 .2 1 .2 1-.8 1-4.1 1-10.4 1-16.1 1-13.5 .51-2.1 .49 1.9 1 13.3 1 16.2 1 10.5 1 4.1 1 .8 1-.3 1-.3 .1 0 .9 .2 1 .6 1 .4 1 .2 1-.1 1-.2 1-.3 .69-.1 .31 .1 1 .2 1 .2 1 .2 1 0 1-.4 1-.4 1-.4 .28 0 .72 .1 1 .5 1 .4 1 .2 1-.1 1-.3 1-.4 .87-.2 .13 0 1 .3 1 .4 1 .2 1 .1 1-.3 1-.5 1-.4 .46 0 .54 .1 1 .4 1 .4 1 .3 1 0 1-.2 1-.3 1-.1 .05 0 .95 .1 1 .3 1 .2 1 0 1-.2 1-.4 1-.3 .64-.1 .36 0 1 .3 1 .4 1 .3 1 0 1-.2 1-.4 1-.2 .23 0 .77 .1 1 .2 1-.1 1-1.9 1-5.4 1-10 1-10.5 .82-3.5 .18 .2 1 6.7 1 11.1 1 8.5 1 4 1 1.1 1 .1 1-.1 .41 0 .59 0 1 .2 1 .1 1 .1 1-.1 1-.3 1-.4 1-.2 1 .2 1 .2 1-.3 1-2.1 1-5.8 1-9.5 1-8.4 .59-1.7 .41 .8 1 7.5 1 9.8 1 6.5 1 2.7 1 .4 1-.4 1-.3 .18 0 .82 .2 1 .5 1 .4 1 .2 1 .1 1-.1 1-.2 .77 0 .23 0 1 .1 1 .1 1 .1 1 0 1 0 1-.1 1 0 .36 0 .64 0 1 0 1 .1 1 .1 1-.1 1-.1 1-.1 .95-.1 .05 0 1 .1 1 0 1-.6 1-2.4 1-6 1-9.6 1-8.2 .54-1.4 .46 1 1 7.8 1 9.7 1 6.4 1 2.6 1 .5 1-.1 1-.1 .13 0 .87 .1 1 .1 1-.6 1-3.1 1-8.5 1-14.6 1-14.3 .72-3.9 .28 .6 1 10.6 1 15.4 1 9.9 1-.1 1-10.3 1-16.2 1-11.4 .31-.8 .69 3.8 1 14.8 1 15.5 1 9.1 1 3.5 1 .8 1 .1 .9-.1 .1 0 1 .1 1-.2 1-1.2 1-4.4 1-10.9 1-16.7 1-13.8 .49-2 .51 2.2 1 13.9 1 16.7 1 10.7 1 4.2 1 .9 1-.1 1-.2 .08 0 .92 .2 1 .3 1 .3 1 .1 1-.2 1-.3 1-.4 .67-.1 .33 0 1 .3 1 .4 1 .3 1 0 1-.3 1-.4 1-.3 .26 0 .74 .1 1 .4 1 .4 1 .2 1 0 1-.1 1-.1 .85 0 .15 0 1 .1 1 .1 1 0 1 0 1-.3 1-.3 1-.3 .44 0 .56 0 1 .3 1 .4 1 .1 1 0 1-.2 1-.2 1-.1 .03 0 .97 .1 1 .2 1 .2 1 0 1-.2 1-.5 1-.4 .62 0 .38 0 1 .3 1 0 1-1.8 1-6.8 1-14.8 1-19.7 1-12.3 .21-.4 .79 5.8 1 18.4 1 17.8 1 9.9 1 3.5 1 .4 1-.3 .8-.2 .2 .1 1 .3 1 .5 1 .3 1 .2 1 0 1-.1 1-.1 .39 0 .61 0 1 .1 1 .1 1 0 1-.2 1-.4 1-.5 .98-.2 .02 0 1 .2 1 .5 1 .4 1 .1 1-.3 1-.5 1-.4 .57-.1 .43 .1 1 .4 1 .5 1 .2 1 0 1-.4 1-.5 1-.3 .16 0 .84 .2 1 .5 1 .4 1 .3 1 0 1-.1 1-.1 .75-.1 .25 0 1 .1 1-.2 1-1.4 1-5.1 1-11.7 1-16.6 1-11.9 .34-1 .66 3.5 1 14.7 1 15.1 1 6.8 1-3.9 1-13.5 1-16 .93-6.7 .07 0 1 8.7 1 16.5 1 13.6 1 6.6 1 2.2 1 .4 1 0 .52-.1 .48 .1 1 0 1 .1 1 0 1-.2 1-.3 1-.5 1-.3 .11 0 .89 .2 1 .3 1-.4 1-2.8 1-8.2 1-13.9 1-13.5 .7-3.5 .3 .7 1 10.3 1 14.9 1 10.7 1 4.7 1 1.1 1-.1 1-.2 .29 0 .71 .1 1 .2 1-.4 1-2.8 1-8.6 1-16.1 1-17.5 .88-6.6 .12 .1 1 10.2 1 18.2 1 14.5 1 6.9 1 2 1 .1 1-.3 .47 0 .53 .1 1 .3 1 .3 1 .2 1 0 1-.1 1-.2 1-.1 .06 0 .94 .1 1 0 1-.7 1-3.2 1-8.7 1-14.4 1-13.4 .65-3.1 .35 .9 1 11 1 15.2 1 10.6 1 4.6 1 1.2 1 .2 1 0 .24 0 .76 0 1 .1 1 .1 1 0 1-.2 1-.4 1-.4 .83-.2 .17 0 1 .3 1 .4 1 .4 1 .1 1-.1 1-.1 1-.2 .42 0 .58 0 1 .2 1 .1 1 .1 1 0 1-.2 1-.2 1-.1 .01 0 .99 0 1 0 1-.9 1-4.3 1-11 1-17.9 1-16 .6-3.3 .4 1.5 1 14 1 18.6 1 12.6 1 5.4 1 1.5 1 .2 1 0 .19 0 .81 0 1 .1 1 0 1 0 1-.1 1-.1 1-.2 .78-.1 .22 0 1 .2 1 .2 1 .1 1 0 1-.1 1-.2 1-.2 .37 0 .63 0 1 .2 1 .2 1 .1 1-.2 1-.3 1-.4 .96-.2 .04 0 1 .2 1 .4 1 .3 1 .1 1 0 1-.3 1-.2 .55 0 .45 0 1 .2 1 .2 1 .2 1 0 1-.2 1-.2 1-.1 .14 0 .86 0 1 .2 1 .2 1 0 1-.2 1-.5 1-.5 .73-.2 .27 .1 1 .3 1 .3 1-.6 1-3.2 1-7.6 1-10.8 1-7.6 .32-.5 .68 2.4 1 9.5 1 9.6 1 3.4 1-5.3 1-13.6 1-15.6 .91-6.3 .09 .1 1 8.7 1 16.2 1 13 1 6.4 1 1.8 1 .1 1-.2 .5-.1 .5 .1 1 .2 1-.2 1-2 1-7.1 1-14.6 1-18 1-9.7 .09-.1 .91 7 1 17.4 1 14.9 1 4.8 1-6.4 1-15.1 1-15 .68-3.7 .32 .9 1 11.7 1 16.8 1 11.9 1 5.2 1 1.4 1 0 1-.1 .27 0 .73 .1 1 .2 1 .3 1 0 1-.1 1-.4 1-.4 .86-.2 .14 0 1 .3 1 .4 1 .3 1 .1 1-.1 1-.2 1-.2 .45 0 .55 0 1 .2 1-.3 1-2.1 1-6.8 1-13.6 1-16.3 1-8.2 .04 0 .96 7 1 16.2 1 14.1 1 7.2 1 2.3 1 .3 1-.2 .63-.1 .37 .1 1 .2 1 .3 1 .2 1 .1 1-.1 1-.2 1-.1 .22 0 .78 0 1 .2 1 .1 1 0 1-.2 1-.4 1-.5 .81-.1 .19 0 1 .3 1 .5 1 .3 1 .2 1 0 1-.1 1-.1 .4 0 .6 0 1 .1 1 .1 1 0 1-.2 1-.4 1-.4 .99-.3 .01 0 1 .2 1 .3 1-.7 1-3.9 1-10.4 1-16.7 1-14.8 .58-2.8 .42 1.5 1 13.2 1 16.8 1 9.5 1-1.5 1-12.3 1-17.4 1-10.5 .17-.3 .83 5.8 1 16.7 1 15.9 1 8.7 1 3.1 1 .6 1-.1 .76 0 .24 0 1 .1 1 .2 1 .1 1-.1 1-.3 1-.4 1-.3 .35-.1 .65 .1 1 .4 1 .4 1 .2 1-.2 1-.4 1-.5 .94-.3 .06 0 1 .3 1 .5 1 .5 1 .2 1 0 1 0 1-.1 .53 0 .47 0 1 .1 1 0 1 0 1-.1 1-.2 1-.3 1-.2 .12 0 .88 .1 1 .3 1 .3 1 .1 1-.2 1-.2 1-.3 .71-.1 .29 0 1 .2 1 .3 1 .2 1 0 1-.3"/>
</g>
<g id="tr2" fill="none" stroke-width="1.35" stroke-linejoin="round">
<path stroke="#262626" d="M24.50 -0.1l1-.2 1-.3 1-.4 .85-.2 .15 .1 1 .2 1 .4 1 .3 1 .1 1-.1 1-.1 1-.2 .44-0 .56-0 1 .1 1-0 1-1 1-3.1 1-6.3 1-7.5 1-3.7 .03 0 .97 3.3 1 7.5 1 6.4 1 3.3 1 .9 1-0 1-.2 .62-0 .38-0 1 .1 1-.3 1-2.8 1-9.6 1-20.7 1-27.5 1-17.1 .21-.6 .79 8.1 1 25.6 1 25 1 14 1 5 1 1.2 1 .1 .8-0 .2-0 1-0 1 .1 1 .1 1-0 1-.1 1-.1 1-.1 .39-.1 .61 .1 1 .1 1-.1 1-1 1-3 1-5.9 1-6.9 .98-3.1 .02-0 1 3.3 1 7 1 5.8 1 2.8 1 .7 1-.2 1-.3 .57-.1 .43-0 1 .3 1-.3 1-3.3 1-11.1 1-23.5 1-30.4 1-17.9 .16-.4 .84 10.1 1 28.8 1 26.6 1 12.6 1-.8 1-9.3 1-10.4 .75-3.1 .25 .4 1 7.5 1 11.6 1 8.5 1 3.8 1 1 1 0 1-.1 .34 0 .66 0 1 .1 1-.8 1-4 1-12 1-23 1-25.8 .93-10.7 .07 .1 1 13.7 1 26.5 1 21.5 1 10.6 1 3.2 1 .3 1-.3 .52 0 .48 0 1 .4 1 .4 1 .3 1 0 1-.3 1-.3 1-.2 .11 0 .89 .1 1 .1 1-.9 1-4.5 1-12.5 1-21.3 1-20.5 .7-5.4 .3 1 1 15.7 1 22.8 1 16.4 1 7.2 1 2 1 .3 1-.1 .29 0 .71 0 1 .2 1 .2 1 .1 1-.1 1-.2 1-.3 .88-.1 .12 0 1 .2 1 .2 1 .2 1 .1 1-.1 1-.2 1-.2 .47 0 .53 0 1 .2 1 .2 1 .1 1-.1 1-.2 1-.3 1-.1 .06 0 .94 .1 1 .3 1 .2 1 0 1-.1 1-.4 1-.3 .65-.1 .35 0 1 .3 1 .2 1-.5 1-2.3 1-5.3 1-7.2 1-4.6 .24-.2 .76 2 1 6.6 1 6.6 1 3.7 1 1.3 1 .3 1-.1 .83 0 .17 0 1 .1 1 .1 1 0 1 0 1-.3 1-.3 1-.3 .42 0 .58 .1 1 .3 1 .3 1 .2 1 0 1 0 1-.1 1-.1 .01 0 .99 .1 1 .1 1 0 1 0 1 0 1-.1 1-.1 .6-.1 .4 0 1 .1 1 .2 1 0 1-.1 1-.4 1-.4 1-.3 .19 0 .81 .1 1 .4 1 .4 1 .2 1-.1 1-.3 1-.3 .78-.1 .22 0 1 .1 1-.1 1-2.3 1-8.6 1-20.2 1-29.1 1-21.5 .37-2 .63 5.6 1 25.6 1 27.9 1 16.9 1 6.4 1 1.5 1 .1 .96-.1 .04 0 1 .1 1 .3 1 .2 1 .1 1 0 1 0 1-.1 .55 0 .45 0 1 0 1-.1 1-.7 1-2.5 1-5.3 1-6.8 1-3.8 .14-.1 .86 2.3 1 6.5 1 5.9 1 3.2 1 1 1-.1 1-.2 .73-.1 .27 0 1 .2 1 .4 1 .2 1-.1 1-.3 1-.5 1-.4 .32 0 .68 .1 1 .5 1 .4 1 .2 1-.1 1-.4 1-.6 .91-.2 .09 0 1 .3 1 .6 1 .4 1 .1 1-.1 1-.3 1-.2 .5-.1 .5 .1 1 .2 1 .3 1 .2 1-.1 1-.2 1-.2 1-.2 .09 0 .91 .1 1 .3 1 .2 1 .1 1 0 1-.1 1-.1 .68 0 .32 0 1 0 1 .2 1 0 1-.1 1-.3 1-.3 1-.3 .27 0 .73 .1 1 .3 1 .4 1 .2 1 0 1-.2 1-.1 .86-.1 .14 0 1 .1 1 .2 1 .1 1 0 1-.1 1-.1 1-.1 .45 0 .55 0 1 .1 1 .2 1 0 1 0 1 0 1-.1 1 0 .04 0 .96 0 1 .1 1 0 1 .1 1-.1 1 0 1-.1 .63 0 .37 0 1 0 1 .1 1 0 1-.1 1-.3 1-.4 1-.3 .22 0 .78 .1 1 .1 1-1.1 1-5.9 1-16.9 1-30.5 1-31.7 .81-10.5 .19 .6 1 20.6 1 33.6 1 24.9 1 8.9 1-3.6 1-10.1 1-8.1 .4-.9 .6 1.9 1 9.3 1 10 1 4 1-4.7 1-13.5 1-16.5 .99-7.6 .01 0 1 7.9 1 16.6 1 14.1 1 7 1 2.1 1 .1 1-.3 .58-.1 .42 0 1 .4 1 .5 1 .3 1 .1 1-.1 1-.1 1-.1 .17 0 .83 .1 1 .1 1 .1 1 .1 1-.1 1 0 1-.1 .76 0 .24 0 1 0 1 .1 1 0 1-.1 1-.3 1-.4 1-.3 .35 0 .65 .1 1 .3 1 .4 1 .2 1 .1 1-.2 1-.2 .94 0 .06 0 1 0 1 .1 1-.6 1-2.6 1-6.6 1-10.5 1-8.8 .53-1.5 .47 1.2 1 8.5 1 10.5 1 6.9 1 2.8 1 .7 1 0 1-.1 .12 0 .88 .1 1 .1 1 .2 1 0 1 0 1-.1 1 0 .71-.1 .29 0 1 .1 1 .1 1 0 1-.1 1-.3 1-.5 1-.3 .3 0 .7 .1 1 .4 1 0 1-1.4 1-4.6 1-8.6 1-9.5 .89-3.7 .11 .1 1 5.4 1 9.9 1 7.8 1 3.7 1 .9 1-.2 1-.3 .48-.1 .52 .1 1 .4 1 .4 1 .3 1-.1 1-.3 1-.4 1-.2 .07 0 .93 .1 1 .5 1 .3 1 .2 1 0 1-.1 1-.1 .66 0 .34 0 1 .1 1 .1 1 0 1-.1 1-.3 1-.3 1-.3 .25 0 .75 .1 1 .4 1 .3 1 .1 1-.1 1-.4 1-.4 .84-.1 .16 0 1 .3 1 .4 1 .3 1 0 1-.1 1-.3 1-.2 .43 0 .57 0 1 .2 1 .3 1 .1 1-.1 1-.4 1-.6 1-.2 .02 0 .98 .2 1 .5 1 .5 1 .1 1 0 1-.2 1-.1 .61-.1 .39 .1 1 .1 1 .2 1 .1 1-.2 1-.4 1-.5 1-.3 .2-.1 .8 .2 1 .5 1 .5 1 .2 1-.1 1-.4 1-.4 .79-.1 .21 0 1 .3 1 .4 1 .3 1 .1 1 0 1-.1 1 0 .38 0 .62 0 1 .1 1 0 1 .1 1-.1 1 0 1-.1 .97 0 .03 0 1 0 1 .1 1 0 1 0 1-.3 1-.3 1-.4 .56 0 .44 0 1 .3 1 0 1-1.1 1-4.5 1-9.5 1-12.3 1-7.1 .15-.1 .85 4.1 1 11.6 1 10.4 1 3.8 1-3.8 1-9.6 1-9.9 .74-2.9 .26 .4 1 7.2 1 11 1 8 1 3.6 1 1 1 0 1-.1 .33 0 .67 0 1 .2 1 .2 1 .1 1-.2 1-.3 1-.5 .92-.1 .08 0 1 .2 1 .4 1 .4 1 .1 1-.1 1-.1 1-.1 .51 0 .49 0 1 0 1-.6 1-3.3 1-10.4 1-21.4 1-26.7 1-14.5 .1-.1 .9 10.1 1 25.8 1 23.4 1 12.4 1 4.2 1 .8 1-.1 .69-.1 .31 0 1 .2 1 .2 1-.6 1-2.4 1-5.5 1-7.6 1-5.1 .28-.3 .72 1.9 1 6.9 1 7.1 1 4 1 1.5 1 .1 1-.1 .87-.1 .13 0 1 .1 1 .3 1 .1 1 0 1-.2 1-.3 1-.3 .46 0 .54 0 1 .3 1 .4 1 .1 1 0 1-.2 1-.3 1-.1 .05 0 .95 .1 1 .3 1 .2 1 0 1-.2 1-.3 1-.4 .64 0 .36 0 1 .2 1 .1 1-1.1 1-4.3 1-9.6 1-12.9 1-8.3 .23-.3 .77 3.6 1 12 1 11.8 1 6.6 1 2.2 1 .2 1-.3 .82-.1 .18 0 1 .2 1 0 1-2.1 1-8.3 1-19.8 1-29.2 1-22.5 .41-2.4 .59 5 1 25.2 1 28 1 15.8 1 1.6 1-8.6 1-11.8 1-5.7 1 5.7 1 12.2 1 10.4 1 5.2 1 1.6 1 0 1-.2 .59-.1 .41 0 1 .2 1-.2 1-2.6 1-9.1 1-19.4 1-25.3 1-15.3 .18-.4 .82 8 1 23.9 1 22.8 1 12.6 1 4.4 1 .9 1-.1 .77 0 .23 0 1 .1 1 .3 1 .1 1 0 1-.3 1-.4 1-.4 .36 0 .64 .1 1 .3 1 .2 1-1 1-3.5 1-6.8 1-7.8 .95-3.4 .05 0 1 4 1 8 1 6.5 1 3.2 1 .8 1-.2 1-.3 .54-.1 .46 0 1 .4 1 .4 1 .3 1 0 1-.3 1-.3 1-.2 .13 0 .87 .1 1 .4 1 .2 1 .2 1-.1 1-.2 1-.2 .72 0 .28 0 1 .1 1 .2 1 .2 1 0 1 0 1-.1 1-.1 .31 0 .69 0 1 .1 1 .1 1 0 1-.3 1-.4 1-.6 .9-.2 .1 0 1 .3 1 .6 1 .4 1 .1 1-.2 1-.4 1-.3 .49-.1 .51 .1 1 .3 1 .4 1 .2 1-.1 1-.3 1-.5 1-.3 .08 0 .92 .2 1 .4 1 0 1-1.4 1-4.2 1-7.2 1-6.8 .67-1.6 .33 .4 1 5.4 1 7.6 1 5.3 1 2.3 1 .4 1-.2 1-.2 .26 0 .74 0 1 .4 1 .3 1 .1 1-.2 1-.5 1-.5 .85-.2 .15 0 1 .4 1 .5 1 .4 1 0 1-.2 1-.5 1-.3 .44-.1 .56 .1 1 .4 1 .4 1 .3 1-.1 1-.2 1-.4 1-.1 .03 0 .97 .1 1 .4 1 .3 1 .1 1-.1 1-.2 1-.2 .62 0 .38 0 1 .1 1 .3 1 .1 1-.1 1-.1 1-.3 1-.2 .21 0 .79 .1 1 0 1-1.2 1-5.5 1-15.7 1-28.1 1-29 .8-9.4 .2 .6 1 19.2 1 31 1 23.5 1 11 1 3.2 1 .5 1-.1 .39 0 .61 0 1 .2 1 .3 1 0 1-.1 1-.3 1-.4 .98-.2 .02 0 1 .2 1 .3 1-.1 1-1.6 1-4.4 1-7 1-6.2 .57-1.2 .43 .7 1 5.6 1 7.3 1 4.8 1 1.8 1 .2 1-.4 1-.2 .16-.1 .84 .2 1 .5 1 .4 1 .2 1-.2 1-.4 1-.4 .75-.1 .25 0 1 .3 1 .4 1 .4 1 .1 1-.1 1-.2 1-.2 .34 0 .66 0 1 .2 1 .2 1 .1 1 0 1 0 1-.1 .93 0 .07 0 1 0 1 .1 1 0 1 0 1-.1 1-.2 1-.1 .52-.1 .48 .1 1 .1 1 .2 1 .1 1-.1 1-.2 1-.2 1-.2 .11 0 .89 .1 1 .3 1 .2 1 0 1-.1 1-.3 1-.3 .7-.1 .3 0 1 .2 1 .4 1 .2 1 0 1-.3 1-.5 1-.3 .29 0 .71 .1 1 .4 1 .4 1 .2 1-.2 1-.4 1-.5 .88-.1 .12 0 1 .2 1 .5 1 .4 1 .2 1 0 1-.1 1 0 .47-.1 .53 .1 1 0 1 .1 1 0 1-.2 1-.4 1-.4 1-.3 .06 0 .94 .2 1 .5 1 .4 1 .1 1-.2 1-.4 1-.4 .65-.1 .35 0 1 .2 1-.2 1-3.1 1-11 1-24.2 1-32.7 1-21.1 .24-.9 .76 9 1 30 1 29.5 1 15.3 1 1.4 1-7.5 1-9.2 .83-3.2 .17 .1 1 6 1 9.7 1 6.3 1-1.4 1-10.7 1-17.4 1-13.7 .42-1.5 .58 2.9 1 15.2 1 17.2 1 10.6 1 4 1 .8 1-.3 1-.2 .01 0 .99 .2 1 .5 1 .4 1 .1 1-.2 1-.5 1-.3 .6-.1 .4 0 1 .4 1 .4 1 .3 1 0 1-.3 1-.4 1-.3 .19 0 .81 .2 1 .3 1 .4 1 .1 1-.2 1-.5 1-.4 .78-.2 .22 0 1 .4 1 .5 1 .3 1 .1 1-.1 1-.2 1-.2 .37 0 .63 .1 1 .1 1-.1 1-1.4 1-4.3 1-8.4 1-9.7 .96-4.2 .04 0 1 4.9 1 9.8 1 8.1 1 4 1 1.1 1 0 1-.2 .55-.1 .45 .1 1 .2 1 .3 1 .2 1-.1 1-.3 1-.5 1-.2 .14 0 .86 .1 1 .4 1 0 1-1.4 1-4.2 1-7.4 1-7.4 .73-2 .27 .3 1 5.3 1 8.1 1 5.8 1 2.5 1 .5 1-.3 1-.2 .32-.1 .68 .1 1 .4 1 .4 1 .2 1-.2 1-.4 1-.5 .91-.2 .09 0 1 .3 1 .5 1 .4 1 .2 1-.1 1-.2 1-.1 .5 0 .5 0 1 .1 1 .2 1 .1 1-.1 1-.3 1-.4 1-.1 .09 0 .91 .1 1 .3 1 .3 1 .1 1-.1 1-.4 1-.4 .68-.1 .32 .1 1 .1 1-.3 1-3.1 1-11.1 1-24.9 1-34 1-22.8 .27-1.2 .73 8.7 1 31.1 1 31.5 1 18.2 1 6.7 1 1.6 1 .1 .86 0 .14 0 1 .1 1 .2 1 .1 1 0 1-.1 1-.2 1-.1 .45-.1 .55 .1 1 .1 1 .2 1 .1 1-.2 1-.3 1-.4 1-.3 .04 0 .96 .2 1 .5 1 .3 1 .1 1-.2 1-.4 1-.4 .63-.1 .37 0 1 .4 1 .4 1 .3 1 0 1-.2 1-.3 1-.1 .22 0 .78 0 1 .3 1 0 1-.9 1-2.8 1-5.1 1-5.3 .81-1.8 .19 .1 1 3.5 1 5.6 1 4.3 1 1.9 1 .4 1-.4 1-.3 .4 0 .6 .1 1 .3 1 .5 1 .2 1-.1 1-.4 1-.4 .99-.2 .01 0 1 .2 1 .5 1 .3 1 .2 1-.1 1-.1 1-.2 .58 0 .42 0 1 .1 1 .2 1 .1 1-.1 1-.3 1-.3 1-.2 .17 0 .83 .1 1 .3 1 .3 1 .1 1-.2 1-.5 1-.4 .76-.2 .24 .1 1 .3 1 .5 1 .3 1 0 1-.3 1-.5 1-.3 .35 0 .65 .1 1 .4 1 .5 1 .2 1 0 1-.3 1-.3 .94-.1 .06 0 1 .1 1 .3 1 .3 1 0 1-.1 1-.3 1-.2 .53-.1 .47 .1 1 .2 1-.1 1-1.2 1-4.3 1-9.2 1-11.5 1-6.4 .12-.1 .88 4.2 1 11.1 1 10.1 1 5.5 1 1.8 1 .3 1 0 .71-.1 .29 0 1 .2 1 .1 1 .1 1 0 1-.1"/>
<path stroke="#2a9a3c" d="M24.50 -0.0l1-.1 1-.2 1-.1 .85-.1 .15 0 1 .1 1 0 1-.6 1-2.6 1-6.3 1-9.4 1-7.4 .44-.9 .56 1.5 1 8 1 9.2 1 5.8 1 2.2 1 .4 1-.1 1-.1 .03 0 .97 .1 1 .2 1 .2 1 0 1-.2 1-.5 1-.4 .62-.1 .38 .1 1 .3 1 .5 1 .3 1 .1 1-.2 1-.1 1-.2 .21 0 .79 .1 1 .2 1 .1 1 0 1-.2 1-.5 1-.5 .8-.1 .2 0 1 .3 1 .3 1-.5 1-3.1 1-7.6 1-11.2 1-8.4 .39-.8 .61 2 1 9.7 1 10.8 1 6.6 1 2.5 1 .5 1 0 .98-.1 .02 0 1 .1 1 .1 1 .2 1-.1 1-.2 1-.4 1-.3 .57-.1 .43 .1 1 .3 1 .4 1 .2 1 0 1-.2 1-.3 1-.2 .16 0 .84 .1 1 .3 1 .3 1 .1 1 0 1-.1 1-.1 .75-.1 .25 0 1 .1 1 .1 1 .1 1-.1 1-.2 1-.4 1-.3 .34 0 .66 .1 1 .3 1 .4 1 .2 1 0 1-.1 1-.1 .93 0 .07 0 1 0 1 .1 1 .1 1-.1 1-.2 1-.5 1-.3 .52-.1 .48 0 1 .4 1 .4 1 .3 1-.1 1-.3 1-.4 1-.2 .11 0 .89 .2 1 .4 1 .3 1 .1 1-.2 1-.4 1-.4 .7-.1 .3 0 1 .3 1 .5 1 .3 1 0 1-.2 1-.4 1-.3 .29 0 .71 .1 1 .3 1 .4 1 .1 1 0 1-.2 1-.2 .88-.1 .12 0 1 .1 1 .1 1-.5 1-2.4 1-5.9 1-9.1 1-7.4 .47-1 .53 1.3 1 7.6 1 9 1 5.8 1 2.2 1 .4 1-.1 1-.2 .06-0 .94 .1 1 .1 1-.9 1-4 1-10.8 1-18 1-16.7 .65-3.9 .35 1.2 1 13.6 1 19 1 13.2 1 5.8 1 1.6 1 .2 1-0 .24-0 .76-0 1 .1 1 .1 1-0 1-.3 1-.4 1-.5 .83-.1 .17-0 1 .3 1 .5 1 .3 1 .2 1-0 1-.1 1-0 .42-0 .58-0 1-0 1 .1 1-0 1-0 1-.1 1-.2 1-.1 .01-0 .99 .1 1-0 1-.7 1-3.2 1-8.1 1-13.2 1-11.8 .6-2.4 .4 1.1 1 10.3 1 13.7 1 9.2 1 3.9 1 .7 1-.3 1-.3 .19-0 .81 .2 1 .5 1 .4 1 .2 1-.1 1-.2 1-.3 .78-.1 .22-0 1 .2 1 .3 1 .2 1 .1 1-.2 1-.2 1-.2 .37-0 .63-0 1 .2 1 .3 1-0 1-.1 1-.4 1-.5 .96-.2 .04-0 1 .2 1 .4 1-.3 1-2.2 1-5.8 1-9.4 1-8.2 .55-1.4 .45 1 1 7.6 1 9.5 1 6.4 1 2.5 1 .6 1-.2 1-.1 .14-0 .86 .1 1 .2 1 .3 1 .1 1-.2 1-.3 1-.3 .73-0 .27-0 1 .2 1 .3 1 .2 1-0 1-.3 1-.4 1-.3 .32-.1 .68 .1 1 .4 1 .4 1 .2 1-.1 1-.4 1-.4 .91-.2 .09-0 1 .3 1 .4 1 .3 1 .1 1-.2 1-.4 1-.3 .5-0 .5-0 1 .4 1 .3 1 .2 1-0 1-.1 1-.3 1-.1 .09-0 .91 .1 1 .1 1-.3 1-2 1-5.5 1-9.3 1-8.8 .68-2.2 .32 .5 1 6.9 1 9.7 1 6.1 1-0 1-6 1-9.2 1-6.3 .27-.3 .73 2.4 1 8.6 1 8.7 1 4.9 1 1.7 1-0 1-.3 .86-.2 .14-0 1 .3 1 .5 1 .3 1 .1 1-.2 1-.4 1-.3 .45-0 .55-0 1 .4 1 .3 1 .2 1-.1 1-.3 1-.4 1-.2 .04-0 .96 .1 1 .5 1 .3 1 .2 1-0 1-.2 1-.1 .63-0 .37-0 1 .1 1 .1 1 .1 1-.1 1-.2 1-.2 1-.2 .22-0 .78 .1 1 .2 1 .3 1-0 1-.1 1-.4 1-.4 .81-.2 .19-0 1 .3 1 .4 1 .3 1 .1 1-.2 1-.3 1-.3 .4-0 .6 .1 1 .3 1 .3 1 .2 1-0 1-.1 1-.1 .99-.1 .01-0 1 .1 1 .1 1 .1 1-0 1-.2 1-.3 1-.2 .58-0 .42-0 1 .2 1 .3 1 .1 1-.1 1-.3 1-.5 1-.3 .17-0 .83 .1 1 .5 1 .4 1 .2 1-0 1-.1 1-.2 .76-0 .24-0 1 .1 1-0 1-.9 1-3.2 1-7.4 1-10.7 1-7.8 .35-.6 .65 2.2 1 9.4 1 9.8 1 4.8 1-1.6 1-6.8 1-8.4 .94-3.5 .06-0 1 4.4 1 8.6 1 7.1 1 3.4 1 .9 1-.1 1-.3 .53-.1 .47 .1 1 .3 1 .4 1 .2 1-.1 1-.3 1-.5 1-.3 .12-0 .88 .2 1 .4 1 .5 1 .2 1-0 1-.2 1-.1 .71-0 .29-0 1 .1 1-.1 1-.9 1-3.3 1-7.4 1-10.4 1-7.1 .3-.5 .7 2.4 1 9.4 1 9.7 1 5.7 1 2 1 .4 1-.1 .89 0 .11 0 1 .1 1 .1 1 .2 1 0 1-.1 1-.3 1-.1 .48-.1 .52 .1 1 .2 1 .2 1 .1 1-.1 1-.2 1-.4 1-.1 .07 0 .93 .1 1 .3 1 .3 1 .1 1 0 1-.2 1-.1 .66 0 .34 0 1 .1 1 .1 1 .1 1 0 1-.2 1-.2 1-.2 .25 0 .75 .1 1 .2 1 .2 1 .1 1 0 1-.2 1-.1 .84-.1 .16 0 1 .1 1 .2 1 .1 1-.1 1-.4 1-.5 1-.4 .43-.1 .57 .1 1 .4 1 .2 1-1.3 1-4.7 1-9.6 1-11.4 1-5.5 .02 0 .98 5.1 1 11.3 1 9.8 1 5 1 1.6 1 .3 1 0 .61 0 .39 0 1 .1 1 .1 1 0 1-.2 1-.4 1-.5 1-.3 .2 0 .8 .1 1 .5 1 .5 1 .2 1 .1 1-.1 1-.1 .79 0 .21 0 1 0 1 .1 1 .1 1 0 1-.2 1-.2 1-.2 .38 0 .62 0 1 .2 1 .3 1 0 1-.2 1-.4 1-.5 .97-.3 .03 0 1 .3 1 .4 1-.1 1-1.8 1-5.1 1-8.1 1-7.1 .56-1.3 .44 .8 1 6.6 1 8.3 1 5.5 1 2.2 1 .3 1-.3 1-.2 .15-0 .85 .1 1 .4 1 .4 1 .1 1-0 1-.3 1-.2 .74-.1 .26-0 1 .2 1 .3 1 .2 1-0 1-.1 1-.2 1-.1 .33-0 .67 .1 1-0 1-.2 1-1.6 1-4.9 1-9.3 1-10.4 .92-4.2 .08-0 1 5.7 1 10.6 1 8.7 1 4.2 1 1.3 1 .2 1-0 .51-.1 .49 .1 1 .1 1 .1 1-0 1-0 1-.1 1-.2 1-.1 .1-0 .9 .1 1-.1 1-.9 1-4 1-10.6 1-18.2 1-17.5 .69-4.4 .31 .9 1 13.5 1 19.4 1 13.9 1 6.1 1 1.8 1 .3 1-0 .28-.1 .72 .1 1-0 1 .1 1-0 1-.1 1-.2 1-.3 .87-.1 .13-0 1 .2 1 .2 1 .2 1-0 1-.3 1-.4 1-.4 .46-0 .54 .1 1 .3 1 .1 1-1.2 1-4.4 1-8.9 1-10.9 1-5.5 .05-0 .95 4.6 1 10.6 1 8.8 1 2.9 1-3.5 1-8.2 1-7.8 .64-1.8 .36 .6 1 6.5 1 9 1 6.2 1 2.6 1 .6 1-.3 1-.2 .23-0 .77 .1 1 .4 1 .3 1 .1 1-0 1-.3 1-.3 .82-0 .18-0 1 .1 1 .3 1 .2 1 .1 1-.1 1-.1 1-.1 .41-0 .59-0 1 .1 1 .2 1-0 1-.1 1-.3 1-.4 1-.1 1 .1 1 .4 1 .3 1 .1 1-.2 1-.2 1-.2 .59-.1 .41 .1 1 .2 1 .2 1 .1 1-0 1-.3 1-.5 1-.2 .18-0 .82 .1 1 .4 1 .4 1 .1 1-.2 1-.5 1-.4 .77-.2 .23-0 1 .3 1 .3 1-.8 1-4 1-9.5 1-13.7 1-10 .36-.9 .64 2.7 1 12.1 1 13.1 1 7.8 1 2.9 1 .5 1-.2 .95-.1 .05-0 1 .2 1 .3 1 .3 1-0 1-.2 1-.4 1-.4 .54-0 .46-0 1 .3 1 .5 1 .2 1-0 1-.2 1-.2 1-.2 .13-0 .87 .1 1 .3 1 .2 1 .1 1-.1 1-.1 1-.2 .72-0 .28-0 1 .1 1 .2 1 .1 1-.1 1-.3 1-.4 1-.3 .31-0 .69 .1 1 .2 1-.4 1-3 1-9.4 1-17.7 1-19.5 .9-7.7 .1 .1 1 11 1 20.2 1 16.1 1 7.8 1 2.3 1 .1 1-.2 .49-.1 .51 .1 1 .3 1-0 1-1.5 1-5.3 1-11 1-13.6 1-7.2 .08-0 .92 5.4 1 13.2 1 11.8 1 6.2 1 1.9 1-0 1-.3 .67-.1 .33-0 1 .4 1 .4 1 .3 1 .1 1-.3 1-.4 1-.2 .26-.1 .74 .2 1 .3 1 .4 1 .1 1-.1 1-.3 1-.4 .85-.1 .15-0 1 .2 1 .4 1 .3 1-0 1-.1 1-.3 1-.2 .44-0 .56-0 1 .2 1-.2 1-1.8 1-6 1-12.1 1-14.4 1-7.1 .03-0 .97 6.3 1 14.3 1 12.4 1 6.3 1 2 1 .1 1-.2 .62-.1 .38-0 1 .3 1 .4 1 .2 1 .1 1-.1 1-.1 1-0 .21-0 .79-0 1 .1 1 .1 1-0 1-.1 1-.3 1-.2 .8-.1 .2-0 1 .2 1 .3 1 .1 1-0 1-.3 1-.4 1-.4 .39-0 .61 .1 1 .3 1 .1 1-1.4 1-4.8 1-9.5 1-11 .98-5 .02-0 1 5.4 1 11.1 1 9.3 1 4.6 1 1.3 1-0 1-.2 .57-.1 .43 .1 1 .2 1 .4 1 .2 1 .1 1-.2 1-.1 1-.1 .16-.1 .84 .1 1 .2 1 .1 1 .1 1-.1 1-.3 1-.2 .75-.1 .25-0 1 .2 1 .3 1 .1 1-0 1-.1 1-.3 1-.2 .34-0 .66-0 1 .3 1 .2 1 .1 1-.1 1-.3 1-.3 .93-.2 .07-0 1 .2 1 .2 1-.7 1-3.6 1-9.1 1-14.2 1-12 .52-1.9 .48 1.6 1 11.7 1 14 1 8.1 1-.1 1-7.2 1-10.2 1-5.6 .11-.1 .89 3.8 1 10 1 9.1 1 4.8 1 1.4 1-.1 1-.4 .7-.1 .3-0 1 .3 1 .1 1-1.6 1-6.6 1-14.8 1-20.7 1-14.1 .29-.9 .71 5 1 18.7 1 19.3 1 11.2 1 4 1 .8 1-.2 .88-.1 .12-0 1 .2 1 .4 1 .3 1-0 1-.3 1-.4 1-.3 .47-.1 .53 .1 1 .3 1 .5 1 .2 1-0 1-.2 1-.2 1-.1 .06-0 .94 .1 1 .2 1 .2 1 .1 1-.2 1-.3 1-.2 .65-.1 .35-0 1 .3 1 .2 1 .2 1-.1 1-.4 1-.5 1-.3 .24-.1 .76 .2 1 .5 1 .5 1 .2 1 .1 1-0 1-.1 .83-.1 .17-0 1 .1 1 .1 1-0 1-0 1-.3 1-.3 1-.2 .42-.1 .58 .1 1 .3 1 .3 1 .2 1-0 1-.1 1-.2 1-0 .01-0 .99-0 1 .2 1 .1 1-.1 1-.2 1-.4 1-.4 .6-.1 .4-0 1 .4 1 .4 1 .3 1-.1 1-.4 1-.5 1-.3 .19-0 .81 .1 1 .4 1-0 1-1.7 1-5.2 1-9.4 1-9.7 .78-3 .22 .2 1 6.6 1 10.2 1 7.1 1 .9 1-5 1-8.5 1-6.5 .37-.6 .63 1.7 1 7.7 1 8.4 1 5.1 1 1.9 1 .2 1-.3 .96-.1 .04-0 1 .2 1 .3 1 .3 1-0 1-.1 1-.3 1-.3 .55-.1 .45 .1 1 .2 1-0 1-1.1 1-4.1 1-8.8 1-11.3 1-6.4 .14-.1 .86 3.9 1 10.7 1 10 1 5.3 1 1.8 1 .2 1-.2 .73-.1 .27-0 1 .2 1 .3 1 .2 1-0 1-.2 1-.4 1-.3 .32-0 .68 .1 1 .3 1 .4 1 .1 1-.1 1-.4 1-.5 .91-.2 .09-0 1 .3 1 .5 1 .3 1 .1 1-.1 1-.3 1-.3 .5-0 .5-0 1 .3 1 .3 1 .1 1-0 1-.2 1-.2 1-.2 .09-0 .91 .1 1 .3 1 .2 1-0 1-.3 1-.4 1-.5 .68-.1 .32-0 1 .4 1 .5 1 .4 1 .1 1-.1 1-.2 1-.1 .27-0 .73-0 1 .2 1 .1 1 .1 1-.2 1-.3 1-.4 .86-.2 .14-0 1 .3 1 .4 1 .3 1-0 1-.1 1-.2 1-.2 .45-0 .55-0 1 .2 1 .2 1 .1 1-.1 1-.3 1-.5 1-.2 .04-0 .96 .2 1 .4 1 .4 1 .2 1-0 1-.1 1-.1 .63-.1 .37-0 1 .1 1-.1 1-1.1 1-3.8 1-8.2 1-11 1-6.9 .22-.3 .78 3.2 1 10.2 1 10 1 5.6 1 1.9 1 .3 1-.1 .81-.1 .19-0 1 .2 1 .2 1 .2 1-0 1-0 1-.1 1-.1 .4-0 .6-0 1 .1 1 .1 1-0 1-0 1-.2 1-.2 .99-.1 .01-0 1 .1 1 .2 1 .2 1-0 1-.1 1-.3 1-.2 .58-.1 .42 .1 1 .2 1 .2 1 .2 1-0 1-0 1-.1 1-0 .17-0 .83-0 1 .1 1-0 1-0 1-.1 1-.3 1-.2 .76-.1 .24-0 1 .2 1 .3 1 .1 1 .1 1-.2 1-.3 1-.2 .35-0 .65 .1 1 .2 1-.1 1-1.1 1-3.8 1-7.2 1-8.2 .94-3.5 .06-0 1 4.3 1 8.2 1 6.1 1 .6 1-6 1-10.9 1-9.3 .53-1.6 .47 1.2 1 9.1 1 11.2 1 7.4 1 3 1 .7 1-.1 1-.1 .12-0 .88 .1 1 .2 1 .2 1-0 1-.1 1-.1 1-.2 .71-0 .29-0 1 .1 1-0 1-.7 1-2.7 1-6.2"/>
<path stroke="#3a3aee" d="M24.50 -2.4l1-5.4 1-9.7 1-10.5 .85-3.7 .15 .1 1 6.4 1 10.9 1 8.6 1 4 1 1 1-0 1-.2 .44-0 .56-0 1 .3 1 .3 1 .2 1-0 1-.2 1-.1 1-.1 .03-0 .97 .1 1 .1 1 .2 1-.1 1-.2 1-.4 1-.4 .62-.1 .38-0 1 .3 1 .5 1 .3 1-0 1-.1 1-.3 1-.1 .21-.1 .79 .1 1 .2 1-.2 1-1.6 1-4.8 1-8.7 1-8.9 .8-2.9 .2 .2 1 5.9 1 9.6 1 7.2 1 3.3 1 1 1 .1 1-.1 .39-0 .61-0 1 .2 1 .1 1-0 1-.2 1-.4 1-.4 .98-.2 .02-0 1 .2 1 .5 1 .3 1 .1 1-.2 1-.5 1-.4 .57-0 .43-0 1 .4 1 .4 1 .3 1-0 1-.3 1-.4 1-.2 .16-0 .84 .1 1 .4 1 .3 1 .1 1-.1 1-.2 1-.3 .75-.1 .25 .1 1 .1 1 .3 1 .2 1-0 1-.2 1-.3 1-.3 .34-0 .66 .1 1 .3 1 .3 1 .2 1-0 1-.2 1-.1 .93-.1 .07-0 1 .1 1-0 1-.7 1-3.1 1-7.6 1-11.9 1-10.1 .52-1.6 .48 1.4 1 9.8 1 12 1 7.8 1 3.2 1 .7 1-.1 1-.1 .11-0 .89 .1 1 .2 1 .2 1-0 1-.1 1-.4 1-.3 .7-.1 .3-0 1 .3 1 .4 1 .2 1-.1 1-.3 1-.4 1-.3 .29-0 .71 .1 1 .3 1-.1 1-2.1 1-6.4 1-12.1 1-13.2 .88-5 .12 .1 1 7.7 1 13.7 1 10.9 1 5.2 1 1.5 1 .1 1-.2 .47-.1 .53 .1 1 .2 1 .3 1 .2 1-0 1-.2 1-.2 1-.1 .06-0 .94 .1 1 .2 1 .1 1 .1 1-.2 1-.3 1-.3 .65-.1 .35 .1 1 .2 1 .3 1 .2 1 .1 1-.1 1-.1 1-.1 .24-0 .76 .1 1-0 1-.4 1-1.8 1-5.4 1-9.9 1-10.3 .83-3.6 .17 .2 1 6.5 1 11 1 8.4 1 3.9 1 1.1 1 .1 1-.2 .42-0 .58-0 1 .2 1-.3 1-1.9 1-6.3 1-12.4 1-14.6 1-7 .01 0 .99 6.7 1 14.6 1 12.5 1 6.4 1 2 1 .3 1-0 .6-.1 .4-0 1 .1 1-0 1-1.1 1-3.8 1-8.1 1-10.8 1-6.5 .19-.2 .81 3.3 1 10.1 1 9.7 1 5.3 1 1.9 1 .3 1-.1 .78-.1 .22-0 1 .2 1 .2 1 .1 1-0 1-.2 1-.3 1-.2 .37-0 .63-0 1 .2 1-.1 1-1.6 1-5.1 1-9.8 1-11.3 .96-4.9 .04 0 1 5.7 1 11.4 1 9.5 1 4.8 1 1.5 1 .3 1-0 .55-0 .45-0 1 .1 1-0 1-0 1-.1 1-.3 1-.5 1-.2 .14-0 .86 .1 1 .3 1-.2 1-2.1 1-6.1 1-10.7 1-10.6 .73-2.9 .27 .4 1 7.7 1 11.3 1 6.9 1-1.3 1-10.4 1-16.1 1-11.4 .32-.8 .68 3.6 1 14.6 1 15.3 1 9 1 3.4 1 .7 1-.1 .91-0 .09-0 1 .1 1-0 1-1.1 1-4.2 1-10.4 1-16.1 1-13.3 .5-2 .5 2 1 13.3 1 15.8 1 8.8 1-.5 1-8.7 1-12 1-6.5 .09-0 .91 4.7 1 11.9 1 10.6 1 5.6 1 1.7 1 .1 1-.2 .68-.1 .32-0 1 .3 1 .4 1 .2 1-0 1-.3 1-.4 1-.2 .27-0 .73 .1 1 .2 1-.1 1-1.9 1-5.9 1-11 1-11.9 .86-4.3 .14 .1 1 7.1 1 12.4 1 9.7 1 4.6 1 1.1 1-.2 1-.4 .45-0 .55 .1 1 .3 1-0 1-2 1-6.9 1-14.1 1-17 1-8.4 .04-0 .96 7.3 1 16.6 1 13.7 1 4.3 1-5.9 1-13.3 1-12.6 .63-2.8 .37 1 1 10.7 1 14.5 1 10 1 4.2 1 .9 1-.2 1-.3 .22-0 .78 .2 1 .4 1 .4 1 .2 1-.2 1-.4 1-.5 .81-.2 .19-0 1 .3 1 .6 1 .3 1 .1 1-.3 1-.4 1-.4 .4-0 .6 .1 1 .4 1 .4 1 .2 1 .1 1-.1 1-.1 .99-.1 .01-0 1 .1 1-0 1-.6 1-2.5 1-6.4 1-10.3 1-9.1 .58-1.8 .42 .9 1 8.2 1 10.6 1 7.1 1 3 1 .5 1-.2 1-.2 .17-0 .83 .1 1 .2 1-.4 1-2.8 1-8.2 1-14.5 1-14.6 .76-4.3 .24 .5 1 10.2 1 15.8 1 11.7 1 5.3 1 1.6 1 .3 1-0 .35-0 .65-0 1 .1 1-0 1-0 1-.2 1-.5 1-.5 .94-.2 .06-0 1 .2 1 .6 1 .4 1 .1 1-.2 1-.3 1-.4 .53-0 .47-0 1 .3 1-0 1-1.2 1-4.6 1-9.7 1-12.2 1-6.8 .12-.1 .88 4.4 1 11.6 1 10.1 1 2.8 1-5.9 1-13.1 1-13.2 .71-3.5 .29 .6 1 10 1 14.6 1 10.5 1 4.7 1 1.3 1 .2 1-.1 .3-0 .7-0 1 .2 1 .1 1-0 1-0 1-.2 1-.2 .89-0 .11-0 1-0 1 .1 1-.8 1-3.3 1-8.1 1-12.5 1-10.1 .48-1.4 .52 1.7 1 10.4 1 12.3 1 7.9 1 3.1 1 .7 1-.1 1-.1 .07-0 .93 .1 1 .2 1 .2 1 .1 1-0 1-.2 1-.1 .66-0 .34-0 1-0 1-.2 1-1.6 1-5.7 1-12.6 1-17 1-11.2 .25-.5 .75 4.6 1 15.5 1 15.1 1 6.6 1-3.3 1-11.2 1-12.7 .84-4.5 .16 .2 1 7.9 1 13.3 1 9.3 1 .8 1-8.3 1-14.5 1-11.4 .43-1.4 .57 2.4 1 12.6 1 14.4 1 8.9 1 3.4 1 .6 1-.3 1-.3 .02-0 .98 .3 1 .3 1-.5 1-3 1-8.4 1-13.7 1-12.4 .61-2.6 .39 1.1 1 10.6 1 13.9 1 8 1-1.7 1-11.3 1-16.2 1-10.2 .2-.3 .8 5 1 15.4 1 14.9 1 8.3 1 2.8 1 .4 1-.2 .79-.1 .21-0 1 .2 1 .1 1-1.1 1-4.8 1-11.4 1-16.5 1-12.3 .38-1.2 .62 3.1 1 14.4 1 15.4 1 7.7 1-2 1-10.3 1-12.8 .97-5.7 .03-0 1 6.4 1 13.1 1 10.9 1 5.4 1 1.6 1-.1 1-.3 .56-.1 .44 .1 1 .3 1 .5 1 .3 1 .1 1-.1 1-.2 1-.1 .15-0 .85 .1 1 .1 1 .2 1-0 1-.2 1-.4 1-.4 .74-.1 .26-0 1 .3 1 .2 1-.6 1-2.9 1-7 1-9.9 1-7 .33-.5 .67 2.1 1 8.8 1 9.3 1 5.5 1 2 1 .1 1-.3 .92-.1 .08-0 1 .2 1 .4 1 .3 1 .1 1-.1 1-.3 1-.2 .51-0 .49-0 1 .2 1 .3 1 .1 1-.1 1-.4 1-.5 1-.2 .1-0 .9 .2 1 .4 1 .4 1 .2 1-.1 1-.3 1-.3 .69-.1 .31-0 1 .3 1 .3 1 .2 1 .1 1-.1 1-.2 1-.2 .28-0 .72 .1 1 .1 1-.3 1-1.8 1-5.4 1-10.1 1-10.9 .87-4.1 .13 .1 1 6.4 1 11.2 1 7.9 1 .4 1-8.2 1-14 1-11.5 .46-1.5 .54 2.1 1 12.1 1 14.2 1 8.9 1 3.5 1 .8 1-.2 1-.1 .05-0 .95 .1 1 .3 1 .3 1 .1 1-0 1-.1 1-.1 .64-0 .36-0 1 .1 1 .1 1-0 1-.1 1-.2 1-.3 1-.1 .23-.1 .77 .1 1 .3 1 .3 1 .1 1-0 1-.1 1-.2 .82-0 .18-0 1 .1 1 .1 1 .1 1-0 1-.2 1-.3 1-.3 .41-0 .59 .1 1 .2 1 .3 1 .1 1-0 1-.3 1-.3 1-.1 1 .1 1 .3 1 .3 1-0 1-.1 1-.3 1-.3 .59-.1 .41 .1 1 .2 1 .3 1 .2 1-.1 1-.3 1-.5 1-.3 .18-0 .82 .1 1 .4 1-.1 1-1.9 1-5.9 1-10.4 1-10.6 .77-3.2 .23 .3 1 7.3 1 11.4 1 8.5 1 3.8 1 .9 1-.2 1-.4 .36-0 .64 .1 1 .4 1 .5 1 .2 1-0 1-.2 1-.3 .95-.2 .05-0 1 .2 1 .3 1 .2 1-0 1-.1 1-.4 1-.2 .54-.1 .46-0 1 .2 1-.1 1-1.9 1-6.7 1-13.9 1-17.7 1-10.1 .13-.1 .87 6.3 1 17 1 15.6 1 8.4 1 2.8 1 .2 1-.3 .72-.1 .28-0 1 .4 1 .4 1 .4 1-0 1-.1 1-.2 1-.2 .31-0 .69-0 1 .3 1 .2 1 .1 1-.1 1-.2 1-.3 .9-.1 .1-0 1 .2 1 .2 1 .2 1-0 1-.3 1-.6 1-.4 .49-0 .51-0 1 .5 1 .5 1 .3 1 .1 1-.1 1-.1 1-0 .08-0 .92-0 1 .1 1 .1 1-0 1-.2 1-.4 1-.3 .67-.1 .33-0 1 .3 1 .1 1-.9 1-3.7 1-8.3 1-11.5 1-7.5 .26-.4 .74 3 1 10.3 1 9.9 1 3.1 1-6.1 1-14.7 1-16.2 .85-5.8 .15 .2 1 9.9 1 16.9 1 12.3 1 2.5 1-7 1-13.2 1-10.6 .44-1.3 .56 2.1 1 11.6 1 13.3 1 8.3 1 3.2 1 .5 1-.2 1-.2 .03-0 .97 .2 1 .3 1-.4 1-2.6 1-7 1-11.5 1-10.5 .62-2.2 .38 .9 1 8.9 1 12 1 8.2 1 3.5 1 .9 1-0 1-.2 .21-0 .79 .1 1 .2 1 .2 1-0 1-.2 1-.5 1-.5 .8-.2 .2-0 1 .3 1 .4 1-.6 1-3.3 1-7.9 1-11.8 1-8.8 .39-.9 .61 2.1 1 10.3 1 11.3 1 6.9 1 2.5 1 .5 1-.2 .98-.1 .02-0 1 .2 1 .3 1 .2 1-0 1-.3 1-.5 1-.4 .57-.1 .43 .1 1 .3 1 .3 1-1 1-4 1-8.7 1-11.3 1-6.6 .16-.1 .84 3.7 1 10.5 1 9.3 1 2.1 1-7 1-15.3 1-15.7 .75-4.6 .25 .5 1 11.2 1 17.2 1 12.6 1 5.7 1 1.5 1-0 1-.3 .34-0 .66 .1 1 .3 1 .4 1 .1 1-0 1-.2 1-.2 .93-.1 .07-0 1 .1 1 .3 1 .1 1-0 1-.3 1-.4 1-.4 .52-.1 .48-0 1 .4 1 .5 1 .3 1-0 1-.1 1-.3 1-.1 .11-0 .89 .1 1 .2 1 .2 1 .1 1-.2 1-.2 1-.3 .7-.1 .3-0 1 .3 1 .2 1 .2 1-0 1-.2 1-.3 1-.2 .29-0 .71-0 1 .3 1 .3 1 .1 1-.1 1-.4 1-.4 .88-.2 .12-0 1 .2 1 .3 1-.8 1-3.7 1-9.4 1-14.3 1-11.6 .47-1.6 .53 2 1 12 1 13.8 1 7.3 1-1.6 1-9.7 1-12.7 1-6.7 .06-0 .94 5.4 1 12.7 1 11.2 1 5.8 1 1.9 1 .2 1-.1 .65-.1 .35-0 1 .2 1 .3 1 .1 1-0 1-.2 1-.3 1-.3 .24-0 .76 .1 1 .3 1 .3 1 .1 1-.2 1-.4 1-.4 .83-.2 .17-0 1 .3 1 .5 1 .3 1 .2 1-.1 1-.2 1-.2 .42-0 .58-0 1 .1 1-.1 1-1.3 1-4.4 1-8.6 1-10.2 1-4.9 .01-0 .99 4.7 1 10.2 1 8.7 1 4.4 1 1.4 1-0 1-.1 .6-.1 .4-0 1 .2 1-.1 1-1.6 1-5.5 1-11.9 1-15.7 1-9.5 .19-.3 .81 4.9 1 14.7 1 14.1 1 7.8 1 2.7 1 .5 1-0 .78-.1 .22-0 1 .2 1 .1 1 .2 1-.1 1-.1 1-.4 1-.2 .37-0 .63 .1 1 .2 1 .3 1 .1 1-.2 1-.4 1-.5 .96-.3 .04-0 1 .3 1 .4 1-.3 1-2.6 1-6.8 1-10.8 1-9.4 .55-1.7 .45 1.1 1 8.8 1 11.1 1 7.3 1 2.9 1 .5 1-.3 1-.2 .14-0 .86 .1 1 .5 1 .4 1 .1 1-0 1-.2 1-.2 .73-.1 .27-0 1 .2 1 .2 1 .2 1-0 1-.2 1-.2 1-.1 .32-0 .68-0 1 .2 1 .2 1 .1 1-.1 1-.1 1-.2 .91-.1 .09-0 1 .1 1-0 1-.9 1-3.9 1-9.6 1-14.8 1-12.3 .5-1.9 .5 1.9 1 12.3 1 14.8 1 9.6 1 3.8 1 .8 1-.2 1-.2 .09-0 .91 .2 1 .3 1 .3 1 .1 1-.2 1-.4 1-.4 .68-.1 .32-0 1 .3 1 .5 1 .3 1 .1 1-0 1-.1 1-.1 .27-0 .73 .1 1-0 1-.4 1-1.9 1-5.4 1-10 1-10.7 .86-3.9 .14 .1 1 6.4 1 11 1 7.7 1 .2 1-8.2 1-14.1 1-11.4 .45-1.4 .55 2.2 1 12.2 1 14.1 1 8.9 1 3.4 1 .7 1-.1 1-.2 .04-0 .96 .2 1 .1 1-.7 1-3.5 1-9.3 1-15.5 1-14.3 .63-3.1 .37 1.1 1 12 1 16.2 1 11.2 1 4.8 1 1.2 1 .1 1-.1 .22-0 .78-0 1 .2 1 .2 1 .1 1-0 1-0 1-.1 .81-0 .19-0 1-0 1-.1 1-.8 1-3.2 1-7.4 1-10.9 1-8.2 .4-.9 .6 1.9 1 9.3 1 10 1 3.8 1-5.2 1-14.4 1-17.6 .99-8.1 .01-0 1 8.4 1 17.7 1 15 1 7.6 1 2.3 1 .2 1-.2 .58-.1 .42 .1 1 .3 1 .3 1 .2 1-0 1-.3 1-.4 1-.2 .17-0 .83 .1 1 .2 1-.3 1-2.6 1-7.4 1-13.2 1-13.3 .76-3.9 .24 .4 1 9.3 1 14.1 1 9.5 1 .9 1-7.8 1-12.9 1-9.5 .35-.8 .65 2.7 1 11.7 1 12.5 1 7.5 1 2.8 1 .4 1-.2 .94-.2 .06-0 1 .2 1 .4 1 .3 1-0 1-.2 1-.3 1-.3 .53-.1 .47 .1 1 .3 1 .3 1 .2 1-0 1-.3 1-.4 1-.2 .12-0 .88 .1 1 .3 1-.3 1-2.1 1-6 1-10.5 1-10.2 .71-2.7 .29 .5 1 7.6 1 11.3 1 8.1 1 3.5 1 .8"/>
<path stroke="#ee3490" d="M24.50 -0.0l1-.1 1-.2 1-.1 .85-.1 .15 0 1 .1 1 .2 1 .1 1-.1 1-.2 1-.4 1-.3 .44-.1 .56 .1 1 .3 1 .4 1 .2 1 0 1-.2 1-.2 1-.1 .03 0 .97 .1 1 .1 1-.3 1-1.8 1-4.9 1-8 1-7.3 .62-1.6 .38 .6 1 6.2 1 8.4 1 5.8 1 2.4 1 .5 1-.1 1-.2 .21 0 .79 .1 1 .3 1 .2 1 .1 1-.2 1-.2 1-.3 .8-.1 .2 0 1 .2 1 .3 1 .2 1 .1 1-.1 1-.1 1-.1 .39 0 .61 0 1 .1 1 .2 1 0 1 0 1 0 1-.1 .98-.1 .02 0 1 .1 1 0 1-.5 1-1.9 1-5 1-7.9 1-6.9 .57-1.3 .43 .7 1 6.4 1 8.1 1 5.4 1 2.2 1 .4 1-.1 1-.1 .16 0 .84 .1 1 .2 1 .2 1 .1 1 0 1-.1 1-.1 .75 0 .25 0 1 0 1-.1 1-.8 1-3 1-6.9 1-9.9 1-7 .34-.6 .66 2.1 1 8.7 1 9.4 1 5.5 1 1.9 1 .2 1-.3 .93-.2 .07 0 1 .2 1 .5 1 .3 1 .2 1-.1 1-.1 1-.1 .52 0 .48 0 1 0 1-.2 1-1.9 1-6 1-12.4 1-15.6 1-8.6 .11-.1 .89 5.8 1 15 1 13.7 1 7.3 1 2.5 1 .4 1-.1 .7-.1 .3 0 1 .2 1 0 1-.7 1-2.9 1-6.7 1-9.3 1-6.3 .29-.4 .71 2.2 1 8.4 1 8.7 1 5 1 1.9 1 .4 1 0 .88 0 .12 0 1 0 1 .1 1 0 1 .1 1-.1 1-.1 1 0 .47 0 .53 0 1 0 1-.3 1-1.7 1-5.2 1-10.5 1-12.8 1-6.6 .06 0 .94 5.3 1 12.5 1 11.1 1 5.7 1 1.7 1 0 1-.3 .65-.1 .35 0 1 .4 1 .4 1 .4 1 0 1-.2 1-.3 1-.2 .24 0 .76 .1 1 .3 1 .2 1 .1 1-.1 1-.3 1-.3 .83-.1 .17 0 1 .2 1 .1 1-1.1 1-4.7 1-11.1 1-16.6 1-12.8 .42-1.5 .58 2.7 1 14.3 1 16.2 1 9.9 1 3.8 1 .7 1-.2 1-.2 .01 0 .99 .2 1 .4 1 .4 1 .1 1-.1 1-.2 1-.2 .6-.1 .4 0 1 .2 1 .3 1 .1 1-.1 1-.4 1-.5 1-.3 .19 0 .81 .1 1 .4 1-.3 1-2.7 1-8.2 1-14.6 1-15 .78-4.6 .22 .4 1 10.1 1 16.1 1 12 1 5.5 1 1.4 1-.1 1-.3 .37 0 .63 0 1 .4 1 .5 1 .2 1-.2 1-.4 1-.5 .96-.2 .04 0 1 .2 1 .5 1 .5 1 .1 1 0 1-.2 1-.1 .55-.1 .45 .1 1 .1 1 .2 1 .1 1 0 1 0 1-.1 1-.1 .14 0 .86 .1 1 .1 1 0 1 0 1 0 1-.2 1-.1 .73-.1 .27 0 1 .1 1 .2 1 .1 1 0 1-.1 1-.1 1-.1 .32-.1 .68 .1 1 0 1-.3 1-2.1 1-6.1 1-11.5 1-12.8 .91-5.1 .09 .1 1 7 1 13.2 1 10.7 1 5.1 1 1.7 1 .3 1-.1 .5 0 .5 0 1 .1 1 .1 1 0 1-.1 1-.3 1-.3 1-.2 .09 0 .91 .1 1 .4 1 .2 1 .1 1-.2 1-.5 1-.4 .68-.1 .32 0 1 .3 1 .5 1 .4 1 0 1-.2 1-.2 1-.2 .27 0 .73 0 1 .3 1 .2 1 .1 1-.2 1-.4 1-.5 .86-.2 .14 0 1 .2 1 .3 1-1 1-4.7 1-11.7 1-17.7 1-14.1 .45-1.8 .55 2.7 1 15 1 17.4 1 11 1 4.4 1 1.1 1 .1 1 0 .04 0 .96 .1 1 0 1 .1 1 0 1-.2 1-.4 1-.3 .63 0 .37 0 1 .2 1 .1 1-.9 1-3.6 1-8 1-10.8 1-6.7 .22-.3 .78 3.1 1 10 1 9.8 1 5.5 1 1.9 1 .4 1 0 .81-.1 .19 0 1 .1 1 .1 1 .1 1-.1 1-.4 1-.5 1-.4 .4 0 .6 .1 1 .4 1 .5 1 .3 1 0 1-.1 1-.2 .99-.1 .01 0 1 .1 1 .2 1 .2 1 0 1-.2 1-.3 1-.3 .58-.1 .42 0 1 .2 1 0 1-1.4 1-5.1 1-11.1 1-14.3 1-8.6 .17-.2 .83 4.7 1 13.5 1 12.9 1 7 1 2.3 1 .1 1-.4 .76-.1 .24 0 1 .3 1 .5 1 .4 1 .1 1-.3 1-.3 1-.3 .35 0 .65 0 1 .4 1 .4 1 .1 1 0 1-.2 1-.2 .94-.2 .06 .1 1 .1 1 .2 1 .2 1 .1 1-.2 1-.3 1-.2 .53 0 .47 0 1 .2 1 .3 1 .2 1 0 1-.1 1-.1 1-.1 .12 0 .88 0 1 .2 1 .1 1-.1 1-.2 1-.5 1-.5 .71-.2 .29 .1 1 .3 1 .6 1 .3 1 0 1-.3 1-.6 1-.4 .3 0 .7 .1 1 .5 1 .5 1 .3 1 0 1-.1 1-.1 .89-.1 .11 0 1 .1 1 .2 1 .1 1 0 1 0 1-.1 1 0 .48-.1 .52 0 1 0 1-.4 1-2.5 1-7.6 1-15.4 1-18.8 1-9.9 .07 0 .93 7.6 1 18.3 1 15.5 1 5.2 1-5.9 1-14.2 1-13.9 .66-3.3 .34 .9 1 11.3 1 15.7 1 11 1 4.7 1 1.1 1-.3 1-.3 .25 0 .75 .2 1 .4 1 .5 1 .2 1-.2 1-.4 1-.5 .84-.2 .16 0 1 .3 1 .5 1 .4 1 0 1-.2 1-.5 1-.3 .43-.1 .57 .1 1 .4 1 .5 1 .2 1 .1 1 0 1-.1 1-.1 .02 0 .98 .1 1 .1 1 0 1-.1 1-.2 1-.4 1-.4 .61-.1 .39 0 1 .4 1 .4 1 .3 1 0 1-.3 1-.4 1-.3 .2 0 .8 .1 1 .3 1-.4 1-2.8 1-8.3 1-14.8 1-15.2 .79-4.8 .21 .4 1 10.1 1 16.4 1 12.2 1 5.6 1 1.4 1-.2 1-.3 .38-.1 .62 .1 1 .5 1 .5 1 .3 1 .1 1 0 1-.1 .97-.1 .03 0 1 .1 1 .1 1 0 1 0 1 0 1-.2 1-.1 .56 0 .44 0 1 .1 1 .1 1 .1 1-.1 1-.4 1-.4 1-.3 .15 0 .85 .2 1 .4 1 .4 1 .1 1-.2 1-.5 1-.5 .74-.1 .26 0 1 .3 1 .6 1 .3 1 .1 1-.3 1-.3 1-.3 .33 0 .67 0 1 .4 1 .4 1 .1 1 0 1-.1 1-.2 .92-.1 .08 0 1 .1 1 0 1-.7 1-3.3 1-8.2 1-12.8 1-10.6 .51-1.7 .49 1.5 1 10.6 1 12.8 1 8.2 1 3.3 1 .6 1-.2 1-.3 .1 0 .9 .2 1 .4 1 .4 1 .2 1 0 1-.1 1-.1 .69 0 .31 0 1 0 1 .2 1 0 1 0 1-.2 1-.2 1-.1 .28-.1 .72 .1 1 .2 1 .2 1 .1 1 0 1-.2 1-.2 .87-.1 .13 0 1 .2 1 .1 1 .2 1 0 1 0 1-.2 1-.1 .46 0 .54 0 1 .2 1 .1 1 0 1-.1 1-.2 1-.3 1-.2 .05 0 .95 .2 1 .2 1 .3 1 .1 1 0 1-.2 1-.1 .64 0 .36 0 1 .1 1 .1 1 .1 1 0 1-.1 1-.2 1-.1 .23 0 .77 0 1 .1 1-.3 1-1.7 1-5 1-9.1 1-9.6 .82-3.2 .18 .2 1 6.1 1 10.1 1 7.8 1 3.5 1 .9 1-.2 1-.2 .41-.1 .59 .1 1 .4 1 .3 1 .3 1 0 1 0 1-.1 1 0 1 0 1 0 1-.5 1-2.1 1-5.4 1-8.7 1-7.7 .59-1.5 .41 .7 1 6.9 1 8.9 1 6.1 1 2.5 1 .6 1 0 1-.1 .18 0 .82 .1 1 .1 1 .2 1 0 1 0 1 0 1-.1 .77-.1 .23 .1 1 0 1 .1 1 0 1-.1 1-.4 1-.5 1-.4 .36 0 .64 .1 1 .5 1 .4 1 .3 1 .1 1-.2 1-.1 .95-.1 .05 0 1 .1 1 0 1-.4 1-2.2 1-5.6 1-8.7 1-7.5 .54-1.3 .46 .9 1 7.1 1 8.9 1 5.8 1 2.3 1 .3 1-.4 1-.2 .13 0 .87 .1 1 .4 1-.2 1-2.3 1-6.8 1-11.7 1-11.6 .72-3.1 .28 .5 1 8.5 1 12.4 1 7.6 1-.9 1-10.2 1-15.8 1-11.1 .31-.8 .69 3.7 1 14.4 1 15 1 8.8 1 3.3 1 .6 1-.1 .9-.1 .1 0 1 .1 1 .1 1-.7 1-3.4 1-8.4 1-13 1-10.6 .49-1.6 .51 1.7 1 10.8 1 12.9 1 8.3 1 3.2 1 .5 1-.4 1-.2 .08 0 .92 .2 1 .5 1 .4 1 .2 1-.2 1-.5 1-.4 .67-.1 .33 0 1 .4 1 .5 1 .3 1 0 1-.3 1-.3 1-.3 .26 0 .74 .1 1 .4 1 .3 1 .1 1 0 1-.3 1-.2 .85-.1 .15 0 1 .1 1 .3 1 .2 1 .1 1-.1 1-.3 1-.2 .44 0 .56 .1 1 .2 1 .2 1 0 1-.1 1-.4 1-.4 1-.3 .03 0 .97 .3 1 .4 1 .4 1 .1 1-.1 1-.3 1-.2 .62-.1 .38 0 1 .2 1-.1 1-1.6 1-5.8 1-12.8 1-16.9 1-10.5 .21-.4 .79 5 1 15.8 1 15.3 1 8.6 1 3.1 1 .6 1 0 .8 0 .2 0 1 .1 1 .1 1 .1 1 0 1-.1 1-.2 1-.1 .39 0 .61 0 1 .2 1 .1 1 .1 1 0 1 0 1-.1 .98-.1 .02 0 1 .1 1 .1 1 0 1 0 1-.3 1-.4 1-.3 .57-.1 .43 0 1 .4 1 .4 1 .2 1 0 1-.2 1-.4 1-.2 .16 0 .84 .1 1 .4 1 .3 1 .1 1 0 1-.1 1-.2 .75 0 .25 0 1 .1 1-.1 1-1.1 1-4 1-9.2 1-13 1-9.4 .34-.7 .66 2.7 1 11.5 1 11.8 1 4.9 1-4.5 1-13.1 1-15.5 .93-6.4 .07 0 1 8.3 1 16 1 13 1 6.4 1 1.9 1 .2 1-.1 .52-.1 .48 .1 1 .2 1 .2 1 .2 1-0 1-.1 1-.1 1-.1 .11-0 .89-0 1 .1 1-.5 1-2.4 1-6.3 1-10.8 1-10.4 .7-2.7 .3 .5 1 8 1 11.5 1 8.3 1 3.5 1 .8 1-.3 1-.3 .29-0 .71 .1 1 .4 1-.2 1-2.1 1-6.9 1-12.8 1-14 .88-5.3 .12 .1 1 8.1 1 14.6 1 11.6 1 5.5 1 1.7 1 .2 1-0 .47-0 .53-0 1 .1 1 .1 1 .1 1-.1 1-.2 1-.3 1-.2 .06-0 .94 .1 1 .2 1-.4 1-2.5 1-6.7 1-11.2 1-10.4 .65-2.4 .35 .7 1 8.5 1 11.8 1 8.2 1 3.5 1 .6 1-.3 1-.3 .24-0 .76 .2 1 .4 1 .5 1 .2 1 .1 1-.1 1-.1 .83-.1 .17-0 1 .1 1 .1 1 .1 1-.1 1-.4 1-.5 1-.4 .42-.1 .58 .1 1 .5 1 .5 1 .3 1 .1 1-0 1-.1 1-.1 .01-0 .99-0 1-0 1-.8 1-3.4 1-8.6 1-14 1-12.6 .6-2.5 .4 1.2 1 10.9 1 14.5 1 9.8 1 4.1 1 .9 1-.1 1-.2 .19-0 .81 .1 1 .4 1 .3 1 .2 1-.1 1-.1 1-.1 .78-.1 .22-0 1 .1 1 .2 1 .1 1-0 1-.2 1-.3 1-.2 .37-.1 .63 .1 1 .3 1 .2 1 .2 1-.1 1-.1 1-.2 .96-.1 .04-0 1 .1 1 .2 1 .2 1-0 1-.1 1-.2 1-.1 .55-.1 .45 .1 1 .1 1 .2 1 .1 1-0 1-.1 1-.2 1-.1 .14-0 .86 .1 1 .1 1 .2 1-0 1-.1 1-.2 1-.2 .73-.1 .27-0 1 .1 1 .1 1-.6 1-2.8 1-6.4 1-9 1-6.3 .32-.5 .68 2 1 8 1 7.9 1 2.5 1-5.2 1-13 1-14.8 .91-6 .09 .1 1 8.2 1 15.4 1 12.4 1 5.9 1 1.7 1-.1 1-.3 .5-.1 .5 .1 1 .3 1 .1 1-1.4 1-5.3 1-11 1-13.7 1-7.3 .09-.1 .91 5.3 1 13.2 1 11.1 1 3.2 1-6.1 1-13.5 1-13.3 .68-3.3 .32 .8 1 10.4 1 15 1 10.5 1 4.6 1 1 1-.2 1-.3 .27-.1 .73 .2 1 .4 1 .5 1 .2 1 .1 1-.1 1-0 .86-.1 .14-0 1 .1 1 .1 1-0 1-.1 1-.2 1-.4 1-.4 .45-0 .55-0 1 .3 1-0 1-1.5 1-5.3 1-10.7 1-12.9 1-6.5 .04-0 .96 5.6 1 12.7 1 11.2 1 5.6 1 1.7 1-.1 1-.4 .63-.1 .37 .1 1 .4 1 .5 1 .4 1 .1 1-0 1-.1 1-0 .22-0 .78-0 1 .1 1-0 1-0 1-.2 1-.5 1-.4 .81-.1 .19-0 1 .3 1 .4 1 .3 1 .1 1-.1 1-.2 1-.2 .4-0 .6 .1 1 .2 1 .2 1 .1 1-0 1-.1 1-.1 .99-.1 .01-0 1-0 1-0 1-.8 1-3.3 1-8.6 1-13.8 1-12.3 .58-2.3 .42 1.2 1 11 1 13.8 1 7.7 1-2 1-11.5 1-16.3 1-9.8 .17-.2 .83 5.3 1 15.6 1 14.8 1 8.1 1 2.7 1 .4 1-.2 .76-0 .24-0 1 .2 1 .3 1 .2 1 .1 1-.1 1-.1 1-.2 .35-0 .65 .1 1 .1 1 .2 1-0 1-.1 1-.2 1-.3 .94-.1 .06-0 1 .1 1 .3 1 .2 1-0 1-.3 1-.5 1-.4 .53-.1 .47 .1 1 .4 1 .5 1 .3 1 .1 1-.1 1-.2 1-.1 .12-0 .88 .1 1 .1 1 .2 1-0 1-.2 1-.3 1-.3 .71-.1 .29-0 1 .2 1 .4 1 .2 1 .1 1-.1"/>
</g>
<g id="tr3" fill="none" stroke-width="1.35" stroke-linejoin="round">
<path stroke="#262626" d="M24.50 -0.2l1-.2 1-.5 1-.3 .85-.2 .15 0 1 .2 1 .5 1 .3 1 .1 1-.2 1-.3 1-.2 .44 0 .56 0 1 0 1-.9 1-3.3 1-8.3 1-13.7 1-14.3 1-6.6 .03 0 .97 5.9 1 14.1 1 13.9 1 8.7 1 3.7 1 1.1 1 .2 .62 0 .38 0 1-.1 1-.6 1-2.5 1-6.5 1-11.4 1-13.1 1-7.5 .21-.3 .79 3.5 1 11.7 1 12.8 1 8.6 1 3.8 1 1.1 1 0 .8 0 .2 0 1 .2 1 .3 1 .2 1 .1 1-.1 1-.1 1-.2 .39 0 .61 0 1-.2 1-1.2 1-4.1 1-9.8 1-15.6 1-16 .98-6.7 .02 0 1 7.3 1 16.1 1 15.4 1 9.5 1 3.9 1 1 1 0 .57 0 .43 0 1 0 1-.7 1-3.3 1-8.4 1-14.4 1-16.2 1-8.8 .16-.2 .84 4.8 1 14.5 1 14.1 1 5.5 1-5.7 1-13.7 1-13.3 .75-3.7 .25 .4 1 9.4 1 15.6 1 13.3 1 7.5 1 2.8 1 .7 1 0 .34 0 .66 0 1-.1 1-.8 1-3.4 1-7.7 1-12.3 1-12.2 .93-4.7 .07 0 1 6.2 1 12.6 1 11.8 1 7.1 1 2.9 1 .8 1 .2 .52-0 .48-0 1 .1 1 .1 1-0 1-.2 1-.3 1-.4 1-.2 .11-0 .89 .1 1-.1 1-1.3 1-4.5 1-9.9 1-14.1 1-12.3 .7-3 .3 .6 1 9.1 1 14.4 1 12 1 6.6 1 2.6 1 .6 1 .1 .29-0 .71 .1 1 .1 1 .1 1-0 1-.1 1-.1 1-.1 .88-0 .12-0 1-0 1 .1 1 .1 1-0 1-.2 1-.3 1-.2 .47-0 .53-0 1 .2 1 .3 1 .1 1-.1 1-.4 1-.4 1-.2 .06-0 .94 .2 1 .4 1 .3 1 .2 1-.1 1-.3 1-.3 .65-.1 .35-0 1 .1 1-.4 1-2.3 1-6.2 1-11.1 1-12.9 1-7.8 .24-.3 .76 3.2 1 11.4 1 12.8 1 8.6 1 4.1 1 1.3 1 .3 .83-0 .17-0 1 .1 1-0 1 .1 1-0 1-0 1-.1 1-0 .42-0 .58-0 1-0 1 .1 1-.1 1-.2 1-.3 1-.4 1-.2 .01-0 .99 .2 1 .4 1 .3 1 .2 1-.1 1-.2 1-.1 .6-.1 .4 .1 1 .1 1 .2 1 .1 1-.1 1-.3 1-.4 1-.2 .19-0 .81 .1 1 .3 1 .4 1 .1 1-0 1-.2 1-.1 .78-.1 .22-0 1-0 1-.4 1-2 1-5.7 1-10.5 1-13.1 1-8.8 .37-.8 .63 2.2 1 10.7 1 13 1 9.3 1 4.5 1 1.4 1 .3 .96-0 .04-0 1 .1 1 .2 1 .1 1 .1 1-.1 1-0 1-.1 .55-.1 .45-0 1-.1 1-.7 1-2.5 1-6.4 1-10.9 1-12 1-6.4 .14-.1 .86 3.8 1 11.2 1 11.7 1 7.6 1 3.3 1 .9 1-0 .73-0 .27-0 1 .2 1 .3 1 .2 1 .1 1-.1 1-.2 1-.2 .32-0 .68 .1 1 .1 1 .2 1 .1 1-.1 1-.2 1-.2 .91-.1 .09-0 1 .1 1 .2 1 .2 1 .1 1-.1 1-.2 1-.2 .5-0 .5-0 1 .2 1 .2 1 .1 1 .1 1-.1 1-0 1-.1 .09-0 .91 .1 1-0 1-0 1-.1 1-.2 1-.5 1-.4 .68-0 .32-0 1 .3 1 .4 1 .3 1 .1 1-.2 1-.3 1-.2 .27-0 .73 .1 1 .2 1 .3 1 .1 1-.2 1-.5 1-.4 .86-.1 .14-0 1 .2 1 .5 1 .4 1 .1 1-.1 1-.2 1-.2 .45-0 .55-0 1 .2 1 .2 1 .1 1-0 1-.3 1-.3 1-.2 .04-0 .96 .2 1 .3 1 .3 1 .1 1-0 1-.2 1-.1 .63-0 .37-0 1 .1 1 .1 1 .2 1-0 1-0 1-.1 1-.1 .22-0 .78-0 1-.3 1-1.3 1-4 1-8.8 1-13.2 1-12.2 .81-3.8 .19 .2 1 7.4 1 12.8 1 9.4 1 .2 1-9.6 1-14.7 1-10.5 .4-1.1 .6 2.4 1 12.2 1 14.5 1 8.2 1-1.2 1-9 1-10.7 .99-4.7 .01-0 1 5 1 11.3 1 10.9 1 6.5 1 2.6 1 .5 1-.1 .58-.1 .42 .1 1 .3 1 .4 1 .3 1-0 1-.3 1-.4 1-.2 .17-0 .83 .1 1 .3 1 .4 1 .2 1-0 1-.1 1-.2 .76-0 .24-0 1 .1 1 .2 1 .1 1-.1 1-.2 1-.3 1-.2 .35-0 .65-0 1 .3 1 .3 1 .1 1-.2 1-.4 1-.5 .94-.2 .06-0 1 .2 1 .1 1-.9 1-3.3 1-6.8 1-9.3 1-7.1 .53-1.1 .47 .9 1 6.8 1 9.3 1 7 1 3.5 1 1 1-.1 1-.1 .12-0 .88 .1 1 .5 1 .4 1 .2 1-0 1-.1 1-.1 .71-0 .29-0 1 .1 1 .1 1 .1 1-0 1-.2 1-.2 1-.1 .3-.1 .7-0 1-0 1-.9 1-3.3 1-7.6 1-11.8 1-11.4 .89-4.2 .11 .1 1 6.2 1 12.1 1 11.1 1 6.6 1 2.6 1 .7 1 .1 .48-0 .52-0 1 .1 1 .2 1-0 1-0 1-.2 1-.1 1-.1 .07-0 .93-0 1 .2 1 .1 1-0 1-.3 1-.4 1-.3 .66-.1 .34-0 1 .3 1 .4 1 .3 1 .1 1-.2 1-.2 1-.2 .25-0 .75 .1 1 .2 1 .2 1 .1 1-.2 1-.3 1-.4 .84-.1 .16-0 1 .2 1 .4 1 .3 1 .2 1-.1 1-.1 1-.1 .43-0 .57-0 1 .1 1 .2 1 .1 1-.1 1-.1 1-.1 1-0 .02-0 .98-0 1 .1 1 .1 1-0 1-.1 1-.2 1-.2 .61-0 .39-0 1 .2 1 .2 1 .1 1-0 1-0 1-.2 1-.1 .2-0 .8 .1 1 .1 1 .1 1-.1 1-.2 1-.5 1-.4 .79-.2 .21-0 1 .3 1 .5 1 .4 1 .1 1-0 1-.2 1-.1 .38-0 .62-0 1 .2 1 .1 1 .1 1-.1 1-.3 1-.3 .97-.1 .03-0 1 .1 1 .3 1 .3 1 .1 1-0 1-.1 1-.1 .56-0 .44-0 1-.1 1-.9 1-3 1-7.6 1-13 1-14.5 1-7.8 .15-.1 .85 4.4 1 13.1 1 12.7 1 5.4 1-4.2 1-10.7 1-10.4 .74-2.9 .26 .4 1 7.5 1 12.4 1 10.5 1 5.8 1 2.2 1 .4 1-0 .33-0 .67 .1 1 .2 1 .2 1 .1 1 .1 1-.1 1-.1 .92-0 .08-0 1 .1 1-0 1 .1 1-0 1-.1 1-.1 1-.1 .51-0 .49-0 1-.2 1-1 1-3.6 1-8.8 1-14.8 1-16 1-8.1 .1-.1 .9 5.6 1 15.2 1 15.6 1 10 1 4.4 1 1.3 1 .2 .69 0 .31 0 1 0 1-.3 1-1.6 1-4.4 1-8.1 1-9.6 1-6 .28-.3 .72 2.1 1 8.3 1 9.5 1 6.5 1 3 1 1 1 .1 .87 0 .13 0 1 .1 1 .1 1 .1 1 0 1-.1 1-.1 1-.2 .46 0 .54 0 1 .2 1 .1 1 .1 1 0 1-.1 1-.2 1 0 .05 0 .95 0 1 .2 1 .1 1 .1 1 0 1-.1 1 0 .64-.1 .36 0 1-.1 1-.7 1-2.5 1-6.4 1-11.3 1-13.2 1-7.7 .23-.3 .77 3.3 1 11.7 1 12.8 1 8.7 1 4 1 1.1 1 .2 .82 0 .18 0 1 0 1-.5 1-2.3 1-6.5 1-12.3 1-15.5 1-10.9 .41-1.1 .59 2.3 1 12.1 1 14.2 1 7.6 1-2.9 1-11.8 1-13.7 1-6.1 1 6.2 1 14.3 1 13.8 1 8.5 1 3.7 1 1 1 .2 .59 0 .41 0 1-.1 1-.7 1-2.7 1-6.8 1-11.7 1-13.2 1-7.4 .18-.2 .82 3.8 1 12.1 1 12.9 1 8.5 1 3.7 1 .9 1 0 .77-.1 .23 0 1 .3 1 .4 1 .4 1 .1 1 0 1-.1 1-.1 .36 0 .64 0 1-.2 1-1.1 1-3.6 1-8.4 1-13.2 1-13.3 .95-5.4 .05 0 1 6.5 1 13.6 1 12.8 1 7.8 1 3 1 .6 1-.1 .54 0 .46 .1 1 .3 1 .4 1 .2 1 0 1-.3 1-.4 1-.2 .13 0 .87 .1 1 .4 1 .4 1 .2 1 0 1-.1 1-.1 .72 0 .28 0 1 .1 1 .1 1 .1 1-.1 1-.1 1-.2 1-.2 .31 0 .69 0 1 .2 1 .2 1 0 1-.1 1-.3 1-.4 .9-.1 .1 0 1 .2 1 .3 1 .3 1 .1 1 0 1-.2 1-.2 .49 0 .51 0 1 .2 1 .2 1 0 1-.2 1-.4 1-.4 1-.3 .08 0 .92 .2 1 .1 1-.9 1-3.4 1-7.4 1-10.6 1-9 .67-2.1 .33 .5 1 7 1 10.8 1 8.8 1 4.7 1 1.5 1 0 1-.1 .26 0 .74 .1 1 .4 1 .4 1 .3 1-.1 1-.2 1-.2 .85-.1 .15 0 1 .1 1 .3 1 .2 1 .1 1-.1 1-.1 1-.1 .44 0 .56 0 1 .1 1 .2 1 0 1-.1 1-.2 1-.2 1-.1 .03 0 .97 .1 1 .2 1 .2 1 .1 1 0 1-.1 1-.1 .62 0 .38 0 1 .1 1 .1 1 0 1-.1 1-.3 1-.4 1-.2 .21 0 .79 0 1 0 1-1 1-3.8 1-8.6 1-12.9 1-11.9 .8-3.6 .2 .2 1 7.6 1 13.2 1 11.5 1 6.5 1 2.3 1 .4 1-.2 .39 0 .61 .1 1 .4 1 .4 1 .2 1 0 1-.2 1-.3 .98-.1 .02 0 1 0 1-.1 1-1.1 1-3.8 1-7.9 1-10.8 1-8.5 .57-1.5 .43 .9 1 7.7 1 10.8 1 8.4 1 4.5 1 1.5 1 .3 1 0 .16 0 .84 .1 1 .1 1 .2 1 0 1-.2 1-.3 1-.3 .75-.1 .25 .1 1 .2 1 .3 1 .2 1 .1 1-.1 1-.1 1-.1 .34 0 .66 0 1 .1 1 .2 1 0 1-.3 1-.4 1-.4 .93-.1 .07 0 1 .2 1 .4 1 .4 1 .2 1 0 1-.1 1-.1 .52 0 .48 0 1 .1 1 .1 1 0 1-.1 1-.2 1-.3 1-.1 .11 0 .89 .1 1 .2 1 .3 1 0 1-.1 1-.3 1-.2 .7-.1 .3 .1 1 .1 1 .3 1 .2 1 .1 1-.1 1-.2 1-.1 .29 0 .71 .1 1 .1 1 .1 1 .1 1-.2 1-.4 1-.4 .88-.1 .12 0 1 .2 1 .4 1 .3 1 .1 1-.1 1-.2 1-.1 .47 0 .53 0 1 .2 1 .2 1 .1 1-.1 1-.3 1-.4 1-.1 .06 0 .94 .1 1 .3 1 .3 1 .1 1-.1 1-.3 1-.2 .65-.1 .35 0 1 0 1-.6 1-2.7 1-7.3 1-13 1-15.2 1-9.1 .24-.4 .76 3.7 1 13 1 13.3 1 5.3 1-5.8 1-14.5 1-14.6 .83-4.8 .17 .2 1 8.9 1 15.9 1 12.7 1 3.3 1-6.4 1-11.4 1-8.6 .42-.9 .58 1.8 1 9.9 1 12.4 1 9.1 1 4.5 1 1.5 1 .3 1 0 .01 0 .99 .1 1 .1 1 .1 1-.1 1-.3 1-.4 1-.3 .6-.1 .4 0 1 .3 1 .5 1 .3 1 0 1-.1 1-.1 1-.1 .19-.1 .81 .1 1 .2 1 .1 1 .1 1-.2 1-.3 1-.3 .78-.1 .22 0 1 .2 1 .3 1 .3 1 .1 1 0 1-.1 1-.1 .37 0 .63 0 1-.1 1-1 1-3.3 1-7.5 1-12.1 1-12.1 .96-5 .04 0 1 5.8 1 12.4 1 11.7 1 7.1 1 3 1 .7 1 .1 .55 0 .45 0 1 .2 1 .2 1 .1 1-.1 1-.2 1-.3 1-.1 .14 0 .86 0 1-.2 1-1.5 1-5.1 1-10.9 1-15.9 1-14 .73-3.7 .27 .5 1 9.9 1 16.2 1 13.7 1 7.7 1 2.9 1 .8 1 .2 .32 0 .68 0 1 .1 1 .1 1 0 1-.1 1-.2 1-.2 .91 0 .09 0 1 .1 1 .1 1 .2 1 0 1 0 1-.2 1-.1 .5 0 .5 0 1 .1 1 .2 1 .1 1 0 1-.1 1-.1 1-.1 .09 0 .91 .1 1 .1 1 0 1 0 1-.3 1-.3 1-.3 .68-.1 .32 0 1 .1 1-.2 1-1.6 1-4.7 1-8.7 1-10.3 1-6.3 .27-.3 .73 2.4 1 8.9 1 10 1 7 1 3.2 1 .9 1 0 .86 0 .14 0 1 .2 1 .2 1 .1 1-.1 1-.3 1-.4 1-.3 .45-.1 .55 .1 1 .3 1 .5 1 .2 1 0 1-.3 1-.4 1-.2 .04 0 .96 .2 1 .3 1 .3 1 .1 1-.2 1-.4 1-.4 .63 0 .37 0 1 .3 1 .4 1 .3 1 0 1-.3 1-.4 1-.3 .22 0 .78 .1 1 .1 1-.4 1-2.3 1-5.5 1-8.3 1-7.7 .81-2.4 .19 .1 1 4.8 1 8.6 1 7.5 1 4.2 1 1.7 1 .3 1 0 .4 0 .6 0 1 .2 1 .2 1 .1 1 0 1 0 1-.1 .99 0 .01 0 1 0 1 0 1 .1 1-.1 1-.3 1-.3 1-.3 .58-.1 .42 .1 1 .2 1 .4 1 .2 1-.1 1-.2 1-.3 1-.2 .17 0 .83 .1 1 .3 1 .3 1 .2 1-.1 1-.2 1-.1 .76-.1 .24 0 1 .1 1 .2 1 .2 1 0 1-.2 1-.2 1-.2 .35 0 .65 .1 1 .2 1 .2 1 0 1-.1 1-.3 1-.3 .94-.1 .06 0 1 .1 1 .4 1 .2 1 .1 1-.2 1-.4 1-.2 .53-.1 .47 0 1 .1 1-.6 1-2.9 1-7.4 1-12.6 1-14 1-7.2 .12-.1 .88 4.7 1 13.1 1 13.5 1 8.7 1 3.7 1 .9 1-.1 .71 0 .29 0 1 .3 1 .4 1 .3 1 .1 1-.1"/>
<path stroke="#2a9a3c" d="M24.50 -0.1l1 0 1-.2 1-.1 .85-.1 .15 0 1-.1 1-.6 1-2.6 1-7.2 1-13.8 1-17.7 1-12.6 .44-1.5 .56 2.4 1 13.8 1 17.5 1 13 1 6.4 1 2 1 .3 1 0 .03 0 .97 .1 1 .4 1 .3 1 .2 1 0 1-.1 1-.2 .62 0 .38 0 1 .1 1 .2 1 .1 1 0 1-.1 1-.1 1 0 .21 0 .79 0 1 .1 1 .1 1 0 1 0 1-.1 1-.1 .8 0 .2 0 1-.2 1-.7 1-2.7 1-7.4 1-13.8 1-17.3 1-11.8 .39-1.2 .61 2.8 1 13.9 1 17.1 1 12.4 1 6 1 2 1 .3 .98 0 .02 0 1 .1 1 .3 1 .2 1 .1 1-.1 1-.1 1-.2 .57 0 .43 0 1 .2 1 .1 1 .1 1 0 1-.1 1-.1 1-.1 .16 0 .84 .1 1 .1 1 .1 1 0 1-.2 1-.3 1-.3 .75-.1 .25 .1 1 .1 1 .4 1 .2 1 0 1-.3 1-.3 1-.3 .34 0 .66 .1 1 .3 1 .3 1 .2 1-.2 1-.3 1-.4 .93-.1 .07 0 1 .2 1 .3 1 .4 1 .1 1-.2 1-.2 1-.3 .52 0 .48 0 1 .2 1 .4 1 .2 1 0 1-.1 1-.1 1-.1 .11 0 .89 .1 1 .1 1 .1 1 .1 1 0 1-.1 1-.1 .7 0 .3 0 1 .1 1 0 1 0 1-.1 1-.3 1-.4 1-.2 .29 0 .71 .1 1 .3 1 .3 1 .2 1 0 1-.2 1-.2 .88-.1 .12 0 1 0 1-.4 1-2.2 1-6.4 1-12.4 1-16.1 1-11.8 .47-1.6 .53 2 1 12.3 1 16.1 1 12.1 1 6.1 1 2.2 1 .5 1 .1 .06 0 .94-.1 1-.4 1-2.1 1-6.1 1-12.4 1-17.4 1-14.6 .65-3.2 .35 1 1 11.6 1 17.6 1 14.4 1 7.7 1 2.9 1 .6 1 .1 .24 0 .76 .1 1 .2 1 .1 1 0 1-.2 1-.4 1-.4 .83-.1 .17 0 1 .3 1 .4 1 .3 1 0 1-.3 1-.4 1-.3 .42 0 .58 .1 1 .3 1 .4 1 .3 1 0 1-.2 1-.3 1-.1 .01 0 .99 .1 1-.1 1-.9 1-3 1-6.4 1-8.9 1-7.1 .6-1.4 .4 .6 1 6.2 1 8.9 1 7 1 3.6 1 1 1 0 1-.2 .19 0 .81 .2 1 .4 1 .4 1 .2 1-.1 1-.2 1-.2 .78-.1 .22 0 1 .2 1 .2 1 .2 1-.1 1-.3 1-.4 1-.3 .37 0 .63 .1 1 .3 1 .4 1 .3 1 .1 1-.2 1-.1 .96-.1 .04 0 1 0 1-.4 1-2 1-5.9 1-11.6 1-15.7 1-12.2 .55-2.1 .45 1.4 1 11.4 1 15.7 1 12.2 1 6.2 1 2.1 1 .2 1-.1 .14 0 .86 .2 1 .3 1 .4 1 .2 1 0 1-.2 1-.2 .73 0 .27 0 1 .1 1 .2 1 .2 1 0 1 0 1-.1 1-.1 .32 0 .68 0 1 .1 1 .1 1 0 1 0 1-.2 1-.2 .91-.1 .09 0 1 .1 1 .2 1 .1 1 0 1-.2 1-.3 1-.2 .5 0 .5 0 1 .2 1 .4 1 .2 1 .1 1 0 1-.1 1 0 .09 0 .91-.1 1-.3 1-1.4 1-4.2 1-8.6 1-12.3 1-10.4 .68-2.5 .32 .5 1 7.9 1 11.9 1 8.2 1 .6 1-6.8 1-10.1 1-6.4 .27-.3 .73 2.5 1 9.2 1 10.5 1 7.2 1 3.2 1 1 1 0 .86 0 .14 0 1 .1 1 .3 1 .2 1 .1 1 0 1-.1 1-.1 .45 0 .55 0 1 .1 1 .1 1 0 1-.2 1-.3 1-.3 1-.2 .04 0 .96 .1 1 .4 1 .3 1 0 1-.2 1-.3 1-.4 .63 0 .37 0 1 .3 1 .4 1 .2 1 0 1-.3 1-.5 1-.2 .22 0 .78 .1 1 .4 1 .4 1 .2 1 0 1-.1 1-.2 .81-.1 .19 .1 1 .1 1 .1 1 .2 1-.1 1-.3 1-.3 1-.3 .4 0 .6 .1 1 .3 1 .3 1 .2 1 0 1-.1 1-.2 .99-.1 .01 0 1 .1 1 .2 1 .1 1 0 1-.2 1-.4 1-.3 .58-.1 .42 .1 1 .3 1 .3 1 .3 1 .1 1 0 1 0 1-.1 .17 0 .83 0 1 .1 1 0 1 0 1-.3 1-.4 1-.4 .76-.1 .24 0 1 .1 1-.2 1-2 1-5.9 1-11 1-13.6 1-9 .35-.7 .65 2.4 1 10.9 1 12.1 1 5.3 1-5 1-13.5 1-14.8 .94-5.9 .06 0 1 7.5 1 15.7 1 14.7 1 8.8 1 3.6 1 .9 1 .1 .53 0 .47 0 1 .2 1 .3 1 .1 1 0 1-.2 1-.3 1-.1 .12 0 .88 .1 1 .2 1 .3 1 0 1-.1 1-.2 1-.3 .71-.1 .29 0 1 0 1-.5 1-2.7 1-7.4 1-13.5 1-16.2 1-10.3 .3-.6 .7 3.4 1 13.8 1 15.9 1 11.1 1 5.1 1 1.4 1 0 .89-.1 .11 0 1 .3 1 .5 1 .4 1 .2 1-.1 1-.1 1-.1 .48 0 .52 0 1 .1 1 .2 1 .1 1-.1 1-.1 1-.1 1-.1 .07 0 .93 .1 1 .1 1 .1 1 .1 1 0 1-.1 1-.1 .66 0 .34 0 1 0 1 .1 1 .1 1-.1 1-.1 1-.1 1-.1 .25-.1 .75 .1 1 .1 1 .2 1-.1 1-.2 1-.3 1-.4 .84-.1 .16 0 1 .2 1 .4 1 .3 1 .2 1 .1 1-.1 1 0 .43-.1 .57 0 1-.1 1-.7 1-2.5 1-5.9 1-9.5 1-9.9 1-4.5 .02 0 .98 4.2 1 9.8 1 9.6 1 5.9 1 2.4 1 .4 1-.1 .61 0 .39 0 1 .3 1 .4 1 .2 1 .1 1-.1 1-.1 1-.1 .2 0 .8 .1 1 .1 1 .1 1 .1 1 0 1 0 1-.1 .79 0 .21 0 1 0 1 .1 1 0 1-.1 1-.3 1-.3 1-.2 .38 0 .62 0 1 .3 1 .3 1 .1 1-.1 1-.2 1-.3 .97-.1 .03 0 1 0 1-.2 1-1.7 1-5.2 1-10.7 1-14.3 1-11.3 .56-2 .44 1.2 1 10.4 1 14.4 1 11.3 1 5.8 1 1.9 1 .3 1-.1 .15 0 .85 .1 1 .4 1 .3 1 .2 1 0 1 0 1-.1 .74 0 .26 0 1 0 1 .1 1 0 1-.1 1-.4 1-.4 1-.3 .33 0 .67 0 1 .1 1-.7 1-3.2 1-7.8 1-12.2 1-12.2 .92-4.6 .08 0 1 6.3 1 12.6 1 11.8 1 7.1 1 2.9 1 .9 1 .1 .51 0 .49 0 1 .1 1 .1 1 0 1 0 1-.1 1-.1 1-.1 .1 0 .9 0 1-.4 1-1.9 1-5.6 1-11.8 1-16.7 1-14.4 .69-3.5 .31 .7 1 10.9 1 17 1 14 1 7.7 1 2.9 1 .6 1 0 .28 0 .72 .1 1 .2 1 .3 1 .1 1 0 1-.2 1-.1 .87-.1 .13 0 1 .1 1 .2 1 .1 1 .1 1-.1 1-.1 1-.1 .46 0 .54 0 1-.2 1-1.1 1-3.7 1-9 1-14.8 1-15.6 1-7.4 .05 0 .95 6 1 14.7 1 13.3 1 4 1-7.1 1-14.4 1-12.8 .64-2.8 .36 .9 1 10.7 1 16 1 12.9 1 6.9 1 2.4 1 .5 1 0 .23 0 .77 0 1 .3 1 .3 1 .1 1-.2 1-.4 1-.4 .82-.1 .18 0 1 .2 1 .5 1 .3 1 .2 1 0 1-.1 1-.1 .41 0 .59 0 1 .1 1 .1 1 0 1-.1 1-.3 1-.3 1-.1 1 .1 1 .3 1 .2 1 .1 1-.2 1-.4 1-.3 .59 0 .41 0 1 .3 1 .3 1 .3 1 .1 1 0 1-.2 1 0 .18 0 .82 0 1 .1 1 .1 1 0 1-.3 1-.4 1-.4 .77-.1 .23 0 1 .1 1-.4 1-2.4 1-6.9 1-13.2 1-16.2 1-10.9 .36-.9 .64 2.9 1 13.3 1 16.1 1 11.5 1 5.5 1 1.8 1 .3 .95 0 .05 0 1 .2 1 .2 1 .1 1 .1 1-.1 1-.3 1-.2 .54 0 .46 0 1 .2 1 .2 1 .1 1-.1 1-.3 1-.5 1-.2 .13 0 .87 .2 1 .3 1 .4 1 .2 1-.1 1-.2 1-.3 .72 0 .28 0 1 .2 1 .2 1 .2 1 .1 1-.2 1-.2 1-.2 .31 0 .69 0 1-.1 1-1.1 1-4 1-9 1-14.2 1-13.8 .9-5.1 .1 .1 1 7.3 1 14.6 1 13.3 1 7.9 1 3 1 .7 1-.1 .49 0 .51 0 1 0 1-.8 1-3.6 1-9.2 1-15.3 1-16.6 1-8.2 .08 0 .92 6.1 1 15.9 1 16.1 1 10.3 1 4.5 1 1.3 1 .2 .67 0 .33 .1 1 .1 1 .1 1 .1 1 0 1-.1 1-.2 1-.2 .26 0 .74 .1 1 .2 1 .1 1 .1 1-.1 1-.2 1-.2 .85-.1 .15 0 1 .1 1 .2 1 .2 1-.1 1-.3 1-.5 1-.3 .44-.1 .56 .1 1 .2 1-.2 1-1.7 1-4.8 1-7.9 1-8.4 1-3.8 .03 0 .97 3.4 1 8.3 1 8 1 5 1 1.9 1 .3 1-.2 .62-.1 .38 0 1 .4 1 .4 1 .3 1 0 1-.3 1-.4 1-.2 .21 0 .79 .1 1 .3 1 .4 1 .1 1-.1 1-.4 1-.4 .8-.1 .2 0 1 .3 1 .4 1 .3 1 .2 1 0 1 0 1-.1 .39 0 .61 0 1-.3 1-1.2 1-4.1 1-9.4 1-15 1-15.4 .98-6.5 .02 0 1 7 1 15.5 1 14.9 1 9 1 3.6 1 .8 1-.1 .57-.1 .43 .1 1 .3 1 .5 1 .3 1-.1 1-.3 1-.5 1-.2 .16 0 .84 .1 1 .5 1 .4 1 .2 1 0 1-.1 1-.1 .75 0 .25 0 1 .1 1 .1 1 .1 1 0 1-.2 1-.2 1-.2 .34 0 .66 .1 1 .2 1 .2 1 0 1-.1 1-.3 1-.3 .93-.1 .07 0 1 .1 1-.2 1-1.6 1-5.1 1-10.1 1-13.4 1-10.2 .52-1.6 .48 1.3 1 9.7 1 12.4 1 6.7 1-3.1 1-12.4 1-15.1 1-7.9 .11-.1 .89 5.4 1 14.8 1 15.2 1 9.9 1 4.4 1 1.4 1 .2 .7 .1 .3 0 1-.1 1-.6 1-2.4 1-6.2 1-11.2 1-13.3 1-8.4 .29-.5 .71 2.9 1 11.4 1 13.1 1 9.1 1 4.2 1 1.3 1 .1 .88 0 .12 0 1 .1 1 .3 1 .3 1 .1 1 0 1-.1 1 0 .47 0 .53 0 1 0 1 .1 1 0 1 0 1-.1 1-.1 1-.1 .06 0 .94 0 1 .1 1 .1 1-.1 1-.3 1-.5 1-.4 .65-.1 .35 .1 1 .3 1 .4 1 .4 1 0 1-.3 1-.3 1-.3 .24 0 .76 .1 1 .3 1 .4 1 .1 1-.2 1-.4 1-.4 .83-.1 .17 0 1 .2 1 .5 1 .4 1 0 1-.1 1-.3 1-.3 .42 0 .58 .1 1 .2 1 .3 1 .2 1-.1 1-.4 1-.4 1-.1 .01 0 .99 .1 1 .4 1 .3 1 .1 1-.2 1-.4 1-.4 .6 0 .4 0 1 .3 1 .4 1 .3 1 0 1-.4 1-.4 1-.2 .19-.1 .81 .1 1 0 1-1.2 1-4.6 1-10.2 1-15.2 1-13.8 .78-4.1 .22 .3 1 8.9 1 14.9 1 10.9 1 1 1-9.3 1-14.5 1-10.1 .37-.9 .63 2.6 1 12.6 1 15.2 1 10.9 1 5.3 1 1.8 1 .3 .96 0 .04 0 1 .1 1 .2 1 .1 1-.1 1-.2 1-.3 1-.3 .55-.1 .45 0 1 0 1-.7 1-3.4 1-8.7 1-15 1-16.7 1-8.9 .14-.1 .86 5.3 1 15.5 1 16.2 1 10.6 1 4.7 1 1.3 1 .1 .73 0 .27 0 1 .2 1 .3 1 .2 1-.1 1-.3 1-.5 1-.3 .32 0 .68 .1 1 .4 1 .4 1 .2 1 0 1-.3 1-.3 .91-.1 .09 0 1 .2 1 .3 1 .3 1 .1 1-.1 1-.1 1-.1 .5-.1 .5 .1 1 .1 1 .1 1 .1 1-.1 1-.2 1-.3 1-.1 .09 0 .91 .1 1 .2 1 .3 1 .1 1-.1 1-.3 1-.2 .68 0 .32 0 1 .2 1 .2 1 .1 1-.1 1-.4 1-.4 1-.3 .27 0 .73 .1 1 .4 1 .4 1 .3 1 0 1-.1 1-.1 .86-.1 .14 0 1 .1 1 .2 1 .1 1 0 1-.1 1-.2 1-.1 .45 0 .55 0 1 .1 1 .2 1 .1 1-.1 1-.3 1-.4 1-.1 .04 0 .96 .1 1 .3 1 .4 1 .1 1 0 1-.1 1-.1 .63 0 .37 0 1-.1 1-.9 1-3.1 1-8 1-14.1 1-16.2 1-9.4 .22-.4 .78 4.2 1 14.5 1 15.8 1 10.6 1 4.8 1 1.2 1 0 .81-.1 .19 .1 1 .2 1 .5 1 .4 1 .1 1-.2 1-.2 1-.2 .4 0 .6 0 1 .3 1 .2 1 .2 1 0 1-.1 1-.2 .99-.1 .01 0 1 .1 1 .2 1 .1 1 0 1-.2 1-.2 1-.2 .58-.1 .42 .1 1 .1 1 .3 1 .1 1 0 1-.2 1-.3 1-.1 .17 0 .83 0 1 .3 1 .3 1 .1 1 0 1-.1 1-.1 .76 0 .24 0 1 .1 1 .1 1 .1 1 0 1-.1 1-.1 1-.1 .35 0 .65 0 1-.2 1-1.2 1-3.9 1-9.1 1-14.2 1-14.2 .94-5.6 .06 0 1 6.9 1 14.1 1 11.8 1 3 1-7 1-12.9 1-10.5 .53-1.7 .47 1.4 1 10.3 1 14 1 10.8 1 5.6 1 1.9 1 .3 1 0 .12 0 .88 .1 1 .2 1 .2 1 .1 1 0 1-.2 1-.2 .71 0 .29 0 1-.1 1-.5 1-2.2 1-5.9 1-10.9"/>
<path stroke="#3a3aee" d="M24.50 -9.7l1-14.9 1-22.5 1-21.4 .85-7.2 .15 .2 1 12.5 1 23.1 1 20.7 1 12 1 4.9 1 1.2 1 .1 .44-0 .56 .1 1 .2 1 .3 1 .1 1-.1 1-.4 1-.4 1-.2 .03-0 .97 .2 1 .4 1 .3 1 .2 1-.2 1-.2 1-.3 .62-.1 .38 .1 1 .2 1 .3 1 .2 1-0 1-.2 1-.3 1-.2 .21-0 .79-.1 1-.3 1-2.4 1-7.8 1-17 1-25.5 1-23.4 .8-7.2 .2 .5 1 14.8 1 26.1 1 22.8 1 13 1 5.3 1 1.4 1 .3 .39 0 .61 0 1 .2 1 .1 1 0 1-.2 1-.3 1-.3 .98-.2 .02 0 1 .2 1 .3 1 .3 1 .1 1-.1 1-.2 1-.2 .57 0 .43 0 1 .2 1 .2 1 .1 1 0 1-.2 1-.3 1-.2 .16 0 .84 .1 1 .3 1 .2 1 .1 1-.1 1-.3 1-.3 .75-.1 .25 .1 1 .1 1 .4 1 .2 1 0 1-.1 1-.3 1-.1 .34-.1 .66 .1 1 .2 1 .3 1 .1 1 0 1-.2 1-.2 .93 0 .07 0 1 0 1-.3 1-1.3 1-4 1-8 1-10.6 1-8.1 .52-1.3 .48 1.1 1 7.8 1 10.7 1 8.2 1 4.1 1 1.5 1 .3 1 0 .11 0 .89 0 1 .2 1 .1 1 0 1-.2 1-.2 1-.3 .7 0 .3 0 1 .2 1 .2 1 .2 1 .1 1-.2 1-.2 1-.1 .29-.1 .71 0 1-.1 1-1.2 1-4.3 1-9.6 1-15 1-14.4 .88-5.1 .12 .1 1 8 1 15.3 1 14 1 8.2 1 3.5 1 1 1 .1 .47 .1 .53-0 1-0 1 .1 1-0 1-.1 1-.2 1-.2 1-.1 .06-0 .94 .1 1 .2 1 .1 1-0 1-.3 1-.4 1-.3 .65-.1 .35-0 1 .3 1 .4 1 .4 1 .1 1-.1 1-.1 1-.1 .24-0 .76-.1 1-.1 1-1 1-3.2 1-7.4 1-11 1-10.4 .83-3.4 .17 .1 1 6.3 1 11.4 1 10 1 5.8 1 2.2 1 .4 1-0 .42-0 .58-0 1-.2 1-1.3 1-4.9 1-11.5 1-18.9 1-19.5 1-8.7 .01-0 .99 8.4 1 19.4 1 18.9 1 11.7 1 4.8 1 1.1 1-0 .6-0 .4-0 1 .3 1 .1 1-1.1 1-3.2 1-5.9 1-6.7 1-3.8 .19-.1 .81 1.9 1 6.1 1 6.6 1 4.3 1 1.8 1 .3 1-.2 .78-.1 .22 0 1 .3 1 .3 1 .4 1 .1 1 0 1-.1 1-.1 .37 0 .63-.1 1-.3 1-1.8 1-5.9 1-13.6 1-21.5 1-21.7 .96-8.9 .04 0 1 10.3 1 22.2 1 21 1 12.7 1 5.2 1 1.3 1 .1 .55 0 .45 0 1 .3 1 .5 1 .3 1 0 1-.2 1-.2 1-.1 .14 0 .86-.1 1-.5 1-2.5 1-8 1-17 1-24.6 1-21.7 .73-5.8 .27 .8 1 15.3 1 24.4 1 19 1 6.2 1-5.8 1-11.3 1-7.9 .32-.5 .68 2.5 1 10.7 1 12.5 1 8.7 1 4.2 1 1.2 1 .2 .91 0 .09 0 1 0 1-.4 1-2.1 1-6 1-12 1-15.7 1-11.8 .5-1.7 .5 1.7 1 11.5 1 14.4 1 7.6 1-4.1 1-14.8 1-17.9 1-9.1 .09 0 .91 6.6 1 17.7 1 17.9 1 11.6 1 5 1 1.6 1 .2 .68 .1 .32 0 1 .1 1 .1 1 .1 1-.2 1-.4 1-.4 1-.3 .27-.1 .73 .1 1 .2 1-.5 1-2.5 1-6 1-9.3 1-9 .86-3.1 .14 .1 1 5.1 1 9.7 1 8.7 1 5.1 1 2 1 .5 1 .1 .45 0 .55 0 1 0 1-.4 1-1.6 1-3.9 1-6.3 1-6.8 1-3.1 .04 0 .96 2.7 1 6.3 1 5.8 1 1.9 1-2.6 1-5.6 1-5 .63-1 .37 .4 1 4.2 1 6.2 1 5 1 2.5 1 .8 1-.1 1-.1 .22-.1 .78 .1 1 .4 1 .3 1 .1 1-.1 1-.3 1-.3 .81-.1 .19 0 1 .2 1 .3 1 .2 1 0 1-.3 1-.4 1-.3 .4 0 .6 .1 1 .3 1 .4 1 .2 1-.1 1-.3 1-.4 .99-.2 .01 0 1 .2 1 0 1-.9 1-3.3 1-7 1-9.5 1-7.7 .58-1.4 .42 .7 1 6.8 1 9.7 1 7.6 1 3.8 1 1.2 1 .1 1-.2 .17 0 .83 0 1-.2 1-2.2 1-7.2 1-15.7 1-23 1-20.7 .76-5.9 .24 .6 1 14 1 23.5 1 20.2 1 11.3 1 4.3 1 1 1 0 .35 0 .65 .1 1 .3 1 .4 1 .2 1 0 1-.2 1-.3 .94-.1 .06 0 1 .2 1 .2 1 .2 1 0 1-.3 1-.3 1-.4 .53 0 .47 0 1 0 1-.9 1-4.1 1-10.3 1-17.5 1-19.3 1-10 .12-.1 .88 6.3 1 17.5 1 16.4 1 5.2 1-9.1 1-19.2 1-17.9 .71-4.5 .29 .8 1 13.4 1 21.3 1 17.9 1 9.9 1 3.9 1 1 1 .2 .3 0 .7 0 1 .1 1 .1 1 0 1-.3 1-.4 1-.4 .89-.1 .11 0 1 .1 1-.2 1-1.7 1-5.5 1-10.8 1-14.2 1-10.5 .48-1.4 .52 1.7 1 10.8 1 14.1 1 10.7 1 5.3 1 1.6 1 .2 1-.1 .07 0 .93 .2 1 .3 1 .4 1 .1 1-.1 1-.3 1-.3 .66 0 .34 0 1 0 1-.3 1-2.1 1-5.7 1-10.3 1-12.1 1-7.3 .25-.3 .75 2.9 1 10.2 1 10.4 1 3.6 1-5.8 1-13.4 1-13.6 .84-4.5 .16 .1 1 8 1 14.1 1 9.8 1-1.9 1-15.1 1-22.4 1-16.3 .43-1.9 .57 3.3 1 18.4 1 23.2 1 17.1 1 8.5 1 2.9 1 .6 1 .1 .02 0 .98 0 1-.4 1-2.3 1-6.7 1-13.8 1-19 1-15.4 .61-3.1 .39 1.3 1 13 1 18.5 1 13.2 1 2.8 1-6.1 1-9.8 1-5.9 .2-.2 .8 2.9 1 9.6 1 10.4 1 7 1 3 1 .8 1 0 .79-.1 .21 0 1 .1 1-.2 1-1.5 1-4.4 1-8.5 1-10.7 1-7.2 .38-.7 .62 1.7 1 8.2 1 8.9 1 2.2 1-8.5 1-18.2 1-19.5 .97-8.2 .03 0 1 9.2 1 20.2 1 19.2 1 11.7 1 4.9 1 1.4 1 .1 .56 0 .44 .1 1 .2 1 .2 1 .1 1-.1 1-.3 1-.3 1-.2 .15 0 .85 .1 1 .3 1 .4 1 .2 1-.1 1-.1 1-.2 .74 0 .26-.1 1-.1 1-1.2 1-4.5 1-11.9 1-21.9 1-26.5 1-17.3 .33-1.3 .67 5.1 1 22.3 1 26.1 1 18.6 1 8.8 1 2.9 1 .6 .92 0 .08 0 1 .2 1 .3 1 .2 1 .1 1-.1 1-.2 1-.2 .51 0 .49 0 1 .2 1 .2 1 .1 1 0 1-.2 1-.2 1-.1 .1 0 .9 .1 1 .2 1 .1 1 0 1-.2 1-.4 1-.3 .69-.1 .31 0 1 .3 1 .3 1 .3 1 0 1-.3 1-.4 1-.3 .28 0 .72 .1 1 .1 1-.6 1-2.8 1-6.6 1-10.2 1-9.9 .87-3.4 .13 0 1 5.4 1 9.5 1 5.9 1-4.3 1-16.7 1-23.8 1-17.7 .46-2.2 .54 3.1 1 18.9 1 24.4 1 18.3 1 9.2 1 3.3 1 .8 1 .1 .05 0 .95 .1 1 .1 1 .1 1 0 1-.1 1-.1 1-.2 .64 0 .36 0 1 .1 1 .2 1 .1 1 .1 1-.1 1-.1 1-.1 .23 0 .77 0 1 .1 1 .1 1 0 1-.2 1-.2 1-.3 .82-.1 .18 0 1 .2 1 .3 1 .2 1 0 1-.2 1-.3 1-.2 .41 0 .59 0 1 .3 1 .3 1 .2 1 .1 1-.1 1-.1 1 0 1 0 1 .1 1 0 1-.1 1-.3 1-.5 1-.3 .59-.1 .41 0 1 .4 1 .4 1 .3 1 .1 1-.1 1-.1 1-.2 .18 0 .82 0 1-.5 1-2.5 1-7.8 1-16.7 1-24.6 1-22.3 .77-6.4 .23 .6 1 14.8 1 25.1 1 21.7 1 12.2 1 4.6 1 1.1 1 0 .36 0 .64 .1 1 .3 1 .4 1 .2 1-.1 1-.4 1-.5 .95-.1 .05 0 1 .2 1 .4 1 .4 1 .3 1 0 1-.2 1-.1 .54 0 .46 0 1 0 1-.3 1-1.6 1-3.9 1-6.6 1-7.4 1-3.8 .13-.1 .87 2.4 1 6.9 1 7.1 1 4.5 1 1.9 1 .2 1-.2 .72-.1 .28 0 1 .3 1 .5 1 .4 1 .1 1 .1 1-.1 1 0 .31 0 .69 0 1 .1 1 0 1 0 1 0 1-.1 1 0 .9-.1 .1 0 1 .1 1 0 1 .1 1-.1 1-.2 1-.3 1-.3 .49 0 .51 0 1 .3 1 .3 1 .1 1 0 1-.2 1-.3 1-.1 .08 0 .92 .1 1 .2 1 .3 1 0 1-.3 1-.4 1-.4 .67-.1 .33 0 1 .1 1-.4 1-2.5 1-7 1-12.8 1-15.1 1-9.2 .26-.4 .74 3.5 1 12.9 1 13.6 1 6.7 1-2.9 1-10.1 1-10.7 .85-3.7 .15 .1 1 6.2 1 10.9 1 6.5 1-5.3 1-19.3 1-27.2 1-19.9 .44-2.3 .56 3.8 1 21.9 1 27.8 1 20.7 1 10.3 1 3.5 1 .8 1 0 .03 0 .97 .1 1 0 1-.8 1-2.7 1-5.9 1-8.2 1-6.7 .62-1.4 .38 .5 1 5.7 1 8.2 1 6.6 1 3.5 1 1 1 .1 1-.2 .21 0 .79 .1 1 .3 1 .4 1 .1 1 0 1-.2 1-.2 .8-.1 .2 0 1-.1 1-.7 1-3.3 1-9.2 1-17.1 1-21.5 1-14.7 .39-1.4 .61 3.5 1 17.2 1 21.3 1 15.4 1 7.5 1 2.4 1 .4 .98 0 .02 0 1 .2 1 .3 1 .3 1 .1 1-.1 1-.2 1-.2 .57 0 .43-.1 1-.2 1-1.7 1-6.2 1-15.4 1-26.4 1-29.6 1-16.2 .16-.3 .84 9 1 26.9 1 27.9 1 16.3 1 2.6 1-5.9 1-7.3 .75-2 .25 .2 1 5.5 1 9 1 7.7 1 4.3 1 1.5 1 .2 1 0 .34 0 .66 0 1 .3 1 .2 1 .2 1 .1 1-.1 1-.1 .93 0 .07 0 1 0 1 .1 1 .1 1-.1 1-.1 1-.2 1-.2 .52 0 .48 0 1 .2 1 .2 1 .1 1 0 1-.2 1-.2 1-.2 .11 0 .89 .1 1 .2 1 .2 1 .1 1-.2 1-.3 1-.2 .7-.1 .3 0 1 .2 1 .3 1 .2 1 0 1-.2 1-.3 1-.2 .29 0 .71 .1 1 .2 1 .3 1 .1 1-.2 1-.4 1-.4 .88-.1 .12 0 1 .1 1 .1 1-.7 1-2.9 1-5.9 1-7.8 1-5.7 .47-.7 .53 .9 1 5.9 1 7.2 1 4.1 1-.9 1-5.4 1-6.6 1-3.2 .06 0 .94 2.6 1 6.7 1 6.6 1 4.2 1 1.7 1 .4 1-.1 .65 0 .35 0 1 .2 1 .2 1 .1 1 0 1-.3 1-.3 1-.2 .24 0 .76 .1 1 .3 1 .3 1 0 1-.2 1-.4 1-.5 .83-.1 .17 0 1 .3 1 .5 1 .4 1 .1 1 0 1-.2 1-.2 .42 0 .58 0 1 0 1-.4 1-2 1-4.9 1-7.9 1-8.2 1-3.7 .01 0 .99 3.5 1 8.2 1 8 1 4.8 1 1.9 1 .3 1-.2 .6-.1 .4 0 1 0 1-.9 1-4.1 1-10.8 1-18.8 1-21.5 1-12.2 .19-.3 .81 6.1 1 19.4 1 21 1 14 1 6.4 1 2 1 .4 .78 0 .22 0 1 .2 1 .1 1 .1 1-.1 1-.3 1-.5 1-.3 .37-.1 .63 .1 1 .4 1 .5 1 .2 1-.1 1-.3 1-.4 .96-.2 .04 0 1 0 1-.7 1-3.6 1-10.8 1-21.6 1-29.1 1-22.7 .55-3.8 .45 2.6 1 21.1 1 29.2 1 22.7 1 12 1 4.4 1 1.1 1 .2 .14 0 .86 .1 1 .1 1 0 1-.1 1-.2 1-.5 1-.3 .73-.2 .27 .1 1 .2 1 .5 1 .3 1 0 1-.2 1-.3 1-.3 .32 0 .68 .1 1 .3 1 .3 1 .2 1-.2 1-.3 1-.4 .91-.2 .09 0 1 .2 1 0 1-1.1 1-3.7 1-7.6 1-10 1-7.5 .5-1.1 .5 1.1 1 7.5 1 10 1 7.6 1 3.7 1 1 1 0 1-.2 .09 0 .91 .2 1 .4 1 .4 1 .2 1 0 1-.2 1-.2 .68-.1 .32 0 1 .2 1 .2 1 .2 1 0 1 0 1-.1 1-.1 .27 0 .73-.1 1-.3 1-1.8 1-5.5 1-12.3 1-18.9 1-17.9 .86-6.2 .14 .2 1 10.2 1 19 1 16.3 1 7.2 1-1.5 1-6.1 1-5.1 .45-.6 .55 1 1 5.7 1 7.4 1 5.5 1 2.6 1 .8 1 0 1-.1 .04 0 .96 0 1-.3 1-1.8 1-5.7 1-11.9 1-16.5 1-13.6 .63-2.9 .37 1 1 11.3 1 16.7 1 13.4 1 7.3 1 2.7 1 .6 1 .1 .22 0 .78 .1 1 .1 1 .1 1 0 1-.2 1-.3 1-.3 .81-.1 .19 0 1-.1 1-1 1-4.5 1-12.4 1-23.3 1-29.3 1-20.3 .4-2.1 .6 4.5 1 23.3 1 28.3 1 18.4 1 4.1 1-6.5 1-9.7 .99-4.3 .01 0 1 4.7 1 10.7 1 10.2 1 6.2 1 2.5 1 .3 1-.2 .58 0 .42 0 1 .4 1 .5 1 .3 1 0 1-.2 1-.3 1-.2 .17 0 .83 .1 1 0 1-.7 1-2.6 1-6.1 1-9 1-8.1 .76-2.3 .24 .2 1 5.2 1 8.1 1 4 1-5.8 1-17 1-22.5 1-15.2 .35-1.2 .65 4.2 1 19 1 22.8 1 16.2 1 7.7 1 2.4 1 .4 .94 0 .06 0 1 .2 1 .4 1 .3 1 .2 1-.1 1-.2 1-.1 .53 0 .47 0 1 .1 1 .2 1 .1 1-.1 1-.3 1-.4 1-.2 .12 0 .88 0 1-.4 1-2.3 1-7.6 1-16.2 1-23.3 1-20.3 .71-5.2 .29 .9 1 14.8 1 23.8 1 19.9 1 11 1 4.2"/>
<path stroke="#ee3490" d="M24.50 -0.1l1-.3 1-.3 1-.3 .85-.1 .15 0 1 .2 1 .3 1 .3 1 .1 1 0 1-.1 1-.1 .44-.1 .56 .1 1 .1 1 .1 1 .1 1 0 1-.1 1-.1 1-.1 .03 0 .97 0 1-.2 1-1.1 1-3.2 1-6.6 1-9.2 1-7.6 .62-1.5 .38 .6 1 6.3 1 9.3 1 7.4 1 3.8 1 1.2 1 .1 1-.1 .21-0 .79 .1 1 .3 1 .3 1 .2 1-.2 1-.3 1-.3 .8-.1 .2-0 1 .2 1 .4 1 .3 1 .1 1 .1 1-.1 1-.1 .39-0 .61 .1 1-0 1 .1 1-0 1-0 1-.1 1-0 .98-.1 .02-0 1-0 1-.3 1-1.3 1-3.8 1-7.7 1-10.3 1-8.2 .57-1.5 .43 .8 1 7.4 1 10.4 1 8.2 1 4.3 1 1.5 1 .3 1-0 .16-0 .84 .1 1 .1 1 .1 1-0 1-0 1-.2 1-.2 .75-0 .25-0 1-0 1-.3 1-1.5 1-4.3 1-7.8 1-9.7 1-6.3 .34-.5 .66 1.8 1 8 1 9.6 1 6.7 1 3.3 1 1.1 1 .2 .93-0 .07-0 1 .1 1-0 1 .1 1-0 1-.2 1-.2 1-.1 .52-0 .48-0 1-.1 1-.5 1-2.4 1-5.8 1-10 1-10.9 1-5.5 .11-.1 .89 3.7 1 10.3 1 10.6 1 6.8 1 3 1 .9 1 .1 .7-0 .3-0 1-.1 1-.8 1-3.3 1-8.5 1-15.4 1-18.3 1-11.5 .29-.7 .71 4 1 15.7 1 18 1 12.5 1 5.8 1 1.8 1 .3 .88-0 .12-0 1 .2 1 .2 1 .3 1-0 1-.2 1-.4 1-.3 .47-0 .53-0 1 .1 1-.6 1-2.8 1-7.2 1-11.9 1-12.8 1-6.1 .06-0 .94 4.9 1 12.4 1 12.3 1 7.8 1 3.3 1 .9 1 .1 .65-0 .35-0 1 .2 1 .2 1 .1 1-0 1-.3 1-.3 1-.2 .24-.1 .76 .1 1 .3 1 .4 1 .1 1-0 1-.1 1-.2 .83-.1 .17-0 1-0 1-.6 1-2.4 1-6.7 1-12.8 1-16.3 1-11.4 .42-1.3 .58 2.4 1 12.8 1 16.2 1 11.8 1 5.8 1 1.7 1 .2 1-.1 .01 0 .99 .2 1 .4 1 .3 1 .1 1-.1 1-.4 1-.3 .6-.1 .4 0 1 .3 1 .4 1 .3 1 .1 1-.1 1-.2 1-.1 .19 0 .81 0 1-.1 1-.8 1-2.9 1-6.3 1-9.3 1-8.5 .78-2.5 .22 .2 1 5.6 1 9.5 1 8.2 1 4.6 1 1.5 1 .2 1-.2 .37 0 .63 .1 1 .3 1 .4 1 .3 1-.1 1-.2 1-.3 .96-.2 .04 0 1 .2 1 .3 1 .3 1 .1 1 .1 1-.1 1-.1 .55 0 .45 0 1 .1 1 .1 1 0 1-.1 1-.1 1-.2 1 0 .14 0 .86 0 1 .2 1 .1 1 .1 1 0 1-.1 1-.1 .73-.1 .27 0 1 .1 1 .1 1 0 1-.1 1-.3 1-.4 1-.3 .32 0 .68 0 1-.2 1-1.7 1-6.1 1-14.2 1-22.2 1-21.8 .91-8.2 .09 .1 1 11.4 1 22.8 1 21.1 1 12.6 1 5 1 1.2 1 0 .5 0 .5 .1 1 .3 1 .4 1 .3 1 0 1-.3 1-.4 1-.1 .09 0 .91 .1 1 .3 1 .4 1 .2 1 0 1 0 1-.1 .68 0 .32 0 1 0 1 .1 1 0 1-.1 1-.3 1-.3 1-.3 .27 0 .73 .1 1 .3 1 .4 1 .1 1 0 1-.2 1-.2 .86-.1 .14 0 1 0 1-.6 1-2.8 1-7.9 1-15.2 1-19.6 1-14.1 .45-1.7 .55 2.6 1 15.1 1 19.5 1 14.4 1 7.2 1 2.3 1 .3 1-.1 .04 0 .96 .2 1 .4 1 .4 1 .1 1 0 1-.1 1-.2 .63 0 .37 0 1 0 1-.4 1-1.9 1-4.8 1-8.6 1-9.9 1-5.8 .22-.2 .78 2.6 1 8.8 1 9.7 1 6.4 1 2.8 1 .6 1-.1 .81-.1 .19 0 1 .2 1 .5 1 .4 1 .1 1-.1 1-.2 1-.2 .4 0 .6 0 1 .2 1 .2 1 .1 1-.2 1-.4 1-.4 .99-.2 .01 0 1 .2 1 .4 1 .4 1 .1 1-.1 1-.3 1-.3 .58-.1 .42 0 1 .1 1-.6 1-2.7 1-7.2 1-12.6 1-14.2 1-7.8 .17-.2 .83 4.2 1 13 1 13.8 1 9.1 1 4 1 1 1 0 .76-.1 .24 0 1 .3 1 .4 1 .3 1 .1 1-.2 1-.3 1-.3 .35 0 .65 .1 1 .3 1 .3 1 .1 1 0 1-.2 1-.2 .94-.1 .06 0 1 .1 1 .2 1 .3 1 .1 1 0 1-.1 1-.1 .53 0 .47 0 1 .1 1 .1 1-.1 1-.1 1-.3 1-.4 1-.2 .12 0 .88 .1 1 .4 1 .3 1 .1 1 0 1-.2 1-.2 .71-.1 .29 0 1 .2 1 .2 1 .2 1-.1 1-.2 1-.2 1-.2 .3 0 .7 0 1 .3 1 .2 1 .1 1-.2 1-.4 1-.4 .89-.2 .11 0 1 .2 1 .5 1 .4 1 .2 1 0 1-.1 1-.1 .48 0 .52 0 1-.2 1-1.1 1-3.9 1-9.2 1-15.4 1-16.5 1-8 .07 0 .93 6 1 15.3 1 13.6 1 3.4 1-9.5 1-18.1 1-16.2 .66-3.7 .34 1 1 13.1 1 19.8 1 16.3 1 8.7 1 3.2 1 .6 1 0 .25 0 .75 .1 1 .3 1 .3 1 .2 1-.2 1-.3 1-.4 .84-.1 .16 0 1 .2 1 .4 1 .3 1 .2 1-.1 1-.1 1-.2 .43 0 .57 .1 1 .1 1 .1 1 .1 1-.1 1-.3 1-.2 1-.2 .02 0 .98 .2 1 .2 1 .2 1 0 1-.2 1-.5 1-.4 .61-.1 .39 .1 1 .3 1 .5 1 .3 1 0 1-.2 1-.3 1-.2 .2 0 .8 0 1-.1 1-1.2 1-4.5 1-9.9 1-14.8 1-13.6 .79-4.1 .21 .3 1 8.7 1 15.2 1 13.2 1 7.6 1 2.9 1 .7 1 .1 .38 0 .62 .1 1 .1 1 .2 1 .1 1 0 1-.1 1 0 .97-.1 .03 0 1 .1 1 0 1 .1 1-.1 1-.1 1-.2 1-.2 .56 0 .44 0 1 .2 1 .2 1 .1 1 0 1-.2 1-.2 1-.2 .15 0 .85 .1 1 .2 1 .2 1 .1 1 0 1-.1 1-.1 .74-.1 .26 0 1 .1 1 .2 1 0 1 0 1-.1 1-.2 1-.1 .33 0 .67 0 1 .2 1 .1 1 .2 1-.1 1 0 1-.2 .92 0 .08 0 1-.1 1-.4 1-2 1-5.7 1-11.1 1-14.6 1-11.1 .51-1.7 .49 1.5 1 11 1 14.6 1 11.2 1 5.6 1 1.9 1 .2 1-.1 .1 0 .9 .2 1 .3 1 .3 1 .2 1 0 1-.2 1-.1 .69 0 .31 0 1 .1 1 .1 1 .1 1 0 1-.1 1-.1 1-.1 .28 0 .72 0 1 .1 1 .2 1 0 1-.1 1-.3 1-.2 .87-.1 .13 0 1 .1 1 .3 1 .2 1 .1 1-.2 1-.2 1-.2 .46 0 .54 0 1 .2 1 .2 1 .1 1-.2 1-.4 1-.4 1-.2 .05 0 .95 .2 1 .4 1 .4 1 .2 1 0 1-.2 1-.2 .64 0 .36 0 1 .2 1 .2 1 .1 1 0 1-.1 1-.2 1-.1 .23 0 .77 0 1-.1 1-.9 1-3.1 1-6.9 1-10.3 1-9.7 .82-3.1 .18 .2 1 5.9 1 10.6 1 9.4 1 5.4 1 2.2 1 .5 1 .1 .41 0 .59 0 1 .1 1 .1 1 0 1-.1 1-.3 1-.3 1-.1 1 .1 1 0 1-.9 1-3.1 1-6.4 1-8.9 1-7.1 .59-1.3 .41 .7 1 6.2 1 8.9 1 7 1 3.5 1 1.1 1 0 1-.2 .18 0 .82 .2 1 .3 1 .4 1 .2 1-.1 1-.2 1-.3 .77-.1 .23 0 1 .2 1 .3 1 .2 1 0 1-.3 1-.4 1-.2 .36-.1 .64 .1 1 .3 1 .4 1 .2 1 .1 1-.1 1-.1 .95-.1 .05 0 1-.1 1-.9 1-3.7 1-10.5 1-20.6 1-27.6 1-21.4 .54-3.5 .46 2.6 1 20.1 1 27.7 1 21.4 1 11.1 1 3.9 1 .9 1 0 .13 0 .87 .1 1 0 1-1 1-3.4 1-7.5 1-10.9 1-9.6 .72-2.5 .28 .4 1 6.7 1 10.6 1 7.2 1-.1 1-7.6 1-11.1 1-7.3 .31-.5 .69 2.4 1 9.9 1 11.4 1 8 1 3.7 1 .9 1 0 .9-.1 .1 0 1 .1 1-.2 1-1.7 1-5.6 1-11.1 1-14.6 1-10.9 .49-1.5 .51 1.7 1 11 1 14.6 1 11 1 5.6 1 2 1 .4 1 0 .08 0 .92 .1 1 .1 1 .2 1 0 1-.1 1-.2 1-.2 .67 0 .33 0 1 .1 1 .3 1 .1 1 0 1-.1 1-.1 1-.1 .26 0 .74 0 1 .2 1 .1 1 .1 1 0 1-.1 1-.1 .85 0 .15 0 1 .1 1 0 1 .1 1 0 1-.2 1-.1 1-.2 .44 0 .56 0 1 .2 1 .1 1 .1 1 0 1-.1 1-.1 1-.1 .03 0 .97 .1 1 .1 1 .1 1 0 1-.3 1-.3 1-.3 .62-.1 .38 0 1 .2 1-.2 1-1.5 1-4.2 1-7.7 1-8.8 1-5 .21-.2 .79 2.4 1 7.8 1 8.7 1 5.7 1 2.7 1 .8 1 .1 .8 0 .2 0 1 .1 1 .1 1 .1 1-.1 1-.1 1-.2 1-.1 .39-.1 .61 .1 1 .1 1 .2 1 .1 1-.1 1-.2 1-.3 .98-.1 .02 0 1 .2 1 .2 1 .2 1 .1 1-.1 1-.2 1-.2 .57 0 .43 0 1 .2 1 .2 1 .1 1 0 1 0 1-.2 1 0 .16 0 .84 0 1 .1 1 .1 1 .1 1 0 1-.1 1-.1 .75 0 .25 0 1-.1 1-.4 1-1.9 1-5 1-9.1 1-11.2 1-7.3 .34-.6 .66 2 1 9 1 9.8 1 4 1-5 1-12.3 1-13.3 .93-5.2 .07 0 1 6.9 1 14.1 1 13.1 1 7.8 1 3.1 1 .7 1-.1 .52 0 .48 .1 1 .3 1 .4 1 .2 1 .1 1 0 1-.1 1 0 .11 0 .89-.1 1-.4 1-1.8 1-5.5 1-11.5 1-16.4 1-14.2 .7-3.5 .3 .7 1 10.5 1 16.7 1 13.8 1 7.5 1 2.6 1 .4 1-.1 .29 0 .71 0 1-.1 1-1.6 1-6 1-14 1-21.6 1-20.9 .88-7.4 .12 .1 1 11.6 1 22.2 1 20.3 1 12 1 4.9 1 1.4 1 .3 .47 0 .53 .1 1 0 1 .1 1 0 1-.1 1-.2 1-.3 1-.1 .06 0 .94 0 1-.1 1-1.2 1-3.9 1-8.3 1-11.7 1-9.8 .65-2.2 .35 .6 1 7.9 1 11.9 1 9.6 1 5.2 1 1.9 1 .5 1 0 .24 0 .76 .1 1 .1 1 .1 1 0 1-.1 1-.3 1-.3 .83-.1 .17 0 1 .2 1 .3 1 .2 1 .2 1 0 1-.1 1 0 .42 0 .58 0 1 0 1 .1 1-.1 1-.2 1-.5 1-.4 1-.2 .01 0 .99 .1 1-.1 1-1.6 1-5.3 1-11 1-15.2 1-12.3 .6-2.4 .4 1.1 1 10.6 1 15.4 1 12.2 1 6.4 1 2.2 1 .3 1 0 .19 0 .81 .1 1 .3 1 .3 1 0 1-.2 1-.4 1-.4 .78-.1 .22 0 1 .3 1 .4 1 .4 1 0 1-.1 1-.4 1-.2 .37 0 .63 0 1 .3 1 .4 1 .2 1 0 1-.1 1-.2 .96-.1 .04 0 1 .1 1 .2 1 .1 1 0 1 0 1-.2 1-.1 .55 0 .45 0 1 .1 1 .2 1 .1 1 0 1-.1 1-.1 1-.1 .14 0 .86 0 1 .2 1 .1 1 0 1 0 1-.1 1 0 .73-.1 .27 0 1-.1 1-.6 1-2.3 1-6.1 1-11.1 1-13.4 1-8.7 .32-.6 .68 2.6 1 10.8 1 11.5 1 3.6 1-8.1 1-18.1 1-18.8 .91-7.2 .09 .1 1 10 1 20.3 1 18.6 1 11.2 1 4.6 1 1.3 1 .1 .5 .1 .5 0 1-.1 1-.5 1-2.4 1-5.8 1-9.8 1-10.6 1-5.3 .09 0 .91 3.7 1 9.8 1 9.1 1 3.2 1-4.2 1-9.2 1-8.5 .68-2 .32 .5 1 6.6 1 10.3 1 8.5 1 4.5 1 1.5 1 .1 1-.2 .27 0 .73 .1 1 .4 1 .4 1 .1 1-.1 1-.4 1-.5 .86-.1 .14 0 1 .2 1 .5 1 .4 1 .2 1 0 1-.1 1-.1 .45-.1 .55 0 1-.3 1-1.7 1-5.8 1-13.6 1-22.2 1-23.5 1-10.9 .04 0 .96 9.4 1 23 1 22.7 1 14.2 1 6.1 1 1.6 1 .1 .63 0 .37 .1 1 .2 1 .4 1 .3 1 0 1-.3 1-.3 1-.2 .22 0 .78 .1 1 .3 1 .3 1 .2 1 0 1-.1 1-.2 .81-.1 .19 0 1 .2 1 .2 1 .1 1 0 1 0 1-.2 1 0 .4-.1 .6 .1 1 .1 1 .1 1 0 1-.2 1-.4 1-.4 .99-.2 .01 0 1 .1 1 0 1-1.4 1-4.6 1-9.5 1-13 1-10.4 .58-1.9 .42 1 1 9 1 12.1 1 6.8 1-3.1 1-12.8 1-16 1-9.1 .17-.2 .83 4.9 1 15.3 1 16.2 1 10.7 1 4.8 1 1.4 1 .1 .76 0 .24 0 1 .2 1 .3 1 .2 1 .1 1-.2 1-.2 1-.1 .35 0 .65 0 1 .2 1 .2 1 0 1-.1 1-.4 1-.4 .94-.2 .06 0 1 .2 1 .4 1 .4 1 .2 1-.1 1-.1 1-.1 .53 0 .47 0 1 .1 1 .2 1 .1 1 0 1 0 1-.1 1-.1 .12 0 .88 .1 1 0 1 .1 1-.1 1-.2 1-.3 1-.2 .71-.1 .29 0 1 .2 1 .3 1 .2 1 0 1-.2"/>
</g>
<g id="lr" class="sq" transform="scale(0.75,1)"><text x="47.92 98.52 219.96 240.20 290.80 341.40 412.24 422.36 543.80 553.92 594.40 675.36 736.08 776.56 806.92 847.40 857.52 938.48 999.20 1019.44 1070.04 1120.64 1181.36 1191.48 1211.72 1323.04 1333.16 1363.52 1484.96 1565.92 1576.04" y="0" fill="#3ca046" stroke="#3ca046">AAAAAAAAAAAAAAAAAAAAAAAAAAAAAAA</text><text x="37.80 88.40 169.36 209.84 260.44 280.68 300.92 331.28 361.64 371.76 392.00 402.12 432.48 452.72 462.84 513.44 533.68 574.16 584.28 614.64 645.00 655.12 665.24 685.48 695.60 715.84 725.96 766.44 827.16 837.28 928.36 968.84 1039.68 1049.80 1059.92 1080.16 1110.52 1140.88 1151.00 1231.96 1242.08 1292.68 1312.92 1353.40 1404.00 1444.48 1454.60 1474.84 1505.20 1515.32 1545.68 1555.80 1596.28" y="0" fill="#6060e2" stroke="#6060e2">CCCCCCCCCCCCCCCCCCCCCCCCCCCCCCCCCCCCCCCCCCCCCCCCCCCCC</text><text x="58.04 78.28 108.64 128.88 139.00 159.24 189.60 250.32 321.16 351.52 483.08 493.20 503.32 564.04 604.52 746.20 756.32 796.80 817.04 867.64 887.88 898.00 918.24 948.60 1029.56 1100.40 1130.76 1262.32 1272.44 1282.56 1343.28 1373.64 1434.36 1495.08 1586.16" y="0" fill="#505050" stroke="#505050">GGGGGGGGGGGGGGGGGGGGGGGGGGGGGGGGGGG</text><text x="68.16 118.76 149.12 179.48 199.72 230.08 270.56 311.04 381.88 442.60 472.96 523.56 624.76 634.88 705.72 786.68 877.76 908.12 958.72 978.96 989.08 1009.32 1090.28 1161.12 1171.24 1201.60 1221.84 1252.20 1302.80 1383.76 1393.88 1414.12 1424.24 1464.72 1525.44 1535.56" y="0" fill="#e4509a" stroke="#e4509a">TTTTTTTTTTTTTTTTTTTTTTTTTTTTTTTTTTTT</text></g>
</defs>
<rect width="1229" height="777" fill="#fff"/>
<text x="133" y="29.7" font-family="Liberation Sans" font-weight="bold" font-size="18.4" fill="#111" textLength="308.5" lengthAdjust="spacingAndGlyphs">Chr.2: 241,662,748 to 241,662,828</text>
<text x="704.2" y="29.7" font-family="Liberation Sans" font-weight="bold" font-size="18.4" fill="#111" textLength="297.5" lengthAdjust="spacingAndGlyphs">Chr.16: 72,887,284 to 72,887,377</text>
<rect x="13" y="102.5" width="1187.7" height="1.7" fill="#666"/>
<path stroke="#555" stroke-width="1.4" d="M28.35 99.7V102.8M35.94 99.7V102.8M43.53 99.7V102.8M51.12 99.7V102.8M58.71 95.8V102.8M66.30 99.7V102.8M73.89 99.7V102.8M81.48 99.7V102.8M89.07 99.7V102.8M96.66 95.8V102.8M104.25 99.7V102.8M111.84 99.7V102.8M119.43 99.7V102.8M127.02 99.7V102.8M134.61 95.8V102.8M142.20 99.7V102.8M149.79 99.7V102.8M157.38 99.7V102.8M164.97 99.7V102.8M172.56 95.8V102.8M180.15 99.7V102.8M187.74 99.7V102.8M195.33 99.7V102.8M202.92 99.7V102.8M210.51 95.8V102.8M218.10 99.7V102.8M225.69 99.7V102.8M233.28 99.7V102.8M240.87 99.7V102.8M248.46 95.8V102.8M256.05 99.7V102.8M263.64 99.7V102.8M271.23 99.7V102.8M278.82 99.7V102.8M286.41 95.8V102.8M294.00 99.7V102.8M301.59 99.7V102.8M309.18 99.7V102.8M316.77 99.7V102.8M324.36 95.8V102.8M331.95 99.7V102.8M339.54 99.7V102.8M347.13 99.7V102.8M354.72 99.7V102.8M362.31 95.8V102.8M369.90 99.7V102.8M377.49 99.7V102.8M385.08 99.7V102.8M392.67 99.7V102.8M400.26 95.8V102.8M407.85 99.7V102.8M415.44 99.7V102.8M423.03 99.7V102.8M430.62 99.7V102.8M438.21 95.8V102.8M445.80 99.7V102.8M453.39 99.7V102.8M460.98 99.7V102.8M468.57 99.7V102.8M476.16 95.8V102.8M483.75 99.7V102.8M491.34 99.7V102.8M498.93 99.7V102.8M506.52 99.7V102.8M514.11 95.8V102.8M521.70 99.7V102.8M529.29 99.7V102.8M536.88 99.7V102.8M544.47 99.7V102.8M552.06 95.8V102.8M559.65 99.7V102.8M567.24 99.7V102.8M574.83 99.7V102.8M582.42 99.7V102.8M590.01 95.8V102.8M597.60 99.7V102.8M605.19 99.7V102.8M612.78 99.7V102.8M620.37 99.7V102.8M627.96 95.8V102.8M635.55 99.7V102.8M643.14 99.7V102.8M650.73 99.7V102.8M658.32 99.7V102.8M665.91 95.8V102.8M673.50 99.7V102.8M681.09 99.7V102.8M688.68 99.7V102.8M696.27 99.7V102.8M703.86 95.8V102.8M711.45 99.7V102.8M719.04 99.7V102.8M726.63 99.7V102.8M734.22 99.7V102.8M741.81 95.8V102.8M749.40 99.7V102.8M756.99 99.7V102.8M764.58 99.7V102.8M772.17 99.7V102.8M779.76 95.8V102.8M787.35 99.7V102.8M794.94 99.7V102.8M802.53 99.7V102.8M810.12 99.7V102.8M817.71 95.8V102.8M825.30 99.7V102.8M832.89 99.7V102.8M840.48 99.7V102.8M848.07 99.7V102.8M855.66 95.8V102.8M863.25 99.7V102.8M870.84 99.7V102.8M878.43 99.7V102.8M886.02 99.7V102.8M893.61 95.8V102.8M901.20 99.7V102.8M908.79 99.7V102.8M916.38 99.7V102.8M923.97 99.7V102.8M931.56 95.8V102.8M939.15 99.7V102.8M946.74 99.7V102.8M954.33 99.7V102.8M961.92 99.7V102.8M969.51 95.8V102.8M977.10 99.7V102.8M984.69 99.7V102.8M992.28 99.7V102.8M999.87 99.7V102.8M1007.46 95.8V102.8M1015.05 99.7V102.8M1022.64 99.7V102.8M1030.23 99.7V102.8M1037.82 99.7V102.8M1045.41 95.8V102.8M1053.00 99.7V102.8M1060.59 99.7V102.8M1068.18 99.7V102.8M1075.77 99.7V102.8M1083.36 95.8V102.8M1090.95 99.7V102.8M1098.54 99.7V102.8M1106.13 99.7V102.8M1113.72 99.7V102.8M1121.31 95.8V102.8M1128.90 99.7V102.8M1136.49 99.7V102.8M1144.08 99.7V102.8M1151.67 99.7V102.8M1159.26 95.8V102.8M1166.85 99.7V102.8M1174.44 99.7V102.8M1182.03 99.7V102.8M1189.62 99.7V102.8M1197.21 95.8V102.8"/>
<g font-family="Liberation Sans" font-size="13.6" fill="#555" stroke="#555" stroke-width="0.4" text-anchor="middle"><text x="96.66" y="93.3">550</text><text x="172.56" y="93.3">560</text><text x="248.46" y="93.3">570</text><text x="324.36" y="93.3">580</text><text x="400.26" y="93.3">590</text><text x="476.16" y="93.3">600</text><text x="552.06" y="93.3">610</text><text x="627.96" y="93.3">620</text><text x="703.86" y="93.3">630</text><text x="779.76" y="93.3">640</text><text x="855.66" y="93.3">650</text><text x="931.56" y="93.3">660</text><text x="1007.46" y="93.3">670</text><text x="1083.36" y="93.3">680</text><text x="1159.26" y="93.3">690</text></g>
<g class="sq" transform="translate(0,121.4) scale(0.75,1)"><text x="47.92 98.52 219.96 240.20 290.80 341.40 412.24 422.36 543.80 553.92 594.40 675.36 736.08 776.56 806.92 847.40 857.52 938.48 999.20 1019.44 1070.04 1120.64 1181.36 1191.48 1211.72 1323.04 1333.16 1363.52 1484.96 1565.92 1576.04" y="0" fill="#555" stroke="#555">AAAAAAAAAAAAAAAAAAAAAAAAAAAAAAA</text><text x="37.80 88.40 169.36 209.84 260.44 280.68 300.92 331.28 361.64 371.76 392.00 402.12 432.48 452.72 462.84 513.44 533.68 574.16 584.28 614.64 645.00 655.12 665.24 685.48 695.60 715.84 725.96 766.44 827.16 837.28 928.36 968.84 1039.68 1049.80 1059.92 1080.16 1110.52 1140.88 1151.00 1231.96 1242.08 1292.68 1312.92 1353.40 1404.00 1444.48 1454.60 1474.84 1505.20 1515.32 1545.68 1555.80 1596.28" y="0" fill="#555" stroke="#555">CCCCCCCCCCCCCCCCCCCCCCCCCCCCCCCCCCCCCCCCCCCCCCCCCCCCC</text><text x="58.04 78.28 108.64 128.88 139.00 159.24 189.60 250.32 321.16 351.52 483.08 493.20 503.32 564.04 604.52 746.20 756.32 796.80 817.04 867.64 887.88 898.00 918.24 948.60 1029.56 1100.40 1130.76 1262.32 1272.44 1282.56 1343.28 1373.64 1434.36 1495.08 1586.16" y="0" fill="#555" stroke="#555">GGGGGGGGGGGGGGGGGGGGGGGGGGGGGGGGGGG</text><text x="68.16 118.76 149.12 179.48 199.72 230.08 270.56 311.04 381.88 442.60 472.96 523.56 624.76 634.88 705.72 786.68 877.76 908.12 958.72 978.96 989.08 1009.32 1090.28 1161.12 1171.24 1201.60 1221.84 1252.20 1302.80 1383.76 1393.88 1414.12 1424.24 1464.72 1525.44 1535.56" y="0" fill="#555" stroke="#555">TTTTTTTTTTTTTTTTTTTTTTTTTTTTTTTTTTTT</text></g>
<rect x="13" y="127.4" width="1191" height="3.3" fill="#7a7a7a"/>
<rect x="13" y="127.4" width="1.3" height="629" fill="#8a8a8a"/>
<rect x="13" y="754.4" width="1191" height="1.8" fill="#666"/>
<rect x="1211" y="128.6" width="4" height="634.7" fill="#f0f0f0"/>
<rect x="23.3" y="130.5" width="1.6" height="625" fill="#666"/>
<rect x="1201.8" y="130.5" width="1.6" height="625" fill="#777"/>
<path stroke="#a8e2f0" stroke-width="1" d="M172.60 131.20v105.90M324.30 131.20v105.90M476.00 131.20v105.90M627.70 131.20v105.90M779.40 131.20v105.90M931.10 131.20v105.90M1082.80 131.20v105.90"/>
<rect x="24.9" y="236.50" width="1177" height="1.7" fill="#8c3560"/>
<g clip-path="url(#pc)"><use href="#tr0" transform="translate(0,237.10) scale(1,1.0)"/></g>
<use href="#lr" transform="translate(0,251.90)"/>
<path stroke="#a8e2f0" stroke-width="1" d="M172.60 255.94v105.90M324.30 255.94v105.90M476.00 255.94v105.90M627.70 255.94v105.90M779.40 255.94v105.90M931.10 255.94v105.90M1082.80 255.94v105.90"/>
<rect x="24.9" y="361.24" width="1177" height="1.7" fill="#8c3560"/>
<g clip-path="url(#pc)"><use href="#tr3" transform="translate(0,361.84) scale(1,1.0)"/></g>
<use href="#lr" transform="translate(0,376.64)"/>
<path stroke="#a8e2f0" stroke-width="1" d="M172.60 380.68v105.90M324.30 380.68v105.90M476.00 380.68v105.90M627.70 380.68v105.90M779.40 380.68v105.90M931.10 380.68v105.90M1082.80 380.68v105.90"/>
<rect x="24.9" y="485.98" width="1177" height="1.7" fill="#8c3560"/>
<g clip-path="url(#pc)"><use href="#tr1" transform="translate(0,486.58) scale(1,1.0)"/></g>
<use href="#lr" transform="translate(0,501.38)"/>
<path stroke="#a8e2f0" stroke-width="1" d="M172.60 505.42v105.90M324.30 505.42v105.90M476.00 505.42v105.90M627.70 505.42v105.90M779.40 505.42v105.90M931.10 505.42v105.90M1082.80 505.42v105.90"/>
<rect x="24.9" y="610.72" width="1177" height="1.7" fill="#8c3560"/>
<g clip-path="url(#pc)"><use href="#tr2" transform="translate(0,611.32) scale(1,1.0)"/></g>
<use href="#lr" transform="translate(0,626.12)"/>
<path stroke="#a8e2f0" stroke-width="1" d="M172.60 630.16v105.90M324.30 630.16v105.90M476.00 630.16v105.90M627.70 630.16v105.90M779.40 630.16v105.90M931.10 630.16v105.90M1082.80 630.16v105.90"/>
<rect x="24.9" y="735.46" width="1177" height="1.7" fill="#8c3560"/>
<g clip-path="url(#pc)"><use href="#tr1" transform="translate(0,736.06) scale(1,0.97)"/></g>
<use href="#lr" transform="translate(0,750.86)"/>
<rect x="23.3" y="255.04" width="1180" height="1.9" fill="#2a2a2a"/>
<rect x="23.3" y="379.78" width="1180" height="1.9" fill="#2a2a2a"/>
<rect x="23.3" y="504.52" width="1180" height="1.9" fill="#2a2a2a"/>
<rect x="23.3" y="629.26" width="1180" height="1.9" fill="#2a2a2a"/>
<rect x="23.3" y="754.00" width="1180" height="1.9" fill="#2a2a2a"/>
<rect x="23.3" y="130.50" width="1180" height="1.6" fill="#222"/>
<rect x="539.3" y="108.5" width="24" height="646.5" fill="#3399ff" style="mix-blend-mode:multiply"/>
<polygon fill="#ff0000" points="25.5,105 25.5,66.5 565.2,63.2 567.3,63.2 567.3,97.5 563.2,97.5 563.2,67.0 29.6,70.2 29.6,105"/>
<polygon fill="#00b050" points="536.2,98.7 536.2,49.4 1199.5,50.8 1199.5,99.6 1195.2,99.6 1195.2,54.7 540.1,53.7 540.1,98.7"/>
</svg></body></html>
